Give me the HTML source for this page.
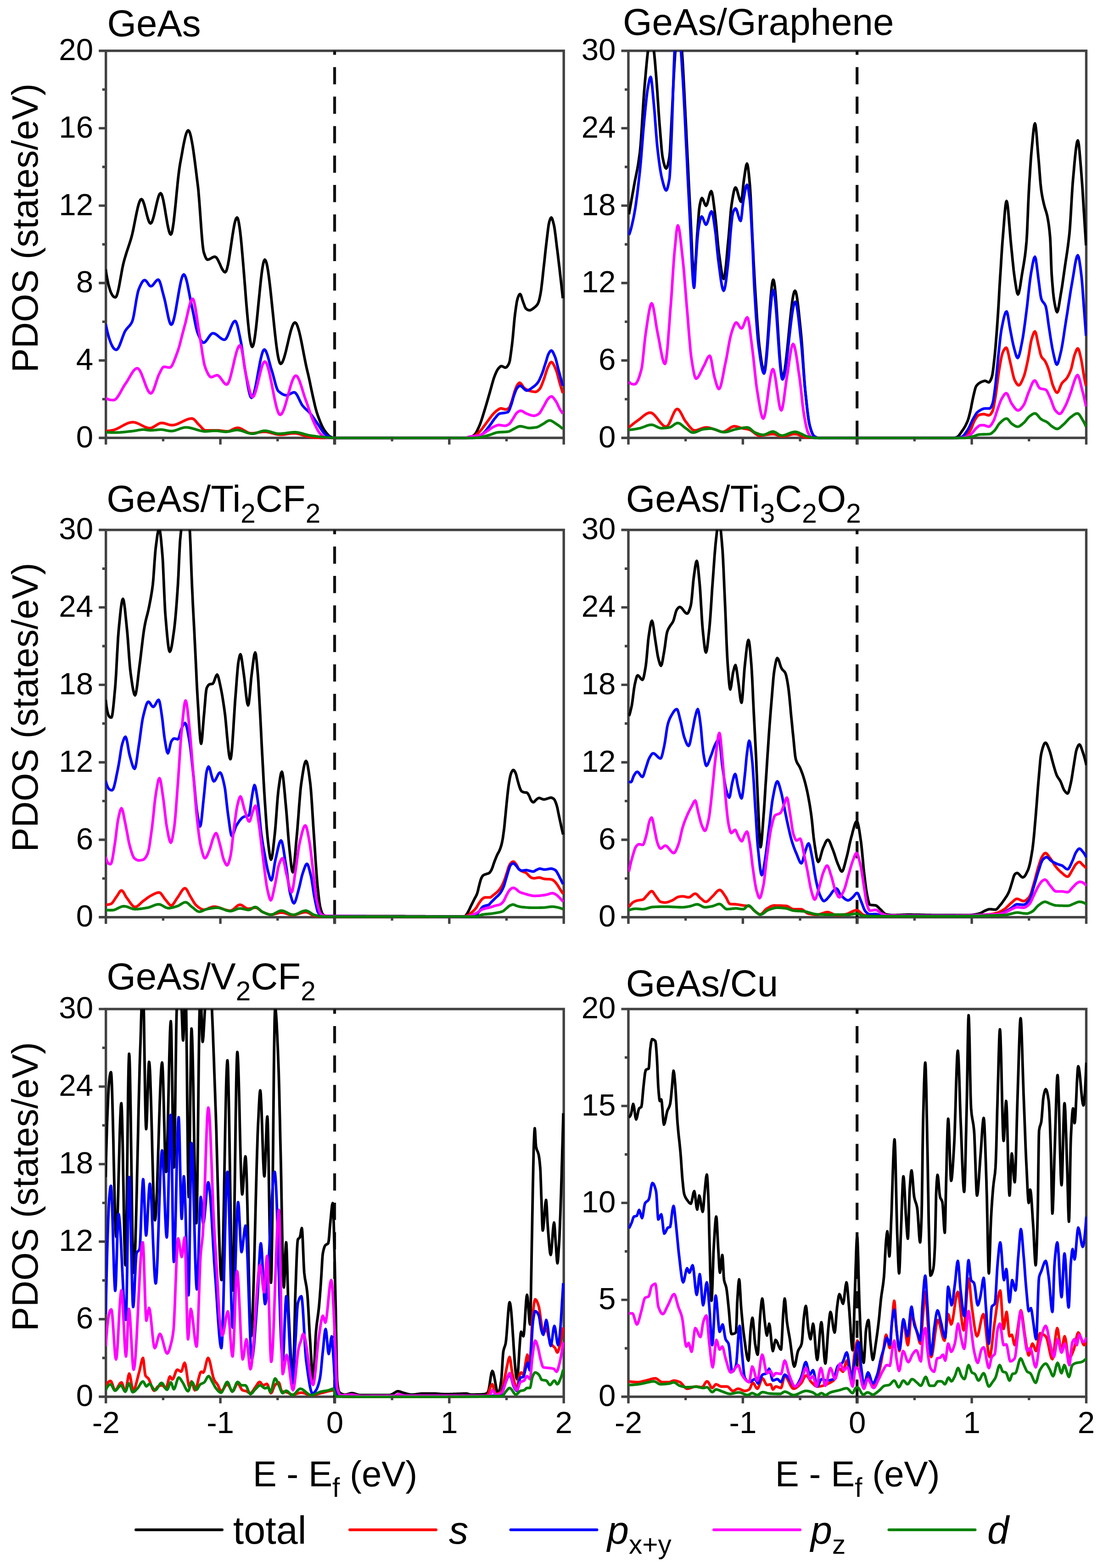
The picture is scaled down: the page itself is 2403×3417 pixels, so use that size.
<!DOCTYPE html>
<html lang="en"><head><meta charset="utf-8"><title>PDOS</title>
<style>
html,body{margin:0;padding:0;background:#fff;}
body{width:2403px;height:3417px;overflow:hidden;}
svg{display:block;}
text{font-family:"Liberation Sans",sans-serif;fill:#000;}
.t{font-size:80px;}
.tt{font-size:81.7px;}
.xl{font-size:78px;}
.yl{font-size:79.3px;}
.lg{font-size:84.5px;}
.tk{font-size:67.3px;}
.sub{font-size:58.5px;}
.it{font-style:italic;}
.c{fill:none;stroke-width:5.8;stroke-linejoin:round;stroke-linecap:butt;}
.f{fill:none;stroke:#424242;stroke-width:5.4;}
</style></head><body>
<svg width="2403" height="3417" viewBox="0 0 2403 3417">
<rect width="2403" height="3417" fill="#fff"/>

<g id="p1">
<clipPath id="clip0"><rect x="230.7" y="110.7" width="998.5" height="847.5"/></clipPath>
<rect class="f" x="230.7" y="110.7" width="997.5" height="843.5"/>
<line x1="729.0" y1="968.7" x2="729.0" y2="110.7" stroke="#111" stroke-width="6.2" stroke-dasharray="52.0 26.7 37.5 26.7 37.5 26.7 37.5 26.7 37.5 26.7 37.5 26.7 37.5 26.7 37.5 26.7 37.5 26.7 37.5 26.7 37.5 26.7 37.5 26.7 37.5 26.7 37.5 26.7"/>
<g clip-path="url(#clip0)">
<polyline class="c" stroke="#000000" stroke-width="6.0" points="230.2,586.8 232.1,598.9 234.0,609.4 235.9,618.4 237.9,626.0 239.8,632.4 241.7,637.5 243.7,641.5 245.6,644.5 247.5,646.5 249.5,647.6 251.4,648.0 253.3,646.4 255.1,642.0 257.0,635.2 258.9,626.7 260.7,617.0 262.6,606.6 264.5,596.1 266.3,586.0 268.2,576.8 270.1,569.1 271.9,562.8 273.7,556.9 275.4,551.2 277.2,545.7 279.0,540.3 280.8,534.9 282.6,529.3 284.4,523.6 286.2,517.6 288.2,509.9 290.2,501.0 292.1,491.3 294.1,481.2 296.1,471.1 298.1,461.5 300.1,452.6 302.1,445.0 304.1,439.1 306.1,435.2 308.1,433.9 310.1,435.4 312.1,439.4 314.1,445.3 316.1,452.6 318.1,460.4 320.0,468.3 322.0,475.5 324.0,481.5 326.0,485.5 328.0,487.0 330.0,485.5 332.0,481.2 334.0,474.9 336.0,467.2 338.0,458.5 340.0,449.5 342.0,440.8 344.0,433.0 345.9,426.7 347.9,422.5 349.9,421.0 351.8,422.8 353.6,427.7 355.5,435.1 357.3,444.4 359.2,454.9 361.0,466.1 362.9,477.2 364.7,487.8 366.6,497.1 368.4,504.5 370.3,509.4 372.1,511.1 373.7,509.1 375.3,503.4 376.8,494.6 378.4,483.3 379.9,469.9 381.5,455.1 383.1,439.3 384.6,423.2 386.2,407.3 387.7,392.1 389.3,378.3 390.9,366.2 392.4,356.6 394.4,345.9 396.4,334.9 398.3,323.9 400.3,313.5 402.3,304.1 404.2,296.0 406.2,289.7 408.2,285.6 410.1,284.1 412.0,285.7 413.9,290.2 415.8,297.3 417.7,306.7 419.7,317.8 421.6,330.6 423.5,344.5 425.4,359.2 427.3,374.4 429.2,389.8 431.1,404.9 432.1,413.7 433.0,424.4 434.0,436.5 435.0,449.7 436.0,463.6 437.0,477.7 438.0,491.7 439.0,505.1 440.0,517.6 441.0,528.7 442.0,538.0 443.0,545.2 443.9,549.8 445.6,554.8 447.2,559.2 448.8,562.7 450.4,565.0 452.0,565.9 453.8,565.7 455.6,565.1 457.4,564.2 459.2,563.2 460.9,562.1 462.7,561.1 464.5,560.3 466.3,559.7 468.1,559.4 470.0,560.1 471.9,561.9 473.7,564.7 475.6,568.2 477.5,572.2 479.4,576.3 481.2,580.5 483.1,584.5 485.0,588.0 486.9,590.7 488.8,592.6 490.6,593.3 492.6,591.2 494.6,585.7 496.6,577.1 498.6,566.4 500.5,553.9 502.5,540.5 504.5,526.8 506.5,513.4 508.5,501.0 510.4,490.2 512.4,481.7 514.4,476.1 516.4,474.1 517.8,475.5 519.2,479.7 520.5,486.2 521.9,495.0 523.3,505.7 524.7,518.1 526.1,532.0 527.4,547.2 528.8,563.3 530.2,580.1 531.6,597.4 533.0,615.0 534.4,632.6 535.7,649.9 537.1,666.7 538.5,682.8 539.9,697.9 541.3,711.8 542.6,724.3 544.0,735.0 545.4,743.7 546.8,750.3 548.2,754.4 549.6,755.9 551.3,753.7 553.0,747.7 554.7,738.3 556.4,726.2 558.1,711.8 559.8,695.7 561.5,678.6 563.2,660.9 565.0,643.2 566.7,626.0 568.4,609.9 570.1,595.6 571.8,583.4 573.5,574.0 575.2,568.0 576.9,565.9 578.7,567.7 580.6,572.9 582.4,581.1 584.2,591.8 586.0,604.8 587.8,619.5 589.6,635.6 591.4,652.7 593.2,670.4 595.1,688.3 596.9,706.0 598.7,723.1 600.5,739.3 602.3,754.0 604.1,766.9 605.9,777.7 607.8,785.9 609.6,791.1 611.4,792.9 613.3,791.9 615.3,789.0 617.2,784.6 619.2,778.8 621.1,772.0 623.1,764.4 625.0,756.2 627.0,747.8 628.9,739.4 630.9,731.2 632.8,723.6 634.8,716.8 636.8,711.0 638.7,706.6 640.7,703.7 642.6,702.7 644.5,703.7 646.4,706.6 648.3,711.1 650.2,717.1 652.2,724.3 654.1,732.4 656.0,741.4 657.9,750.9 659.8,760.7 661.7,770.7 663.6,780.5 665.5,790.1 667.4,799.1 669.3,807.4 671.2,815.3 673.1,823.7 675.0,832.4 676.8,841.3 678.7,850.3 680.6,859.2 682.5,867.9 684.4,876.2 686.2,884.1 688.1,891.5 690.0,898.1 691.9,904.0 693.7,909.0 695.5,913.8 697.2,918.3 699.0,922.6 700.8,926.7 702.6,930.4 704.4,933.7 706.2,936.8 708.0,939.4 709.8,941.8 711.7,944.2 713.5,946.3 715.3,948.3 717.2,950.0 719.0,951.3 720.9,952.3 722.7,953.0 724.6,953.7 726.4,954.1 728.3,954.3 1015.0,954.3 1016.8,954.2 1018.6,954.0 1020.4,953.7 1022.2,953.3 1024.1,952.9 1025.9,952.2 1027.8,951.4 1029.6,950.3 1031.5,949.1 1033.3,947.8 1035.2,945.9 1037.0,943.2 1038.9,939.8 1040.7,936.0 1042.6,932.0 1044.4,927.8 1046.3,923.2 1048.1,918.1 1050.0,912.4 1051.9,906.5 1053.7,900.4 1055.6,894.4 1057.4,888.4 1059.3,882.2 1061.1,875.9 1063.0,869.4 1064.8,863.0 1066.7,856.7 1068.5,850.1 1070.4,843.3 1072.2,836.5 1074.1,830.0 1075.9,824.0 1077.8,818.9 1079.7,814.2 1081.7,809.8 1083.6,806.1 1085.6,803.3 1087.2,801.4 1088.9,799.6 1090.6,798.3 1092.2,797.8 1094.0,798.1 1095.8,799.0 1097.6,799.9 1099.3,800.8 1101.1,801.1 1103.1,800.4 1105.0,798.6 1106.9,795.8 1108.9,792.2 1110.6,786.2 1112.2,775.9 1113.9,763.3 1115.6,750.0 1116.7,740.2 1117.8,728.7 1118.9,716.4 1120.0,704.1 1121.1,692.8 1122.2,683.3 1124.1,669.7 1125.9,657.9 1127.8,650.0 1129.5,645.5 1131.2,642.0 1132.9,640.7 1134.7,642.7 1136.4,647.6 1138.2,653.6 1140.0,658.9 1141.9,664.0 1143.7,669.1 1145.6,672.2 1147.5,673.8 1149.4,675.1 1151.4,675.9 1153.3,676.2 1155.2,676.0 1157.0,675.2 1158.9,674.2 1160.7,672.9 1162.6,671.4 1164.4,670.0 1166.4,668.4 1168.3,666.6 1170.3,664.2 1172.2,661.1 1174.1,656.0 1175.9,648.3 1177.8,638.9 1179.1,630.4 1180.4,619.7 1181.8,607.8 1183.1,595.4 1184.4,583.3 1185.8,571.4 1187.1,559.0 1188.4,546.6 1189.8,534.5 1191.1,523.3 1192.5,511.7 1193.9,500.0 1195.3,490.0 1196.7,483.3 1198.1,478.8 1199.6,475.4 1201.1,474.0 1203.0,476.5 1204.8,482.5 1206.7,490.0 1208.0,496.9 1209.3,506.1 1210.7,516.8 1212.0,528.0 1213.3,538.9 1214.7,549.5 1216.0,560.4 1217.3,571.6 1218.7,583.0 1220.0,594.4 1221.2,605.3 1222.5,616.2 1223.7,627.3 1225.0,638.6 1226.2,650.0"/>
<polyline class="c" stroke="#ff0000" stroke-width="6.0" points="230.2,939.4 231.9,939.3 233.7,939.1 235.5,939.0 237.2,938.8 239.0,938.6 240.8,938.3 242.5,938.0 244.3,937.8 246.3,937.4 248.2,936.9 250.2,936.2 252.2,935.5 254.1,934.7 256.1,933.8 258.0,932.8 260.0,931.8 262.0,930.7 263.9,929.6 265.9,928.5 267.8,927.5 269.8,926.4 271.8,925.4 273.7,924.4 275.7,923.5 277.6,922.7 279.6,921.9 281.6,921.3 283.5,920.8 285.5,920.4 287.4,920.1 289.4,920.1 291.3,920.2 293.3,920.5 295.2,920.9 297.2,921.5 299.1,922.3 301.1,923.1 303.0,924.0 305.0,925.0 306.9,926.0 308.9,927.0 310.8,928.0 312.8,929.0 314.7,929.9 316.7,930.7 318.6,931.5 320.6,932.1 322.5,932.5 324.5,932.8 326.4,932.9 328.4,932.8 330.4,932.2 332.4,931.4 334.3,930.4 336.3,929.2 338.3,928.0 340.3,926.7 342.3,925.4 344.3,924.2 346.2,923.2 348.2,922.4 350.2,921.9 352.2,921.7 354.1,921.8 355.9,922.0 357.8,922.4 359.7,922.9 361.6,923.5 363.5,924.1 365.3,924.7 367.2,925.2 369.1,925.7 371.0,926.1 372.8,926.4 374.7,926.5 376.7,926.4 378.7,926.2 380.6,925.8 382.6,925.2 384.6,924.6 386.6,923.9 388.6,923.0 390.5,922.1 392.5,921.2 394.5,920.2 396.5,919.3 398.4,918.3 400.4,917.3 402.4,916.4 404.4,915.5 406.3,914.7 408.3,913.9 410.3,913.3 412.3,912.7 414.2,912.3 416.2,912.1 418.2,912.0 420.0,912.4 421.8,913.3 423.6,914.7 425.3,916.5 427.1,918.5 428.9,920.6 430.7,922.8 432.5,924.8 434.3,926.5 436.1,928.3 438.0,930.4 439.8,932.5 441.6,934.5 443.5,936.2 445.3,937.3 447.2,937.8 472.9,937.8 474.8,937.8 476.7,937.9 478.6,938.1 480.4,938.4 482.3,938.6 484.2,938.9 486.1,939.2 488.0,939.4 489.8,939.7 491.7,939.9 493.6,940.0 495.5,940.0 497.5,939.8 499.4,939.4 501.4,938.6 503.4,937.7 505.4,936.7 507.4,935.6 509.4,934.6 511.4,933.7 513.4,933.0 515.4,932.5 517.4,932.3 519.3,932.4 521.3,932.9 523.3,933.5 525.3,934.4 527.2,935.4 529.2,936.5 531.2,937.7 533.2,938.8 535.1,940.0 537.1,941.1 539.1,942.1 541.1,943.0 543.0,943.6 545.0,944.1 547.0,944.2 548.9,944.2 550.8,944.1 552.8,943.9 554.7,943.6 556.6,943.4 558.6,943.1 560.5,942.8 562.4,942.4 564.4,942.1 566.3,941.8 568.2,941.6 570.2,941.3 572.1,941.1 574.0,941.0 576.0,941.0 577.9,941.0 579.9,941.2 581.9,941.5 583.8,941.8 585.8,942.2 587.8,942.7 589.7,943.2 591.7,943.7 593.7,944.2 595.6,944.7 597.6,945.3 599.6,945.8 601.5,946.2 603.5,946.6 605.5,947.0 607.4,947.2 609.4,947.4 611.4,947.4 613.3,947.4 615.2,947.3 617.2,947.1 619.1,946.9 621.0,946.6 623.0,946.3 624.9,946.0 626.8,945.7 628.8,945.3 630.7,945.0 632.6,944.8 634.6,944.5 636.5,944.4 638.4,944.3 640.4,944.2 642.3,944.3 644.3,944.4 646.3,944.7 648.2,945.1 650.2,945.5 652.2,946.0 654.1,946.5 656.1,947.1 658.1,947.7 660.0,948.3 662.0,948.9 664.0,949.5 665.9,950.1 667.9,950.7 669.9,951.2 671.8,951.6 673.8,952.0 675.8,952.3 677.6,952.5 679.5,952.7 681.4,952.9 683.2,953.1 685.1,953.4 687.0,953.5 688.8,953.7 690.7,953.9 692.5,954.0 694.4,954.1 696.3,954.2 698.1,954.3 700.0,954.3 1020.0,954.3 1021.8,954.2 1023.6,954.0 1025.3,953.6 1027.1,953.2 1028.9,952.7 1030.8,952.0 1032.8,950.9 1034.7,949.7 1036.7,948.2 1038.6,946.5 1040.6,944.8 1042.5,943.0 1044.4,941.1 1046.4,939.1 1048.3,936.9 1050.3,934.4 1052.2,931.8 1054.2,929.1 1056.1,926.4 1058.1,923.7 1060.0,921.1 1061.9,918.6 1063.9,915.9 1065.8,913.3 1067.8,910.6 1069.7,908.0 1071.7,905.5 1073.6,903.2 1075.6,901.1 1077.3,899.3 1079.1,897.6 1080.9,896.0 1082.7,894.6 1084.4,893.3 1086.1,892.2 1087.8,891.1 1089.4,890.3 1091.1,890.0 1093.0,890.2 1094.8,890.6 1096.7,891.1 1098.5,891.6 1100.4,892.1 1102.2,892.2 1103.9,892.0 1105.6,891.2 1107.2,890.2 1108.9,888.9 1110.6,886.4 1112.2,882.2 1113.9,877.2 1115.6,872.2 1117.2,866.9 1118.9,860.9 1120.6,855.0 1122.2,850.0 1124.1,845.2 1125.9,840.9 1127.8,837.8 1129.3,836.0 1130.7,834.6 1132.2,834.0 1134.2,835.0 1136.2,837.4 1138.2,840.5 1140.2,843.4 1142.2,845.6 1144.1,846.9 1146.0,848.1 1147.9,849.2 1149.8,850.1 1151.7,851.0 1153.7,851.7 1155.6,852.2 1157.4,852.7 1159.3,853.1 1161.1,853.4 1163.0,853.7 1164.8,853.9 1166.7,854.0 1168.4,853.7 1170.2,852.7 1172.0,851.3 1173.8,849.6 1175.6,847.8 1177.3,845.2 1179.1,841.6 1180.9,837.2 1182.7,832.5 1184.4,827.8 1186.2,822.7 1188.0,816.8 1189.8,810.9 1191.6,805.5 1193.3,801.1 1195.3,797.0 1197.2,793.0 1199.2,790.1 1201.1,788.9 1203.1,789.9 1205.1,792.6 1207.1,796.4 1209.1,800.9 1211.1,805.6 1212.9,810.4 1214.7,816.6 1216.4,823.4 1218.2,830.3 1220.0,836.7 1221.6,841.8 1223.1,846.9 1224.7,851.8 1226.2,856.7"/>
<polyline class="c" stroke="#0000ff" stroke-width="6.0" points="230.2,705.9 232.1,714.9 234.0,723.2 235.9,730.6 237.9,737.3 239.8,743.1 241.7,748.2 243.7,752.5 245.6,756.0 247.5,758.8 249.5,760.7 251.4,761.9 253.3,762.3 255.3,761.4 257.3,759.0 259.3,755.3 261.3,750.6 263.3,745.4 265.3,739.8 267.3,734.2 269.3,728.9 271.3,724.2 273.3,720.4 275.1,717.8 276.9,715.6 278.7,713.6 280.5,711.7 282.4,709.6 284.2,707.3 286.0,704.5 287.8,701.1 289.6,695.6 291.4,687.4 293.2,677.2 295.0,666.1 296.8,655.0 298.7,644.7 300.5,636.1 302.3,630.3 304.1,626.0 306.0,621.9 307.8,618.2 309.6,615.0 311.5,612.5 313.3,610.9 315.2,610.3 317.1,611.1 319.0,613.0 321.0,615.6 322.9,618.5 324.8,621.2 326.7,623.1 328.7,623.8 330.5,623.3 332.3,622.0 334.0,620.1 335.8,617.8 337.6,615.4 339.4,613.1 341.2,611.2 343.0,609.8 344.8,609.3 346.5,610.7 348.3,614.3 350.0,619.6 351.8,626.1 353.5,633.1 355.3,640.0 357.0,646.4 358.8,653.2 360.6,661.4 362.4,670.2 364.2,679.3 366.0,688.0 367.7,695.7 369.5,701.9 371.3,706.0 373.1,707.6 375.1,706.0 377.0,701.5 379.0,694.6 380.9,685.9 382.9,675.6 384.8,664.5 386.8,652.8 388.8,641.2 390.7,630.0 392.7,619.8 394.6,611.0 396.6,604.1 398.5,599.7 400.5,598.1 402.4,599.7 404.4,604.1 406.4,610.9 408.4,619.4 410.3,629.1 412.3,639.4 414.3,649.9 416.2,659.9 418.2,668.9 420.0,677.3 421.9,686.6 423.7,696.2 425.5,705.5 427.4,714.1 429.2,721.4 431.1,726.9 432.8,731.0 434.6,735.1 436.3,738.8 438.1,742.0 439.8,744.6 441.6,746.2 443.3,746.8 445.2,746.4 447.1,745.0 448.9,743.1 450.8,740.6 452.7,737.9 454.5,735.1 456.4,732.4 458.3,730.0 460.2,728.0 462.0,726.7 463.9,726.2 465.8,726.5 467.8,727.1 469.7,728.1 471.6,729.4 473.6,730.9 475.5,732.5 477.4,734.1 479.4,735.7 481.3,737.2 483.2,738.5 485.2,739.5 487.1,740.2 489.0,740.4 491.0,739.6 492.9,737.4 494.8,734.0 496.8,729.8 498.7,725.0 500.6,720.0 502.5,714.9 504.5,710.1 506.4,705.9 508.3,702.5 510.3,700.3 512.2,699.5 514.0,700.9 515.7,704.8 517.5,710.6 519.2,717.8 520.9,726.0 522.7,734.5 524.4,743.0 526.1,751.8 527.7,762.6 529.3,774.4 530.9,786.4 532.5,797.7 534.1,807.4 536.1,818.4 538.1,829.9 540.0,841.1 542.0,851.2 544.0,859.4 546.0,864.9 547.9,866.9 549.8,865.6 551.7,861.8 553.5,856.0 555.4,848.5 557.3,839.6 559.2,829.9 561.0,819.5 562.9,809.0 564.8,798.7 566.6,788.9 568.5,780.1 570.4,772.6 572.2,766.8 574.1,763.0 576.0,761.6 577.7,762.7 579.5,765.6 581.3,770.0 583.1,775.5 584.9,781.7 586.7,788.4 588.5,795.2 590.3,801.6 592.1,807.4 593.9,813.2 595.7,819.9 597.5,826.8 599.3,833.7 601.1,840.1 602.9,845.6 604.7,849.9 606.5,852.4 608.5,854.1 610.5,855.7 612.5,857.1 614.4,858.4 616.4,859.4 618.4,860.3 620.3,860.9 622.3,861.3 624.3,861.5 626.1,861.2 628.0,860.6 629.8,859.8 631.7,858.8 633.6,857.7 635.4,856.7 637.3,855.8 639.1,855.2 641.0,855.0 642.9,855.6 644.7,857.4 646.6,860.0 648.5,863.3 650.3,867.0 652.2,870.9 654.1,874.9 655.9,878.6 657.8,882.0 659.7,884.6 661.5,886.7 663.3,888.6 665.0,890.3 666.8,892.0 668.6,893.6 670.4,895.2 672.2,896.9 674.0,898.8 675.8,900.7 677.6,902.9 679.4,905.2 681.1,907.7 682.9,910.2 684.7,912.9 686.5,915.5 688.3,918.1 690.1,920.7 691.9,923.3 693.7,925.9 695.5,928.7 697.2,931.5 699.0,934.4 700.8,937.2 702.6,939.8 704.4,942.1 706.2,944.2 708.0,945.8 709.8,947.2 711.6,948.6 713.4,949.9 715.2,951.1 717.0,952.1 718.8,952.9 720.7,953.5 722.5,953.9 724.4,954.1 726.4,954.2 728.3,954.3 1030.0,954.3 1031.9,954.0 1033.7,953.4 1035.6,952.7 1037.5,952.0 1039.4,951.3 1041.4,950.5 1043.3,949.7 1045.3,948.8 1047.2,947.8 1049.2,946.8 1051.1,945.6 1053.1,944.1 1055.0,942.3 1056.9,940.2 1058.9,937.9 1060.8,935.4 1062.8,932.8 1064.7,930.3 1066.7,927.8 1068.5,925.3 1070.4,922.6 1072.2,919.9 1074.1,917.1 1075.9,914.5 1077.8,912.2 1079.6,910.0 1081.5,907.6 1083.3,905.3 1085.2,903.4 1087.0,901.9 1088.9,901.1 1090.7,900.8 1092.4,900.6 1094.2,900.4 1096.0,900.2 1097.8,900.0 1099.6,899.7 1101.3,899.4 1103.1,899.0 1104.9,898.5 1106.7,897.8 1108.3,895.9 1110.0,892.4 1111.7,887.9 1113.3,883.3 1115.0,878.3 1116.7,872.3 1118.3,866.3 1120.0,861.1 1121.7,856.5 1123.3,852.0 1125.0,848.2 1126.7,845.6 1128.2,843.8 1129.8,842.2 1131.3,841.1 1132.9,840.7 1134.8,841.1 1136.6,842.3 1138.5,844.0 1140.3,845.9 1142.2,847.8 1144.1,849.5 1145.9,850.7 1147.8,851.1 1149.5,850.9 1151.3,850.3 1153.0,849.4 1154.8,848.2 1156.5,847.0 1158.3,845.7 1160.0,844.4 1161.9,843.2 1163.7,841.8 1165.6,840.2 1167.4,838.5 1169.3,836.6 1171.1,834.4 1172.9,831.8 1174.7,828.6 1176.4,824.9 1178.2,820.9 1180.0,816.7 1181.8,812.0 1183.6,806.8 1185.3,801.2 1187.1,795.5 1188.9,790.0 1190.6,784.6 1192.2,778.8 1193.9,773.7 1195.6,770.0 1197.4,767.1 1199.3,764.7 1201.1,763.8 1203.1,765.0 1205.0,768.0 1206.9,772.2 1208.9,776.7 1210.7,781.7 1212.4,788.1 1214.2,795.5 1216.0,803.0 1217.8,810.0 1219.5,816.3 1221.2,822.5 1222.8,828.7 1224.5,834.9 1226.2,841.1"/>
<polyline class="c" stroke="#ff00ff" stroke-width="6.0" points="230.2,866.9 232.1,868.4 234.0,869.5 235.9,870.3 237.9,870.9 239.8,871.3 241.7,871.6 243.7,871.7 245.6,871.8 247.5,871.8 249.5,871.4 251.5,870.2 253.5,868.4 255.5,866.0 257.4,863.2 259.4,860.1 261.4,856.6 263.4,853.1 265.4,849.4 267.4,845.9 269.3,842.4 271.3,839.2 273.3,836.3 275.3,833.5 277.3,830.4 279.2,827.1 281.2,823.6 283.2,820.2 285.2,816.8 287.2,813.5 289.1,810.5 291.1,807.9 293.1,805.7 295.1,804.0 297.1,802.9 299.1,802.5 301.0,803.2 303.0,805.2 305.0,808.2 307.0,812.1 308.9,816.7 310.9,821.8 312.9,827.2 314.9,832.6 316.8,838.0 318.8,843.1 320.8,847.7 322.8,851.6 324.7,854.6 326.7,856.6 328.7,857.3 330.5,856.4 332.4,853.8 334.3,850.0 336.1,845.2 338.0,839.7 339.9,833.9 341.8,828.1 343.6,822.6 345.5,817.7 347.4,813.8 349.3,810.1 351.2,806.2 353.1,802.8 355.1,800.3 357.0,799.3 358.9,799.4 360.7,799.6 362.5,800.0 364.4,800.3 366.2,800.6 368.1,800.8 369.9,800.9 371.7,800.3 373.5,798.5 375.3,795.6 377.0,792.0 378.8,787.8 380.6,783.2 382.4,778.4 384.2,773.5 386.0,768.7 387.8,763.7 389.6,758.0 391.4,751.7 393.1,745.0 394.9,738.1 396.7,731.0 398.5,724.0 400.3,717.2 402.1,710.8 404.1,703.3 406.0,695.0 408.0,686.2 410.0,677.5 411.9,669.3 413.9,662.1 415.9,656.4 417.8,652.6 419.8,651.2 421.6,653.4 423.4,659.3 425.2,668.2 427.0,679.1 428.9,691.3 430.7,703.9 432.5,716.0 434.3,726.9 436.1,737.8 438.0,749.9 439.8,762.5 441.6,774.6 443.5,785.6 445.3,794.6 447.2,800.9 449.0,805.5 450.8,809.8 452.7,813.7 454.5,817.0 456.4,819.6 458.2,821.3 460.0,821.9 461.9,821.6 463.7,821.0 465.6,820.2 467.4,819.3 469.2,818.5 471.1,817.9 472.9,817.7 474.8,818.1 476.7,819.4 478.6,821.4 480.5,823.8 482.4,826.4 484.3,829.2 486.2,831.9 488.1,834.3 490.0,836.2 492.0,837.5 493.9,838.0 495.8,836.9 497.7,833.8 499.7,829.1 501.6,823.0 503.5,815.8 505.4,807.9 507.4,799.6 509.3,791.0 511.2,782.7 513.2,774.8 515.1,767.6 517.0,761.5 519.0,756.8 520.9,753.7 522.8,752.6 524.6,754.9 526.5,761.1 528.3,770.1 530.1,781.0 531.9,792.8 533.7,804.5 535.5,815.0 537.3,823.5 539.2,831.0 541.0,839.1 542.8,847.0 544.7,854.1 546.5,859.9 548.4,863.9 550.2,865.3 552.1,864.2 554.0,861.0 555.9,856.2 557.8,850.0 559.7,842.8 561.7,834.9 563.6,826.7 565.5,818.5 567.4,810.6 569.3,803.4 571.2,797.2 573.1,792.3 575.0,789.2 576.9,788.0 578.9,789.2 580.9,792.5 582.8,797.6 584.8,804.3 586.8,812.2 588.7,821.2 590.7,830.8 592.7,840.9 594.7,851.1 596.6,861.2 598.6,870.8 600.6,879.8 602.5,887.7 604.5,894.4 606.5,899.5 608.4,902.8 610.4,904.0 612.3,903.2 614.2,901.0 616.1,897.6 618.0,893.2 619.9,887.9 621.8,881.8 623.7,875.3 625.6,868.4 627.5,861.3 629.4,854.2 631.3,847.3 633.2,840.8 635.1,834.7 637.0,829.4 638.9,825.0 640.7,821.6 642.6,819.4 644.5,818.6 646.5,819.4 648.5,821.7 650.4,825.3 652.4,829.8 654.3,835.2 656.3,841.1 658.3,847.4 660.2,853.9 662.2,860.2 664.2,866.3 666.1,871.8 667.9,876.6 669.7,881.8 671.5,887.1 673.3,892.5 675.1,897.8 676.8,903.1 678.6,908.0 680.4,912.7 682.2,916.8 684.0,920.8 685.8,924.7 687.6,928.5 689.4,932.2 691.2,935.6 692.9,938.7 694.7,941.5 696.5,943.9 698.3,945.8 700.2,947.5 702.0,949.1 703.8,950.6 705.7,951.8 707.5,952.9 709.4,953.6 711.2,953.9 713.1,954.0 715.0,954.0 716.9,954.1 718.8,954.2 720.7,954.2 722.6,954.3 724.5,954.3 726.4,954.3 728.3,954.3 1015.0,954.3 1016.8,954.0 1018.6,953.2 1020.4,952.4 1022.2,951.8 1024.1,951.4 1025.9,951.1 1027.8,950.9 1029.6,950.7 1031.5,950.5 1033.3,950.4 1035.2,950.2 1037.0,950.0 1038.9,949.8 1040.7,949.6 1042.6,949.3 1044.4,948.9 1046.4,948.3 1048.4,947.5 1050.4,946.5 1052.3,945.4 1054.3,944.1 1056.3,942.8 1058.3,941.5 1060.2,940.1 1062.2,938.9 1064.1,937.6 1066.0,936.3 1067.9,934.9 1069.8,933.5 1071.7,932.2 1073.7,931.0 1075.6,930.0 1077.4,929.1 1079.3,928.3 1081.1,927.5 1083.0,926.8 1084.8,926.4 1086.7,926.2 1088.6,926.3 1090.5,926.5 1092.4,926.8 1094.3,927.2 1096.2,927.5 1098.1,927.7 1100.0,927.8 1101.8,927.6 1103.6,927.1 1105.3,926.4 1107.1,925.5 1108.9,924.4 1110.7,922.9 1112.4,920.6 1114.2,917.9 1116.0,915.0 1117.8,912.2 1119.6,909.4 1121.3,906.3 1123.1,903.3 1124.9,900.7 1126.7,898.9 1128.6,897.5 1130.6,896.3 1132.5,895.4 1134.4,895.1 1136.2,895.4 1137.9,896.0 1139.7,897.0 1141.4,898.1 1143.2,899.3 1144.9,900.3 1146.7,901.1 1148.5,901.8 1150.4,902.6 1152.2,903.3 1154.1,904.0 1155.9,904.6 1157.8,905.2 1159.6,905.6 1161.5,905.9 1163.3,906.0 1165.3,905.8 1167.3,905.2 1169.3,904.4 1171.3,903.4 1173.3,902.2 1175.2,900.6 1177.0,898.3 1178.9,895.3 1180.7,892.1 1182.6,888.7 1184.4,885.6 1186.2,882.4 1188.0,878.9 1189.8,875.5 1191.6,872.4 1193.3,870.0 1195.3,867.8 1197.2,865.8 1199.2,864.4 1201.1,863.8 1203.1,864.4 1205.1,866.2 1207.1,868.7 1209.1,871.5 1211.1,874.4 1212.9,877.4 1214.7,881.1 1216.4,885.0 1218.2,888.9 1220.0,892.2 1221.6,894.7 1223.1,897.0 1224.7,899.2 1226.2,901.1"/>
<polyline class="c" stroke="#008000" stroke-width="6.0" points="230.2,942.0 232.0,942.1 233.9,942.2 235.8,942.3 237.6,942.4 239.5,942.4 241.4,942.5 243.3,942.5 245.1,942.6 247.0,942.6 248.9,942.6 250.8,942.6 252.7,942.6 254.6,942.5 256.6,942.5 258.5,942.4 260.4,942.3 262.3,942.2 264.3,942.0 266.2,941.9 268.1,941.7 270.1,941.5 272.0,941.3 273.9,941.1 275.9,940.9 277.8,940.7 279.7,940.5 281.7,940.2 283.6,940.0 285.5,939.8 287.5,939.6 289.4,939.4 291.3,939.1 293.2,938.9 295.0,938.5 296.9,938.2 298.8,937.8 300.7,937.5 302.5,937.1 304.4,936.8 306.3,936.6 308.2,936.3 310.1,936.2 311.9,936.2 313.7,936.2 315.5,936.4 317.3,936.6 319.1,936.8 320.9,937.1 322.7,937.4 324.5,937.6 326.2,937.7 328.0,937.8 329.9,937.7 331.8,937.7 333.7,937.5 335.5,937.4 337.4,937.2 339.3,937.0 341.2,936.8 343.1,936.6 344.9,936.4 346.8,936.3 348.7,936.2 350.6,936.2 352.5,936.2 354.3,936.4 356.2,936.7 358.1,937.0 360.0,937.4 361.8,937.8 363.7,938.2 365.6,938.5 367.5,938.9 369.4,939.1 371.2,939.3 373.1,939.4 375.0,939.3 376.9,939.1 378.8,938.7 380.7,938.3 382.6,937.7 384.5,937.1 386.4,936.4 388.3,935.7 390.2,935.0 392.1,934.3 393.9,933.6 395.8,933.0 397.7,932.5 399.6,932.0 401.5,931.6 403.4,931.4 405.3,931.3 407.3,931.4 409.3,931.6 411.3,931.8 413.3,932.2 415.3,932.6 417.3,933.1 419.3,933.6 421.3,934.2 423.2,934.8 425.2,935.4 427.2,936.0 429.2,936.6 431.2,937.2 433.2,937.8 435.2,938.3 437.2,938.8 439.2,939.2 441.2,939.5 443.2,939.8 445.2,940.0 447.2,940.0 449.0,940.0 450.9,939.9 452.8,939.8 454.7,939.7 456.6,939.5 458.4,939.4 460.3,939.2 462.2,939.1 464.1,938.9 465.9,938.8 467.8,938.8 469.7,938.7 471.6,938.8 473.5,938.9 475.3,939.1 477.2,939.3 479.1,939.6 481.0,939.9 482.9,940.1 484.7,940.4 486.6,940.6 488.5,940.8 490.4,940.9 492.2,941.0 494.1,940.9 496.0,940.7 497.8,940.5 499.7,940.1 501.5,939.7 503.4,939.3 505.2,938.8 507.1,938.4 509.0,938.0 510.8,937.6 512.7,937.4 514.5,937.2 516.4,937.1 518.4,937.2 520.4,937.4 522.4,937.8 524.3,938.3 526.3,938.8 528.3,939.4 530.3,940.1 532.3,940.8 534.3,941.5 536.3,942.2 538.3,942.9 540.3,943.5 542.2,944.0 544.2,944.5 546.2,944.9 548.2,945.1 550.2,945.2 552.1,945.1 554.0,944.8 555.9,944.4 557.7,943.9 559.6,943.3 561.5,942.6 563.4,942.0 565.3,941.3 567.2,940.6 569.1,940.0 570.9,939.5 572.8,939.1 574.7,938.8 576.6,938.7 578.6,938.8 580.5,939.0 582.5,939.3 584.5,939.7 586.5,940.2 588.4,940.8 590.4,941.4 592.4,942.0 594.4,942.6 596.3,943.1 598.3,943.7 600.3,944.2 602.2,944.6 604.2,944.9 606.2,945.1 608.2,945.2 610.1,945.1 612.1,945.1 614.1,944.9 616.1,944.7 618.1,944.5 620.1,944.3 622.1,944.0 624.1,943.7 626.1,943.4 628.0,943.1 630.0,942.9 632.0,942.6 634.0,942.4 636.0,942.2 638.0,942.1 640.0,942.0 642.0,942.0 644.0,942.0 645.9,942.2 647.9,942.4 649.9,942.7 651.9,943.1 653.9,943.6 655.9,944.1 657.9,944.6 659.9,945.1 661.9,945.7 663.8,946.3 665.8,946.8 667.8,947.3 669.8,947.8 671.8,948.3 673.8,948.7 675.8,949.0 677.7,949.3 679.6,949.6 681.5,949.9 683.4,950.1 685.2,950.4 687.1,950.6 689.0,950.9 690.9,951.1 692.8,951.4 694.7,951.6 696.6,951.8 698.5,952.0 700.4,952.2 702.3,952.4 704.2,952.6 706.1,952.7 708.0,952.9 709.8,953.1 711.7,953.2 713.5,953.4 715.4,953.6 717.2,953.7 719.1,953.9 720.9,954.0 722.8,954.1 724.6,954.2 726.5,954.3 728.3,954.3 1035.0,954.3 1036.9,954.2 1038.8,954.1 1040.7,953.9 1042.6,953.6 1044.4,953.3 1046.3,953.0 1048.1,952.7 1050.0,952.3 1051.9,951.9 1053.7,951.4 1055.6,950.9 1057.4,950.4 1059.3,949.9 1061.1,949.4 1063.0,948.8 1064.8,948.3 1066.7,947.8 1068.6,947.2 1070.6,946.5 1072.6,945.8 1074.6,945.0 1076.5,944.3 1078.5,943.6 1080.5,943.0 1082.5,942.5 1084.4,942.2 1086.3,942.0 1088.1,941.9 1090.0,941.7 1091.9,941.6 1093.7,941.6 1095.6,941.5 1097.4,941.4 1099.3,941.3 1101.1,941.2 1103.0,941.1 1104.8,940.9 1106.7,940.7 1108.6,940.2 1110.5,939.5 1112.4,938.6 1114.3,937.5 1116.2,936.4 1118.1,935.4 1120.0,934.4 1121.8,933.5 1123.7,932.5 1125.5,931.4 1127.4,930.5 1129.2,929.7 1131.0,929.1 1132.9,928.9 1134.7,929.0 1136.6,929.2 1138.5,929.6 1140.3,930.0 1142.2,930.5 1144.0,931.0 1145.9,931.5 1147.8,932.0 1149.6,932.3 1151.5,932.6 1153.3,932.7 1155.3,932.6 1157.2,932.5 1159.2,932.4 1161.1,932.2 1163.1,932.0 1165.0,931.7 1166.9,931.4 1168.9,931.1 1170.8,930.6 1172.7,929.9 1174.6,928.9 1176.5,927.8 1178.4,926.6 1180.3,925.5 1182.2,924.4 1184.2,923.3 1186.1,922.0 1188.1,920.7 1190.0,919.3 1191.9,918.1 1193.9,917.1 1195.8,916.5 1197.8,916.2 1199.7,916.5 1201.6,917.2 1203.5,918.2 1205.4,919.4 1207.3,920.7 1209.2,922.1 1211.1,923.3 1213.0,924.5 1214.9,925.8 1216.8,927.1 1218.7,928.5 1220.6,929.9 1222.4,931.4 1224.3,932.9 1226.2,934.4"/>
</g>
<path class="f" d="M215.2,954.2H230.7M222.7,869.9H230.7M215.2,785.5H230.7M222.7,701.1H230.7M215.2,616.8H230.7M222.7,532.5H230.7M215.2,448.1H230.7M222.7,363.8H230.7M215.2,279.4H230.7M222.7,195.1H230.7M215.2,110.7H230.7M230.7,954.2V968.7M355.4,954.2V961.7M480.1,954.2V968.7M604.8,954.2V961.7M729.5,954.2V968.7M854.1,954.2V961.7M978.8,954.2V968.7M1103.5,954.2V961.7M1228.2,954.2V968.7"/>
<text class="tk" x="203.2" y="974.7" text-anchor="end">0</text>
<text class="tk" x="203.2" y="806.0" text-anchor="end">4</text>
<text class="tk" x="203.2" y="637.3" text-anchor="end">8</text>
<text class="tk" x="203.2" y="468.6" text-anchor="end">12</text>
<text class="tk" x="203.2" y="299.9" text-anchor="end">16</text>
<text class="tk" x="203.2" y="131.2" text-anchor="end">20</text>
<text class="yl" transform="translate(82,497.0) rotate(-90)" text-anchor="middle">PDOS (states/eV)</text>
<text class="tt" x="233.4" y="79.4">GeAs</text>
</g>
<g id="p2">
<clipPath id="clip1"><rect x="1369.0" y="110.7" width="998.5" height="847.5"/></clipPath>
<rect class="f" x="1369.0" y="110.7" width="997.5" height="843.5"/>
<line x1="1867.2" y1="968.7" x2="1867.2" y2="110.7" stroke="#111" stroke-width="6.2" stroke-dasharray="52.0 26.7 37.5 26.7 37.5 26.7 37.5 26.7 37.5 26.7 37.5 26.7 37.5 26.7 37.5 26.7 37.5 26.7 37.5 26.7 37.5 26.7 37.5 26.7 37.5 26.7 37.5 26.7"/>
<g clip-path="url(#clip1)">
<polyline class="c" stroke="#000000" stroke-width="5.4" points="1370.2,467.1 1372.0,457.0 1373.8,446.9 1375.6,436.7 1377.4,426.5 1379.3,416.2 1381.1,405.9 1382.9,396.0 1384.8,386.8 1386.6,377.8 1388.5,368.3 1390.3,357.9 1392.1,345.9 1394.0,331.8 1394.8,324.3 1395.6,315.2 1396.4,304.9 1397.2,293.5 1398.0,281.4 1398.8,268.7 1399.6,255.9 1400.4,243.0 1401.2,230.4 1402.0,218.2 1402.8,206.9 1403.6,196.6 1404.6,184.5 1405.7,172.4 1406.7,160.6 1407.7,149.2 1408.7,138.4 1409.7,128.3 1410.7,118.9 1411.7,110.6 1413.3,97.4 1414.9,84.6 1416.5,74.9 1418.1,71.0 1419.7,74.8 1421.3,84.4 1423.0,97.2 1424.6,110.6 1425.5,119.3 1426.5,129.4 1427.5,140.6 1428.4,152.5 1429.4,164.4 1430.2,174.7 1431.0,185.7 1431.8,197.2 1432.6,209.1 1433.4,221.1 1434.2,233.1 1435.0,244.9 1435.8,256.2 1436.6,267.0 1437.4,277.1 1438.5,290.3 1439.6,303.7 1440.7,316.7 1441.7,328.3 1442.8,337.9 1443.9,344.7 1445.7,353.2 1447.6,360.4 1449.4,365.4 1451.3,367.2 1453.1,365.3 1454.8,359.9 1456.6,351.7 1458.4,341.5 1459.1,335.4 1459.8,326.3 1460.4,314.8 1461.1,301.8 1461.8,288.0 1462.5,274.1 1463.2,261.0 1463.7,250.9 1464.3,240.4 1464.8,229.4 1465.4,218.3 1465.9,207.0 1466.4,195.9 1467.0,185.0 1467.5,174.4 1468.0,164.4 1468.7,152.9 1469.3,141.9 1470.0,131.1 1470.6,120.7 1471.3,110.6 1472.1,97.2 1472.9,82.4 1473.7,67.2 1474.5,52.6 1475.3,39.6 1476.1,29.1 1476.9,22.1 1477.7,19.5 1478.7,21.9 1479.7,28.4 1480.7,38.4 1481.7,50.9 1482.7,65.2 1483.7,80.4 1484.7,95.8 1485.7,110.6 1486.3,119.6 1487.0,129.4 1487.6,139.8 1488.2,150.8 1488.8,162.1 1489.4,173.6 1490.0,185.1 1490.6,196.6 1491.2,207.7 1491.7,219.1 1492.3,230.6 1492.9,242.3 1493.5,254.1 1494.1,266.0 1494.7,277.9 1495.3,289.8 1495.8,301.8 1496.4,313.6 1497.0,325.4 1497.6,337.2 1498.2,349.1 1498.8,361.0 1499.4,373.0 1499.9,385.0 1500.5,396.9 1501.1,408.7 1501.7,420.4 1502.3,431.9 1502.9,443.2 1503.5,454.2 1504.1,467.2 1504.8,481.4 1505.5,496.3 1506.1,511.5 1506.8,526.8 1507.5,541.6 1508.1,555.6 1508.8,568.6 1509.5,580.0 1510.1,589.5 1510.8,596.8 1511.5,601.4 1512.1,603.0 1513.0,600.6 1513.8,593.8 1514.6,583.7 1515.4,571.1 1516.3,556.9 1517.1,542.0 1517.9,527.4 1518.7,513.9 1519.6,502.5 1520.5,490.0 1521.5,477.1 1522.4,464.9 1523.4,454.7 1524.4,447.7 1526.0,439.9 1527.6,434.0 1529.2,431.6 1531.0,433.4 1532.8,437.5 1534.6,442.5 1536.4,446.6 1538.2,448.4 1540.1,446.0 1542.0,440.1 1543.9,432.4 1545.7,424.8 1547.6,418.9 1549.5,416.5 1551.2,420.0 1553.0,429.0 1554.7,441.8 1556.5,456.2 1558.2,470.3 1559.3,480.2 1560.5,491.8 1561.6,504.5 1562.8,517.4 1563.9,529.9 1565.1,541.3 1566.2,550.8 1568.0,563.6 1569.7,576.6 1571.4,588.6 1573.1,598.6 1574.8,605.4 1576.5,607.9 1577.9,605.4 1579.2,598.7 1580.5,588.6 1581.9,576.0 1583.2,561.8 1584.5,546.9 1585.8,532.2 1587.2,518.6 1588.2,507.1 1589.3,494.1 1590.4,480.7 1591.5,467.8 1592.5,456.4 1593.6,447.7 1595.3,436.4 1597.1,425.7 1598.8,416.8 1600.6,410.7 1602.3,408.5 1604.0,410.2 1605.8,414.7 1607.5,420.8 1609.3,427.4 1611.0,433.5 1612.8,438.0 1614.5,439.7 1615.8,435.8 1617.1,425.9 1618.4,413.1 1619.7,400.1 1621.0,389.8 1622.6,379.0 1624.2,368.2 1625.8,359.9 1627.4,356.6 1628.7,359.4 1630.0,367.0 1631.3,378.1 1632.6,391.4 1633.9,405.9 1634.4,413.1 1634.9,422.1 1635.5,432.5 1636.0,444.1 1636.6,456.4 1637.1,469.3 1637.7,482.2 1638.2,495.0 1638.8,507.2 1639.3,518.6 1639.9,530.1 1640.5,541.8 1641.1,553.4 1641.6,565.0 1642.2,576.5 1642.8,587.7 1643.4,598.7 1644.0,609.2 1644.5,619.3 1645.1,628.8 1646.0,642.8 1646.9,656.7 1647.8,670.5 1648.6,683.9 1649.5,696.9 1650.4,709.3 1651.3,721.0 1652.1,731.8 1653.0,741.6 1653.9,750.2 1654.8,757.6 1656.7,772.4 1658.6,786.3 1660.6,798.0 1662.5,806.1 1664.4,809.1 1665.6,807.1 1666.8,801.5 1668.0,792.6 1669.2,781.1 1670.4,767.5 1671.6,752.1 1672.8,735.4 1674.0,718.1 1675.2,700.5 1676.4,683.1 1677.6,666.5 1678.8,651.1 1680.0,637.4 1681.1,625.9 1682.3,617.1 1683.5,611.5 1684.7,609.5 1685.8,611.4 1686.9,616.8 1688.1,625.2 1689.2,636.3 1690.3,649.6 1691.4,664.6 1692.5,680.9 1693.6,698.1 1694.7,715.7 1695.8,733.4 1696.9,750.6 1698.0,766.9 1699.1,781.9 1700.3,795.2 1701.4,806.2 1702.5,814.7 1703.6,820.1 1704.7,822.0 1706.4,819.9 1708.1,813.9 1709.8,804.6 1711.5,792.6 1713.2,778.3 1715.0,762.4 1716.7,745.4 1718.4,727.8 1720.1,710.2 1721.8,693.2 1723.5,677.3 1725.2,663.1 1726.9,651.0 1728.6,641.7 1730.3,635.7 1732.1,633.6 1733.7,635.9 1735.3,642.3 1736.9,652.0 1738.5,664.3 1740.1,678.6 1741.7,694.0 1743.3,709.8 1744.9,725.4 1745.8,734.5 1746.7,745.1 1747.6,756.9 1748.5,769.6 1749.3,782.7 1750.2,796.1 1751.1,809.3 1752.0,822.0 1752.8,834.0 1753.7,844.8 1754.6,854.2 1756.0,867.5 1757.4,880.6 1758.7,892.9 1760.1,904.1 1761.5,914.0 1762.9,922.2 1764.3,928.2 1766.2,934.8 1768.1,940.6 1770.1,945.3 1772.0,948.8 1773.9,950.8 1775.8,951.9 1777.8,952.9 1779.7,953.7 1781.6,954.1 1783.6,954.3 1868.0,954.3 2075.4,954.3 2077.3,954.2 2079.3,954.0 2081.2,953.5 2083.1,953.0 2085.0,952.4 2087.0,951.2 2088.9,949.2 2090.8,946.7 2092.8,943.9 2094.7,941.1 2096.5,938.5 2098.4,935.9 2100.2,933.0 2102.1,929.9 2103.9,926.6 2105.7,922.8 2107.6,918.6 2109.2,914.1 2110.8,908.7 2112.4,902.6 2114.0,896.0 2115.6,888.5 2117.2,879.9 2118.9,871.4 2120.5,863.8 2122.1,857.0 2123.7,850.3 2125.3,844.8 2126.9,841.3 2128.7,839.0 2130.6,837.2 2132.4,835.6 2134.3,834.3 2136.1,833.2 2137.9,832.4 2139.8,831.6 2141.4,831.1 2143.0,830.5 2144.6,830.2 2146.2,830.0 2147.8,830.4 2149.4,831.2 2151.1,832.1 2152.7,832.9 2154.3,833.3 2155.9,832.3 2157.5,829.9 2159.1,826.3 2160.7,822.0 2162.0,816.6 2163.3,808.1 2164.6,797.6 2165.9,785.8 2167.2,773.7 2168.1,764.5 2169.0,754.3 2169.9,743.3 2170.8,731.5 2171.8,719.1 2172.7,706.3 2173.6,693.2 2174.3,682.8 2175.0,671.6 2175.7,659.8 2176.4,647.8 2177.0,635.7 2177.7,624.0 2178.4,612.7 2179.1,601.3 2179.9,589.7 2180.6,578.2 2181.3,566.8 2182.0,555.7 2182.7,544.9 2183.4,534.7 2184.1,525.0 2184.9,516.1 2186.0,501.7 2187.2,486.7 2188.3,472.0 2189.5,458.8 2190.6,448.0 2191.8,440.7 2192.9,438.1 2194.1,440.9 2195.3,448.5 2196.5,459.8 2197.7,473.7 2198.9,489.0 2200.2,504.6 2201.4,519.4 2202.6,532.2 2203.7,543.4 2204.9,555.0 2206.0,566.6 2207.2,577.8 2208.3,588.5 2209.5,598.0 2210.6,606.3 2212.4,618.2 2214.2,629.7 2215.9,638.3 2217.7,641.7 2219.5,638.7 2221.3,630.9 2223.1,620.2 2224.9,608.1 2226.7,596.6 2228.3,587.3 2229.9,578.0 2231.5,568.0 2233.2,556.4 2234.8,542.6 2236.4,525.8 2236.9,518.2 2237.5,508.5 2238.0,497.0 2238.5,484.3 2239.1,470.9 2239.6,457.5 2240.1,444.5 2240.7,432.5 2241.2,422.0 2241.9,409.3 2242.6,397.0 2243.4,384.9 2244.1,373.3 2244.8,362.3 2245.5,351.9 2246.2,342.2 2246.9,333.3 2247.6,325.4 2249.1,310.1 2250.5,294.9 2251.9,281.8 2253.3,272.5 2254.7,269.0 2255.8,271.7 2256.8,278.8 2257.9,289.3 2259.0,302.0 2260.0,315.7 2261.1,329.2 2262.1,341.5 2263.1,352.0 2264.0,363.5 2264.9,375.5 2265.8,387.3 2266.7,398.3 2267.7,407.9 2268.6,415.5 2270.2,425.6 2271.8,433.9 2273.4,441.1 2275.0,447.7 2276.6,453.5 2278.2,458.5 2279.8,463.7 2281.5,470.3 2282.7,476.7 2284.0,484.2 2285.3,493.2 2286.6,504.5 2287.9,518.6 2288.4,527.8 2289.0,541.1 2289.5,556.5 2290.0,572.2 2290.6,586.2 2291.1,596.6 2292.2,611.7 2293.3,625.0 2294.3,636.6 2295.4,646.5 2296.5,654.6 2297.6,661.0 2299.4,670.2 2301.2,677.4 2303.0,680.3 2304.9,676.7 2306.7,667.7 2308.6,656.2 2310.4,644.9 2312.0,635.5 2313.7,625.3 2315.3,614.4 2316.9,603.2 2318.5,591.8 2320.1,580.5 2321.7,569.7 2323.3,559.2 2324.9,548.6 2326.5,537.2 2328.1,524.4 2329.8,509.7 2330.6,500.6 2331.4,489.7 2332.2,477.4 2333.0,464.2 2333.8,450.4 2334.6,436.6 2335.4,423.2 2336.2,410.7 2337.0,399.4 2337.8,389.8 2339.3,373.6 2340.7,357.2 2342.2,341.5 2343.7,327.5 2345.2,316.3 2346.6,308.8 2348.1,306.1 2349.3,309.1 2350.6,317.3 2351.8,329.3 2353.0,343.6 2354.3,358.9 2355.5,373.7 2356.2,382.4 2356.9,392.0 2357.7,402.4 2358.4,413.3 2359.1,424.6 2359.8,436.2 2360.5,447.8 2361.2,459.2 2362.0,470.3 2362.6,480.9 2363.3,491.6 2364.0,502.3 2364.7,513.1 2365.4,523.9 2366.1,534.7"/>
<polyline class="c" stroke="#ff0000" stroke-width="5.4" points="1370.2,931.5 1372.0,929.9 1373.9,928.3 1375.8,926.8 1377.6,925.2 1379.5,923.7 1381.4,922.3 1383.3,920.8 1385.1,919.4 1387.0,918.0 1388.9,916.7 1390.8,915.4 1392.7,913.9 1394.7,912.4 1396.7,910.7 1398.7,909.1 1400.7,907.4 1402.6,905.8 1404.6,904.3 1406.6,902.9 1408.6,901.7 1410.6,900.7 1412.6,899.9 1414.5,899.4 1416.5,899.3 1418.4,899.5 1420.4,900.3 1422.3,901.5 1424.2,903.1 1426.2,905.0 1428.1,907.2 1430.0,909.5 1432.0,912.0 1433.9,914.6 1435.8,917.1 1437.8,919.6 1439.7,921.9 1441.6,924.1 1443.6,926.0 1445.5,927.6 1447.4,928.8 1449.4,929.6 1451.3,929.8 1453.1,929.2 1455.0,927.4 1456.9,924.6 1458.7,921.1 1460.6,917.1 1462.4,912.8 1464.3,908.3 1466.2,904.0 1468.0,899.9 1469.9,896.4 1471.7,893.7 1473.6,891.9 1475.4,891.2 1477.3,891.8 1479.1,893.3 1480.9,895.7 1482.8,898.7 1484.6,902.1 1486.5,905.8 1488.3,909.4 1490.1,912.9 1492.0,916.0 1493.8,918.6 1495.7,921.0 1497.7,923.6 1499.6,926.2 1501.5,928.7 1503.5,931.1 1505.4,933.3 1507.3,935.2 1509.2,936.6 1511.2,937.6 1513.1,937.9 1515.1,937.8 1517.1,937.5 1519.1,937.0 1521.0,936.4 1523.0,935.8 1525.0,935.0 1527.0,934.3 1529.0,933.6 1530.9,932.9 1532.9,932.3 1534.9,931.9 1536.9,931.6 1538.9,931.5 1540.8,931.5 1542.7,931.8 1544.7,932.2 1546.6,932.6 1548.5,933.2 1550.5,933.8 1552.4,934.5 1554.3,935.1 1556.3,935.7 1558.2,936.3 1560.0,936.8 1561.8,937.5 1563.6,938.2 1565.3,938.9 1567.1,939.6 1568.9,940.2 1570.7,940.7 1572.5,941.0 1574.3,941.1 1576.3,940.9 1578.3,940.3 1580.2,939.5 1582.2,938.4 1584.2,937.1 1586.2,935.7 1588.2,934.3 1590.1,932.9 1592.1,931.6 1594.1,930.5 1596.1,929.7 1598.1,929.1 1600.0,928.9 1601.8,929.0 1603.6,929.3 1605.4,929.7 1607.2,930.2 1609.0,930.8 1610.8,931.4 1612.6,932.0 1614.4,932.6 1616.1,933.1 1617.9,933.4 1619.7,933.8 1621.5,934.1 1623.3,934.4 1625.1,934.7 1626.9,935.0 1628.7,935.4 1630.5,935.8 1632.2,936.3 1634.1,937.0 1636.0,938.0 1637.9,939.2 1639.8,940.6 1641.6,942.1 1643.5,943.5 1645.4,945.0 1647.3,946.3 1649.1,947.5 1651.0,948.4 1652.9,949.0 1654.8,949.2 1656.7,949.1 1658.6,949.0 1660.6,948.8 1662.5,948.6 1664.4,948.3 1666.4,948.0 1668.3,947.7 1670.2,947.4 1672.2,947.1 1674.1,946.8 1676.0,946.5 1678.0,946.3 1679.9,946.1 1681.8,946.0 1683.8,945.9 1685.7,946.1 1687.6,946.4 1689.6,947.0 1691.5,947.6 1693.4,948.4 1695.4,949.1 1697.3,949.7 1699.2,950.3 1701.1,950.6 1703.1,950.8 1705.0,950.7 1706.9,950.5 1708.9,950.3 1710.8,949.9 1712.7,949.5 1714.7,949.1 1716.6,948.6 1718.5,948.1 1720.5,947.6 1722.4,947.2 1724.3,946.8 1726.3,946.4 1728.2,946.2 1730.1,946.0 1732.1,945.9 1734.0,946.1 1736.0,946.4 1738.0,946.9 1740.0,947.6 1742.0,948.3 1743.9,949.2 1745.9,950.0 1747.9,950.8 1749.9,951.6 1751.9,952.3 1753.9,952.8 1755.8,953.2 1757.8,953.3 1759.8,953.4 1761.8,953.4 1763.7,953.5 1765.7,953.5 1767.7,953.5 1769.6,953.6 1771.6,953.6 1773.6,953.6 1775.5,953.7 1777.5,953.7 1779.5,953.7 1781.4,953.8 1783.4,953.8 1785.4,953.8 1787.3,953.8 1789.3,953.9 1791.3,953.9 1793.2,953.9 1795.2,953.9 1797.2,954.0 1799.1,954.0 1801.1,954.0 1803.1,954.0 1805.0,954.0 1807.0,954.1 1809.0,954.1 1810.9,954.1 1812.9,954.1 1814.9,954.1 1816.8,954.1 1818.8,954.2 1820.8,954.2 1822.7,954.2 1824.7,954.2 1826.7,954.2 1828.6,954.2 1830.6,954.2 1832.6,954.2 1834.6,954.2 1836.5,954.2 1838.5,954.2 1840.5,954.3 1842.4,954.3 1844.4,954.3 1846.4,954.3 1848.3,954.3 1850.3,954.3 1852.3,954.3 1854.2,954.3 1856.2,954.3 1858.2,954.3 1860.1,954.3 1862.1,954.3 1864.1,954.3 1866.0,954.3 1868.0,954.3 2085.0,954.3 2086.8,954.3 2088.6,954.2 2090.4,954.1 2092.2,953.9 2094.0,953.7 2095.8,953.4 2097.6,953.1 2099.4,952.8 2101.1,952.4 2103.0,951.6 2104.8,950.3 2106.7,948.4 2108.5,946.1 2110.3,943.5 2112.2,940.7 2114.0,937.9 2116.0,934.1 2117.9,929.3 2119.8,924.0 2121.8,919.1 2123.7,915.4 2125.6,912.4 2127.5,909.5 2129.5,907.0 2131.4,905.1 2133.3,904.1 2135.3,903.6 2137.2,903.1 2139.1,902.8 2141.1,902.6 2143.0,902.5 2144.9,902.7 2146.8,903.1 2148.6,903.8 2150.5,904.4 2152.4,904.9 2154.3,905.1 2155.9,904.6 2157.5,903.3 2159.1,901.4 2160.7,898.9 2162.3,896.0 2163.9,891.1 2165.5,883.1 2167.2,873.6 2168.8,863.8 2170.4,853.3 2172.0,841.1 2173.6,828.4 2175.2,816.3 2176.8,805.9 2178.4,796.5 2180.0,787.2 2181.6,778.8 2183.3,771.9 2184.9,767.2 2186.7,763.6 2188.6,760.5 2190.4,758.4 2192.3,757.6 2194.0,759.9 2195.7,765.7 2197.5,773.6 2199.2,782.2 2201.0,789.8 2202.9,798.0 2204.8,806.9 2206.8,815.7 2208.7,823.2 2210.6,828.4 2212.4,831.8 2214.1,834.8 2215.8,837.3 2217.6,839.1 2219.3,839.7 2221.1,839.0 2222.9,837.0 2224.6,834.0 2226.4,830.3 2228.2,826.2 2229.9,822.0 2231.9,816.5 2233.8,809.4 2235.7,801.3 2237.7,792.4 2239.6,783.3 2241.2,774.6 2242.8,764.5 2244.4,754.2 2246.0,745.0 2247.6,738.3 2249.4,732.6 2251.2,727.4 2253.0,723.6 2254.7,722.2 2256.6,725.3 2258.4,733.0 2260.3,742.5 2262.1,751.1 2263.7,758.2 2265.4,765.7 2267.0,772.4 2268.6,776.9 2270.2,779.4 2271.8,781.3 2273.4,782.8 2275.0,784.4 2276.6,786.6 2278.2,789.5 2279.8,793.0 2281.5,797.0 2283.1,801.3 2284.7,805.9 2286.6,812.4 2288.5,820.2 2290.5,828.3 2292.4,835.7 2294.3,841.3 2296.1,845.3 2297.8,849.3 2299.6,852.6 2301.3,854.9 2303.0,855.8 2304.8,854.6 2306.6,851.4 2308.3,847.1 2310.1,842.4 2311.9,838.0 2313.7,834.9 2315.6,832.6 2317.5,830.9 2319.4,829.2 2321.4,827.4 2323.3,825.2 2325.2,822.4 2327.2,819.0 2329.1,815.2 2331.0,810.8 2333.0,805.9 2334.6,800.5 2336.2,793.5 2337.8,786.1 2339.4,779.1 2341.0,773.7 2342.8,768.7 2344.6,764.1 2346.3,760.6 2348.1,759.2 2350.0,761.5 2351.8,767.3 2353.7,775.1 2355.5,783.3 2357.1,791.7 2358.7,801.9 2360.3,812.5 2362.0,822.0 2363.3,828.9 2364.7,835.4 2366.1,841.3"/>
<polyline class="c" stroke="#0000ff" stroke-width="5.4" points="1370.2,512.1 1372.0,507.6 1373.8,501.9 1375.6,495.2 1377.4,487.5 1379.3,479.2 1381.1,470.3 1382.5,462.6 1384.0,454.0 1385.4,444.5 1386.8,434.2 1388.3,423.2 1389.7,411.5 1391.1,399.4 1392.5,386.7 1394.0,373.7 1394.9,364.2 1395.9,353.6 1396.9,342.3 1397.8,330.4 1398.8,318.3 1399.8,306.0 1400.7,293.9 1401.7,282.2 1402.7,271.2 1403.6,261.0 1405.0,247.4 1406.3,233.9 1407.7,220.8 1409.0,208.9 1410.3,198.5 1411.7,190.2 1413.6,179.8 1415.6,171.2 1417.5,167.6 1418.7,170.5 1419.8,178.2 1421.0,189.3 1422.2,202.4 1423.4,216.1 1424.6,228.8 1425.5,238.4 1426.4,249.1 1427.2,260.6 1428.1,272.5 1429.0,284.4 1429.9,296.0 1430.8,306.9 1431.7,316.8 1432.6,325.4 1434.2,338.9 1435.8,351.7 1437.4,363.3 1439.1,373.7 1440.7,382.6 1442.3,389.8 1444.1,396.9 1445.9,403.7 1447.7,409.4 1449.5,413.4 1451.3,414.9 1453.1,413.1 1454.8,407.9 1456.6,400.0 1458.4,389.8 1458.9,385.1 1459.4,378.0 1460.0,368.9 1460.5,358.2 1461.1,346.2 1461.6,333.4 1462.1,320.0 1462.7,306.5 1463.2,293.2 1463.7,279.1 1464.3,263.3 1464.8,246.5 1465.4,229.3 1465.9,212.5 1466.4,196.6 1467.0,180.9 1467.5,164.7 1468.0,148.7 1468.6,133.8 1469.1,120.9 1469.6,110.6 1470.7,94.6 1471.7,79.2 1472.7,65.2 1473.7,53.2 1474.7,43.9 1475.7,37.8 1476.7,35.6 1477.7,38.2 1478.7,45.3 1479.6,55.8 1480.6,68.7 1481.6,82.9 1482.5,97.2 1483.5,110.6 1484.2,119.9 1484.9,129.6 1485.5,139.9 1486.2,150.6 1486.9,161.6 1487.6,173.0 1488.3,184.7 1489.0,196.6 1489.5,207.1 1490.1,218.1 1490.7,229.4 1491.3,241.1 1491.9,253.0 1492.5,265.1 1493.1,277.2 1493.6,289.4 1494.2,301.5 1494.8,313.6 1495.4,325.4 1496.0,337.2 1496.6,349.1 1497.2,361.1 1497.7,373.1 1498.3,385.1 1498.9,397.0 1499.5,408.9 1500.1,420.6 1500.7,432.0 1501.3,443.3 1501.8,454.2 1502.5,467.4 1503.2,481.6 1503.9,496.4 1504.6,511.7 1505.3,527.1 1506.0,542.3 1506.7,557.2 1507.3,571.3 1508.0,584.5 1508.7,596.4 1509.4,606.7 1510.1,615.2 1510.8,621.7 1511.5,625.8 1512.1,627.2 1512.8,623.9 1513.5,615.2 1514.2,603.0 1514.9,589.3 1515.6,575.8 1516.3,564.4 1517.1,552.8 1517.9,540.8 1518.7,529.0 1519.6,518.2 1520.4,509.1 1521.2,502.5 1523.0,490.9 1524.9,481.2 1526.7,474.4 1528.6,471.9 1530.5,473.7 1532.4,478.1 1534.4,483.4 1536.3,487.8 1538.2,489.6 1540.2,487.5 1542.2,482.1 1544.2,475.1 1546.2,468.1 1548.2,462.8 1550.1,460.6 1551.7,463.2 1553.4,470.1 1555.0,479.8 1556.6,491.1 1558.2,502.5 1559.3,511.0 1560.3,521.5 1561.4,533.0 1562.5,544.5 1563.6,555.3 1564.6,564.4 1566.6,579.8 1568.6,595.5 1570.6,610.1 1572.6,622.2 1574.6,630.5 1576.5,633.6 1578.3,630.7 1580.1,622.8 1581.9,611.0 1583.6,596.5 1585.4,580.6 1587.2,564.4 1588.0,555.9 1588.8,545.4 1589.6,533.9 1590.4,522.4 1591.2,511.6 1592.0,502.5 1593.2,490.4 1594.4,479.0 1595.6,469.6 1596.8,463.8 1598.7,459.0 1600.5,455.5 1602.3,454.2 1604.2,456.2 1606.1,461.3 1607.9,467.9 1609.8,474.5 1611.7,479.5 1613.6,481.5 1615.0,476.3 1616.5,463.9 1617.9,449.5 1619.4,438.1 1621.0,428.6 1622.6,419.1 1624.2,410.8 1625.8,404.9 1627.4,402.7 1629.0,405.6 1630.6,413.6 1632.2,424.9 1633.9,438.1 1634.5,445.2 1635.2,454.6 1635.9,465.7 1636.6,478.2 1637.3,491.4 1638.0,505.1 1638.7,518.6 1639.2,529.6 1639.8,541.8 1640.3,554.7 1640.8,568.1 1641.4,581.6 1641.9,594.7 1642.4,607.2 1643.0,618.7 1643.5,628.8 1644.4,643.8 1645.3,658.5 1646.1,672.6 1647.0,686.2 1647.9,699.1 1648.8,711.2 1649.7,722.5 1650.5,732.9 1651.4,742.2 1652.3,750.5 1653.2,757.6 1655.1,771.4 1656.9,784.5 1658.8,796.1 1660.7,805.5 1662.6,811.7 1664.4,813.9 1665.7,811.9 1667.0,806.1 1668.2,797.1 1669.5,785.5 1670.8,771.7 1672.0,756.4 1673.3,739.9 1674.6,723.0 1675.9,706.0 1677.1,689.6 1678.4,674.2 1679.7,660.4 1680.9,648.8 1682.2,639.8 1683.5,634.1 1684.7,632.0 1685.9,634.0 1687.1,639.5 1688.3,648.1 1689.4,659.3 1690.6,672.7 1691.8,687.7 1692.9,703.9 1694.1,720.8 1695.3,738.0 1696.5,754.9 1697.6,771.1 1698.8,786.2 1700.0,799.5 1701.2,810.8 1702.3,819.4 1703.5,824.9 1704.7,826.8 1706.6,824.7 1708.4,818.6 1710.3,809.2 1712.2,797.2 1714.0,783.0 1715.9,767.3 1717.8,750.7 1719.6,733.9 1721.5,717.3 1723.4,701.6 1725.2,687.4 1727.1,675.4 1729.0,666.0 1730.8,659.9 1732.7,657.8 1734.5,660.5 1736.2,668.2 1737.9,679.5 1739.7,693.6 1741.4,709.3 1743.2,725.7 1744.9,741.5 1745.9,750.7 1746.9,761.1 1747.8,772.6 1748.8,784.7 1749.8,797.2 1750.7,809.7 1751.7,822.0 1752.7,833.7 1753.6,844.5 1754.6,854.2 1756.0,867.1 1757.4,879.9 1758.7,892.2 1760.1,903.6 1761.5,913.7 1762.9,922.1 1764.3,928.2 1766.2,934.8 1768.1,940.6 1770.1,945.3 1772.0,948.8 1773.9,950.8 1775.8,951.9 1777.8,952.9 1779.7,953.7 1781.6,954.1 1783.6,954.3 1868.0,954.3 2081.8,954.3 2083.7,954.3 2085.5,954.1 2087.3,953.9 2089.2,953.6 2091.0,953.3 2092.9,952.8 2094.7,952.4 2096.5,951.5 2098.4,950.1 2100.2,948.2 2102.1,945.8 2103.9,943.3 2105.7,940.6 2107.6,937.9 2109.4,934.9 2111.3,931.4 2113.1,927.5 2114.9,923.4 2116.8,919.4 2118.6,915.5 2120.5,912.1 2122.4,908.8 2124.3,905.4 2126.3,902.2 2128.2,899.5 2130.1,897.6 2131.9,896.4 2133.7,895.1 2135.5,894.0 2137.3,892.9 2139.1,892.0 2140.9,891.3 2142.6,890.7 2144.4,890.4 2146.2,890.2 2155.9,890.2 2157.5,889.4 2159.1,887.2 2160.7,883.9 2162.3,879.9 2163.9,873.5 2165.5,863.3 2167.2,851.0 2168.8,838.1 2169.8,828.8 2170.9,818.3 2172.0,806.9 2173.1,795.4 2174.1,784.1 2175.2,773.7 2176.5,761.5 2177.8,749.1 2179.1,737.4 2180.4,727.1 2181.6,718.9 2183.5,709.2 2185.4,699.8 2187.3,691.5 2189.2,684.8 2191.0,680.3 2192.9,678.7 2194.5,681.6 2196.1,689.1 2197.7,699.1 2199.3,709.7 2201.0,718.9 2202.6,727.1 2204.2,735.5 2205.8,743.7 2207.4,751.2 2209.0,757.6 2210.6,763.6 2212.2,769.6 2213.8,774.9 2215.4,778.7 2217.1,780.1 2219.0,777.9 2220.9,772.1 2222.9,763.9 2224.8,754.3 2226.7,744.7 2228.3,736.0 2229.9,725.7 2231.5,714.3 2233.2,702.1 2234.8,689.5 2236.4,677.1 2237.8,665.9 2239.1,653.6 2240.5,640.8 2241.9,628.1 2243.3,616.2 2244.7,605.5 2246.0,596.6 2247.8,586.5 2249.5,576.5 2251.3,567.9 2253.0,561.9 2254.7,559.6 2256.6,564.6 2258.4,576.8 2260.3,592.0 2262.1,606.3 2263.7,618.5 2265.4,631.9 2267.0,643.8 2268.6,651.3 2270.5,655.6 2272.4,658.3 2274.4,660.5 2276.3,663.2 2278.2,667.4 2279.8,674.6 2281.5,685.5 2283.1,697.9 2284.7,709.3 2286.6,721.7 2288.5,734.4 2290.5,746.7 2292.4,757.8 2294.3,767.2 2295.9,774.5 2297.6,781.9 2299.2,788.3 2300.8,792.9 2302.4,794.6 2304.0,793.1 2305.6,789.1 2307.2,783.5 2308.8,777.0 2310.4,770.5 2312.3,762.3 2314.1,752.4 2316.0,741.3 2317.8,729.4 2319.6,717.1 2321.5,704.9 2323.3,693.2 2325.2,681.7 2327.0,669.8 2328.8,657.7 2330.7,645.8 2332.5,634.1 2334.4,623.0 2336.2,612.7 2338.2,601.1 2340.2,588.6 2342.1,576.5 2344.1,566.2 2346.1,559.0 2348.1,556.3 2350.0,560.0 2351.8,569.4 2353.7,582.3 2355.5,596.6 2356.4,604.8 2357.4,614.9 2358.3,626.5 2359.2,639.0 2360.1,652.0 2361.0,664.8 2362.0,677.1 2362.8,687.9 2363.6,698.7 2364.5,709.7 2365.3,720.7 2366.1,731.8"/>
<polyline class="c" stroke="#ff00ff" stroke-width="5.4" points="1370.2,831.6 1371.9,833.8 1373.7,835.3 1375.5,836.4 1377.3,837.0 1379.1,837.3 1380.9,837.4 1382.7,837.4 1384.5,836.8 1386.3,834.9 1388.1,832.0 1390.0,828.2 1391.8,823.5 1393.6,818.1 1395.4,812.2 1397.2,805.9 1398.6,798.8 1400.0,788.4 1401.3,775.8 1402.7,762.0 1404.1,748.2 1405.5,735.7 1406.9,725.4 1408.7,713.3 1410.5,700.7 1412.4,688.6 1414.2,677.8 1416.1,669.0 1417.9,663.1 1419.7,661.0 1421.6,663.5 1423.4,670.3 1425.3,680.1 1427.1,691.8 1428.9,704.0 1430.8,715.6 1432.6,725.4 1434.4,734.2 1436.2,743.8 1438.0,753.8 1439.8,763.7 1441.6,772.9 1443.3,780.9 1445.1,787.3 1446.9,791.5 1448.7,793.0 1449.8,791.4 1450.9,786.8 1451.9,779.6 1453.0,770.2 1454.1,759.0 1455.2,746.3 1456.2,732.5 1457.3,718.1 1458.4,703.3 1459.4,688.6 1460.5,674.4 1461.6,661.0 1462.4,650.8 1463.2,639.5 1464.0,627.6 1464.8,615.3 1465.6,602.8 1466.4,590.5 1467.2,578.6 1468.0,567.4 1468.8,557.2 1469.6,548.3 1471.1,533.2 1472.5,517.9 1473.9,504.5 1475.3,494.9 1476.7,491.3 1478.2,493.7 1479.8,500.4 1481.3,510.4 1482.8,522.7 1484.3,536.4 1485.8,550.7 1487.4,564.4 1488.3,573.4 1489.3,583.4 1490.3,594.2 1491.2,605.7 1492.2,617.6 1493.1,629.7 1494.1,642.0 1495.1,654.1 1496.0,665.8 1497.0,677.1 1498.1,689.7 1499.2,702.9 1500.2,716.4 1501.3,729.8 1502.4,742.8 1503.5,755.0 1504.5,766.1 1505.6,775.6 1506.7,783.3 1508.6,795.4 1510.5,806.7 1512.5,816.2 1514.4,822.8 1516.3,825.2 1518.1,824.6 1519.9,823.0 1521.7,820.5 1523.5,817.4 1525.3,813.9 1527.1,810.1 1528.9,806.3 1530.6,802.7 1532.4,799.4 1534.4,795.7 1536.4,791.3 1538.4,786.7 1540.3,782.4 1542.3,778.7 1544.3,776.2 1546.3,775.3 1548.0,778.0 1549.7,784.8 1551.4,794.3 1553.1,804.8 1554.9,814.5 1556.6,822.0 1558.5,828.8 1560.4,835.7 1562.4,841.8 1564.3,846.1 1566.2,847.7 1568.0,846.1 1569.9,841.7 1571.7,835.1 1573.5,826.8 1575.3,817.6 1577.1,807.9 1578.9,798.4 1580.7,789.8 1582.6,780.9 1584.4,770.9 1586.2,760.5 1588.1,750.1 1589.9,740.4 1591.8,732.0 1593.6,725.4 1595.3,720.1 1597.0,715.0 1598.8,710.3 1600.5,706.4 1602.2,703.8 1603.9,702.8 1605.8,703.8 1607.8,706.2 1609.7,709.3 1611.6,712.4 1613.6,714.8 1615.5,715.7 1617.3,714.4 1619.1,710.9 1620.9,706.2 1622.7,701.1 1624.5,696.4 1626.3,692.9 1628.1,691.6 1629.8,694.7 1631.6,703.0 1633.4,715.0 1635.1,729.2 1636.9,743.9 1638.7,757.6 1639.9,767.3 1641.2,778.1 1642.4,789.7 1643.7,801.6 1644.9,813.6 1646.2,825.2 1647.4,836.1 1648.7,845.9 1650.0,854.2 1651.8,865.4 1653.6,876.8 1655.5,887.7 1657.3,897.4 1659.2,905.1 1661.0,910.3 1662.8,912.1 1664.7,909.6 1666.6,902.7 1668.5,892.4 1670.4,879.7 1672.3,865.5 1674.2,850.9 1676.2,836.7 1678.1,824.0 1680.0,813.7 1681.9,806.8 1683.8,804.3 1685.6,806.8 1687.4,813.6 1689.3,823.7 1691.1,836.0 1692.9,849.3 1694.8,862.7 1696.6,875.0 1698.4,885.1 1700.3,891.9 1702.1,894.4 1703.9,891.6 1705.6,884.1 1707.4,873.1 1709.1,860.1 1710.9,846.4 1712.6,833.2 1714.3,822.0 1716.3,810.0 1718.2,796.5 1720.1,782.8 1722.1,770.1 1724.0,759.5 1725.9,752.2 1727.9,749.5 1729.9,752.0 1731.8,758.6 1733.8,768.6 1735.8,780.8 1737.8,794.5 1739.7,808.5 1741.7,822.0 1743.1,832.1 1744.5,843.9 1745.9,856.7 1747.2,869.7 1748.6,882.2 1750.0,893.3 1751.4,902.5 1753.3,913.4 1755.2,923.6 1757.2,932.6 1759.1,939.7 1761.0,944.3 1763.0,947.4 1764.9,950.2 1766.8,952.3 1768.8,953.8 1770.7,954.3 1868.0,954.3 2088.3,954.3 2090.1,954.3 2091.8,954.2 2093.6,954.1 2095.4,953.9 2097.2,953.6 2099.0,953.4 2100.8,953.1 2102.6,952.7 2104.4,952.4 2106.2,951.8 2108.0,951.0 2109.9,950.0 2111.7,948.7 2113.6,947.3 2115.4,945.9 2117.2,944.3 2119.2,942.4 2121.1,940.0 2123.0,937.4 2125.0,935.0 2126.9,933.1 2128.8,931.3 2130.8,929.6 2132.7,928.1 2134.6,927.0 2136.6,926.6 2143.0,926.6 2144.9,926.9 2146.8,927.5 2148.6,928.2 2150.5,929.0 2152.4,929.6 2154.3,929.8 2156.2,929.2 2158.1,927.4 2160.1,924.9 2162.0,921.8 2163.9,918.6 2165.5,915.2 2167.2,910.8 2168.8,905.9 2170.4,900.8 2172.0,896.0 2173.9,890.5 2175.8,884.8 2177.8,879.2 2179.7,874.3 2181.6,870.3 2183.4,867.1 2185.2,864.0 2187.0,861.2 2188.7,858.9 2190.5,857.3 2192.3,856.8 2194.3,858.1 2196.2,861.6 2198.2,866.3 2200.2,871.5 2202.2,876.3 2204.2,879.9 2206.2,882.7 2208.1,885.6 2210.1,888.3 2212.1,890.7 2214.1,892.7 2216.0,894.0 2218.0,894.4 2220.0,894.0 2222.0,892.7 2224.0,890.9 2226.0,888.5 2228.0,885.9 2229.9,883.2 2231.8,879.8 2233.7,875.2 2235.6,869.8 2237.5,864.2 2239.3,858.9 2241.2,854.2 2243.0,849.8 2244.9,845.0 2246.7,840.3 2248.6,835.9 2250.4,832.4 2252.2,830.0 2254.1,829.1 2256.0,830.2 2257.8,833.1 2259.7,837.0 2261.6,841.0 2263.5,844.3 2265.4,846.1 2267.2,846.8 2269.0,847.2 2270.9,847.6 2272.7,847.8 2274.6,848.2 2276.4,848.7 2278.2,849.3 2280.2,851.1 2282.1,854.3 2284.0,858.4 2286.0,862.8 2287.9,867.1 2289.8,871.5 2291.7,876.7 2293.5,882.1 2295.4,887.1 2297.3,891.4 2299.2,894.4 2301.1,896.6 2303.0,898.6 2305.0,900.3 2306.9,901.4 2308.8,901.8 2310.7,901.1 2312.6,899.3 2314.5,896.6 2316.3,893.3 2318.2,889.8 2320.1,886.4 2321.9,882.8 2323.8,878.7 2325.6,874.2 2327.5,869.4 2329.3,864.4 2331.1,859.3 2333.0,854.2 2334.9,848.4 2336.8,842.1 2338.8,835.8 2340.7,829.9 2342.6,825.2 2344.2,821.6 2345.9,818.5 2347.5,817.2 2349.4,819.2 2351.3,824.5 2353.3,831.9 2355.2,840.0 2357.1,847.7 2358.9,854.6 2360.7,861.9 2362.5,869.7 2364.3,877.8 2366.1,886.4"/>
<polyline class="c" stroke="#008000" stroke-width="5.4" points="1370.2,936.9 1372.1,936.7 1374.1,936.5 1376.1,936.2 1378.1,936.0 1380.1,935.6 1382.1,935.3 1384.1,935.0 1386.0,934.6 1388.0,934.3 1390.0,933.9 1392.0,933.5 1394.0,933.1 1395.9,932.6 1397.8,932.0 1399.8,931.3 1401.7,930.6 1403.6,929.9 1405.6,929.1 1407.5,928.3 1409.4,927.6 1411.4,927.0 1413.3,926.4 1415.2,926.0 1417.2,925.8 1419.1,925.7 1421.1,925.8 1423.0,926.3 1425.0,927.0 1426.9,927.9 1428.9,928.9 1430.9,929.9 1432.8,930.8 1434.8,931.7 1436.7,932.4 1438.7,932.9 1440.7,933.1 1442.6,933.0 1444.6,933.0 1446.6,932.9 1448.5,932.7 1450.5,932.5 1452.5,932.3 1454.4,932.0 1456.4,931.8 1458.4,931.5 1460.2,931.0 1462.0,930.1 1463.9,929.0 1465.7,927.6 1467.6,926.3 1469.4,924.9 1471.2,923.7 1473.1,922.7 1474.9,922.0 1476.7,921.8 1478.6,922.1 1480.5,922.8 1482.4,923.9 1484.3,925.3 1486.2,926.9 1488.1,928.6 1490.0,930.2 1491.9,931.7 1493.8,933.1 1495.6,934.3 1497.4,935.6 1499.2,937.1 1500.9,938.5 1502.7,939.8 1504.5,941.0 1506.3,941.9 1508.1,942.5 1509.9,942.7 1511.8,942.6 1513.6,942.2 1515.5,941.7 1517.4,941.0 1519.3,940.2 1521.2,939.4 1523.0,938.5 1524.9,937.7 1526.8,936.9 1528.7,936.2 1530.6,935.7 1532.4,935.3 1534.2,935.1 1536.0,934.9 1537.8,934.7 1539.6,934.5 1541.4,934.3 1543.2,934.2 1545.0,934.1 1546.7,934.1 1548.5,934.0 1550.5,934.1 1552.4,934.4 1554.3,934.8 1556.3,935.4 1558.2,936.0 1560.1,936.8 1562.1,937.5 1564.0,938.3 1565.9,939.0 1567.8,939.8 1569.8,940.4 1571.7,941.0 1573.6,941.4 1575.6,941.7 1577.5,941.8 1579.5,941.7 1581.5,941.4 1583.5,941.1 1585.4,940.6 1587.4,940.1 1589.4,939.5 1591.4,938.8 1593.4,938.2 1595.3,937.5 1597.3,936.9 1599.3,936.3 1601.3,935.7 1603.3,935.3 1605.2,934.9 1607.1,934.5 1609.1,934.1 1611.0,933.7 1612.9,933.3 1614.9,933.0 1616.8,932.6 1618.7,932.3 1620.7,932.0 1622.6,931.8 1624.5,931.6 1626.4,931.5 1628.4,931.5 1630.2,931.8 1632.1,932.6 1634.0,933.9 1635.8,935.4 1637.7,937.1 1639.5,938.8 1641.4,940.4 1643.3,941.8 1645.1,942.7 1647.1,943.5 1649.1,944.3 1651.0,945.0 1653.0,945.7 1655.0,946.3 1656.9,946.8 1658.9,947.2 1660.9,947.5 1662.8,947.6 1664.7,947.4 1666.6,946.9 1668.5,946.3 1670.4,945.4 1672.3,944.5 1674.2,943.5 1676.2,942.6 1678.1,941.8 1680.0,941.1 1681.9,940.6 1683.8,940.5 1685.7,940.7 1687.6,941.4 1689.6,942.3 1691.5,943.5 1693.4,944.8 1695.4,946.1 1697.3,947.3 1699.2,948.3 1701.1,948.9 1703.1,949.2 1705.0,949.1 1706.9,948.8 1708.9,948.3 1710.8,947.8 1712.7,947.1 1714.7,946.3 1716.6,945.5 1718.5,944.7 1720.5,943.9 1722.4,943.2 1724.3,942.5 1726.3,942.0 1728.2,941.5 1730.1,941.2 1732.1,941.1 1734.0,941.2 1736.0,941.6 1738.0,942.2 1740.0,942.9 1742.0,943.7 1743.9,944.7 1745.9,945.7 1747.9,946.7 1749.9,947.7 1751.9,948.6 1753.9,949.5 1755.8,950.2 1757.8,950.8 1759.7,951.3 1761.7,951.7 1763.6,952.2 1765.5,952.7 1767.5,953.1 1769.4,953.5 1771.3,953.8 1773.3,954.1 1775.2,954.3 1777.1,954.3 1868.0,954.3 2101.1,954.3 2103.1,954.3 2105.0,954.1 2106.9,953.8 2108.9,953.5 2110.8,953.1 2112.7,952.7 2114.7,952.2 2116.6,951.7 2118.5,951.2 2120.5,950.8 2122.3,950.3 2124.1,949.6 2126.0,948.9 2127.8,948.3 2129.7,947.7 2131.5,947.2 2133.3,946.9 2135.2,946.8 2137.1,946.7 2139.0,946.6 2140.9,946.5 2142.7,946.5 2144.6,946.5 2146.5,946.4 2148.4,946.4 2150.2,946.3 2152.1,946.2 2154.0,946.1 2155.9,945.9 2157.8,945.4 2159.7,944.4 2161.7,942.9 2163.6,941.2 2165.5,939.5 2167.4,937.5 2169.2,935.0 2171.1,932.2 2172.9,929.2 2174.7,926.3 2176.6,923.8 2178.4,921.8 2180.2,920.1 2182.0,918.4 2183.9,916.8 2185.7,915.3 2187.5,914.0 2189.3,913.0 2191.1,912.4 2192.9,912.1 2194.8,912.8 2196.7,914.5 2198.5,916.8 2200.4,919.4 2202.3,921.7 2204.2,923.4 2206.0,924.7 2207.9,925.9 2209.7,927.2 2211.5,928.2 2213.4,929.1 2215.2,929.6 2217.1,929.8 2218.9,929.6 2220.7,928.9 2222.6,927.8 2224.4,926.4 2226.3,924.9 2228.1,923.3 2229.9,921.8 2231.8,920.1 2233.6,918.0 2235.5,915.6 2237.3,913.2 2239.1,910.9 2241.0,908.9 2242.8,907.3 2244.8,905.8 2246.8,904.4 2248.8,903.0 2250.8,901.9 2252.7,901.1 2254.7,900.9 2256.7,901.4 2258.7,902.9 2260.7,905.0 2262.6,907.4 2264.6,909.9 2266.6,912.1 2268.6,913.7 2270.4,914.8 2272.3,915.8 2274.1,916.6 2275.9,917.4 2277.8,918.2 2279.6,919.1 2281.5,920.2 2283.3,921.6 2285.2,923.2 2287.1,925.1 2289.0,926.9 2290.8,928.5 2292.7,929.8 2294.4,930.9 2296.2,932.0 2297.9,933.0 2299.6,933.9 2301.3,934.5 2303.0,934.7 2305.0,934.3 2307.0,933.4 2309.0,932.1 2310.9,930.4 2312.9,928.6 2314.9,926.7 2316.9,925.0 2318.7,923.4 2320.5,921.7 2322.2,919.7 2324.0,917.8 2325.8,915.8 2327.6,913.8 2329.4,912.0 2331.2,910.3 2333.0,908.9 2334.8,907.6 2336.6,906.2 2338.4,904.9 2340.2,903.6 2342.0,902.5 2343.8,901.6 2345.7,901.1 2347.5,900.9 2349.3,901.5 2351.2,903.3 2353.1,905.9 2355.0,909.0 2356.9,912.2 2358.7,915.4 2360.6,918.5 2362.4,922.0 2364.3,925.8 2366.1,929.8"/>
</g>
<path class="f" d="M1353.5,954.2H1369.0M1361.0,869.9H1369.0M1353.5,785.5H1369.0M1361.0,701.1H1369.0M1353.5,616.8H1369.0M1361.0,532.5H1369.0M1353.5,448.1H1369.0M1361.0,363.8H1369.0M1353.5,279.4H1369.0M1361.0,195.1H1369.0M1353.5,110.7H1369.0M1369.0,954.2V968.7M1493.7,954.2V961.7M1618.4,954.2V968.7M1743.1,954.2V961.7M1867.8,954.2V968.7M1992.4,954.2V961.7M2117.1,954.2V968.7M2241.8,954.2V961.7M2366.5,954.2V968.7"/>
<text class="tk" x="1341.5" y="974.7" text-anchor="end">0</text>
<text class="tk" x="1341.5" y="806.0" text-anchor="end">6</text>
<text class="tk" x="1341.5" y="637.3" text-anchor="end">12</text>
<text class="tk" x="1341.5" y="468.6" text-anchor="end">18</text>
<text class="tk" x="1341.5" y="299.9" text-anchor="end">24</text>
<text class="tk" x="1341.5" y="131.2" text-anchor="end">30</text>
<text class="tt" x="1357" y="76.3">GeAs/Graphene</text>
</g>
<g id="p3">
<clipPath id="clip2"><rect x="230.7" y="1154.8" width="998.5" height="848.0"/></clipPath>
<rect class="f" x="230.7" y="1154.8" width="997.5" height="844.0"/>
<line x1="729.0" y1="2013.3" x2="729.0" y2="1154.8" stroke="#111" stroke-width="6.2" stroke-dasharray="52.0 26.7 37.5 26.7 37.5 26.7 37.5 26.7 37.5 26.7 37.5 26.7 37.5 26.7 37.5 26.7 37.5 26.7 37.5 26.7 37.5 26.7 37.5 26.7 37.5 26.7 37.5 26.7"/>
<g clip-path="url(#clip2)">
<polyline class="c" stroke="#000000" stroke-width="5.5" points="230.2,1524.9 231.9,1539.2 233.7,1549.5 235.5,1556.4 237.3,1560.5 239.1,1562.7 240.9,1563.5 242.7,1563.6 244.1,1560.8 245.4,1553.2 246.7,1542.1 248.1,1528.6 249.4,1513.9 250.8,1499.2 251.5,1490.3 252.2,1479.7 253.0,1467.7 253.7,1454.6 254.4,1441.0 255.1,1427.3 255.9,1413.8 256.6,1400.9 257.3,1389.1 258.1,1378.8 258.8,1370.4 260.3,1355.1 261.8,1340.0 263.3,1326.4 264.8,1315.3 266.3,1307.8 267.8,1305.0 269.3,1308.0 270.7,1316.0 272.2,1327.6 273.6,1341.5 275.1,1356.2 276.5,1370.4 277.4,1379.6 278.3,1390.4 279.2,1402.2 280.1,1414.6 281.0,1427.0 281.9,1438.9 282.8,1449.9 283.7,1459.4 284.6,1467.0 286.5,1480.8 288.4,1493.9 290.4,1504.9 292.3,1512.5 294.2,1515.3 295.8,1512.1 297.4,1503.7 299.1,1491.7 300.7,1477.8 302.3,1463.6 303.9,1450.9 305.3,1440.3 306.7,1428.9 308.1,1417.0 309.5,1405.1 310.9,1393.5 312.3,1382.5 313.7,1372.5 315.2,1363.9 317.1,1354.3 319.0,1346.2 321.0,1338.7 322.9,1331.0 324.8,1322.1 326.4,1314.0 328.0,1305.6 329.6,1296.4 331.3,1286.0 332.9,1273.8 333.8,1264.7 334.7,1253.1 335.6,1240.0 336.5,1226.5 337.5,1213.5 338.4,1202.1 339.3,1193.3 341.2,1178.6 343.0,1165.1 344.9,1155.3 346.7,1151.4 348.1,1154.8 349.5,1163.9 351.0,1177.1 352.4,1192.8 353.8,1209.4 354.4,1217.5 355.0,1227.6 355.5,1239.5 356.1,1252.5 356.7,1266.3 357.3,1280.4 357.9,1294.2 358.5,1307.4 359.1,1319.4 359.6,1329.8 360.2,1338.2 361.6,1355.2 363.0,1371.7 364.4,1387.1 365.8,1400.4 367.1,1410.9 368.5,1417.8 369.9,1420.3 371.8,1417.4 373.8,1409.5 375.7,1398.1 377.6,1384.6 379.6,1370.4 380.4,1363.3 381.3,1355.0 382.2,1345.8 383.1,1335.6 384.0,1324.5 384.9,1312.7 385.8,1300.3 386.7,1287.3 387.6,1273.8 388.1,1264.7 388.7,1254.0 389.2,1242.4 389.7,1230.2 390.3,1217.9 390.8,1205.9 391.4,1194.9 391.9,1185.1 392.4,1177.2 393.6,1165.1 394.7,1154.7 395.8,1142.2 396.9,1127.9 398.1,1112.9 399.2,1098.3 400.3,1085.1 401.4,1074.4 402.6,1067.1 403.7,1064.5 404.9,1066.5 406.1,1072.1 407.3,1080.9 408.5,1092.4 409.7,1106.0 410.9,1121.2 412.2,1137.6 413.4,1154.7 413.9,1163.6 414.4,1174.8 415.0,1187.8 415.5,1202.0 416.0,1217.0 416.6,1232.1 417.1,1247.0 417.7,1261.0 418.2,1273.8 418.8,1286.6 419.4,1298.9 419.9,1311.0 420.5,1322.7 421.1,1334.3 421.7,1345.6 422.3,1356.9 422.9,1368.2 423.5,1379.6 424.0,1391.0 424.6,1402.6 425.2,1414.5 425.8,1426.8 426.4,1439.3 427.0,1451.8 427.6,1464.4 428.1,1476.7 428.7,1488.8 429.3,1500.4 429.9,1511.5 430.5,1521.8 431.1,1531.4 432.0,1545.7 432.8,1560.8 433.7,1575.7 434.6,1589.8 435.5,1602.1 436.4,1611.9 437.3,1618.3 438.2,1620.7 439.3,1616.6 440.5,1606.1 441.6,1592.0 442.8,1576.9 443.9,1563.6 445.0,1551.7 446.1,1538.5 447.2,1525.2 448.2,1513.3 449.3,1504.1 450.4,1499.2 452.0,1496.0 453.6,1493.6 455.2,1492.0 456.8,1491.1 458.4,1490.8 460.0,1490.6 461.7,1490.5 463.3,1490.2 465.2,1487.8 467.1,1482.8 469.1,1477.0 471.0,1472.2 472.9,1470.2 474.5,1472.1 476.1,1476.9 477.8,1483.8 479.4,1491.5 481.0,1499.2 482.6,1507.1 484.2,1516.1 485.8,1526.0 487.4,1536.5 489.0,1547.5 490.5,1558.9 491.9,1572.9 493.3,1588.3 494.7,1604.3 496.2,1619.6 497.6,1633.3 499.0,1644.4 500.5,1651.8 501.9,1654.5 502.8,1652.6 503.8,1647.3 504.7,1639.0 505.7,1628.3 506.6,1615.7 507.5,1601.6 508.5,1586.6 509.4,1571.2 510.4,1555.8 511.3,1541.1 512.2,1527.4 513.2,1515.3 514.1,1503.8 515.0,1491.5 515.9,1479.1 516.9,1467.2 517.8,1456.5 518.7,1447.6 519.6,1441.2 521.0,1433.9 522.4,1428.1 523.8,1425.8 525.6,1430.1 527.3,1440.7 529.1,1454.1 530.9,1467.0 532.5,1479.4 534.1,1494.4 535.7,1509.8 537.3,1523.6 538.9,1533.4 540.5,1537.2 541.9,1533.3 543.2,1523.2 544.6,1509.3 545.9,1493.7 547.2,1478.8 548.6,1467.0 550.4,1452.5 552.3,1437.8 554.1,1426.5 556.0,1421.9 557.4,1426.1 558.7,1436.8 560.1,1451.4 561.5,1467.0 562.2,1475.6 562.9,1485.7 563.5,1497.1 564.2,1509.3 564.9,1522.0 565.6,1534.8 566.3,1547.5 566.9,1558.6 567.5,1570.2 568.1,1582.1 568.7,1594.2 569.3,1606.4 569.9,1618.4 570.5,1630.2 571.1,1641.6 571.8,1653.5 572.4,1665.5 573.1,1677.5 573.7,1689.4 574.3,1701.1 575.0,1712.5 575.6,1723.6 576.3,1734.4 576.9,1744.6 577.6,1754.3 578.5,1767.7 579.4,1780.9 580.3,1793.6 581.2,1805.7 582.2,1816.7 583.1,1826.5 584.0,1834.8 585.6,1848.2 587.2,1860.6 588.8,1869.8 590.4,1873.4 592.1,1870.0 593.7,1860.9 595.3,1848.0 596.9,1833.3 598.5,1818.7 599.4,1809.9 600.3,1799.4 601.2,1787.7 602.1,1775.4 603.0,1762.9 603.9,1750.8 604.8,1739.6 605.7,1729.9 606.5,1722.1 608.4,1708.1 610.3,1695.1 612.1,1685.5 614.0,1681.8 615.2,1684.4 616.4,1691.2 617.7,1701.4 618.9,1713.8 620.2,1727.4 621.4,1741.3 622.6,1754.3 623.5,1763.8 624.4,1774.4 625.3,1785.8 626.2,1797.7 627.1,1809.6 628.0,1821.2 628.9,1832.2 629.8,1842.2 630.7,1850.9 632.1,1864.1 633.5,1877.5 634.9,1889.2 636.4,1897.6 637.8,1900.8 639.1,1897.9 640.4,1889.9 641.6,1878.1 642.9,1863.9 644.2,1848.4 645.5,1832.9 646.8,1818.7 647.8,1808.1 648.7,1796.4 649.7,1783.9 650.7,1771.0 651.6,1758.0 652.6,1745.4 653.6,1733.6 654.5,1722.8 655.5,1713.5 656.5,1706.0 658.2,1694.5 659.9,1683.5 661.6,1673.6 663.3,1665.6 665.0,1660.3 666.8,1658.3 668.6,1661.1 670.4,1668.4 672.2,1679.2 674.0,1692.1 675.8,1706.0 676.6,1713.2 677.4,1722.1 678.2,1732.4 679.0,1743.8 679.8,1756.0 680.6,1768.8 681.4,1781.7 682.2,1794.5 683.0,1807.0 683.8,1818.7 684.6,1830.3 685.4,1842.3 686.2,1854.7 687.0,1867.1 687.8,1879.4 688.7,1891.3 689.5,1902.7 690.3,1913.3 691.1,1922.9 691.9,1931.4 693.2,1943.6 694.4,1955.2 695.7,1965.4 697.0,1973.8 698.3,1979.7 699.9,1984.9 701.5,1989.3 703.1,1992.5 704.8,1994.2 706.7,1995.0 708.6,1995.6 710.5,1996.0 712.5,1996.3 714.4,1996.4 728.3,1996.3 730.3,1996.3 732.3,1996.3 734.3,1996.3 736.3,1996.3 738.3,1996.3 740.2,1996.3 742.2,1996.3 744.2,1996.3 746.2,1996.3 748.2,1996.3 750.2,1996.3 752.2,1996.3 754.2,1996.3 756.2,1996.3 758.2,1996.3 760.2,1996.3 762.1,1996.3 764.1,1996.3 766.1,1996.3 768.1,1996.3 770.1,1996.3 772.1,1996.3 774.1,1996.3 776.1,1996.3 778.1,1996.3 780.1,1996.3 782.0,1996.3 784.0,1996.3 786.0,1996.3 788.0,1996.3 790.0,1996.3 792.0,1996.3 794.0,1996.3 796.0,1996.3 798.0,1996.3 800.0,1996.3 802.0,1996.3 803.9,1996.4 805.9,1996.4 807.9,1996.4 809.9,1996.4 811.9,1996.4 813.9,1996.4 815.9,1996.4 817.9,1996.4 819.9,1996.4 821.9,1996.4 823.9,1996.4 825.8,1996.4 827.8,1996.4 829.8,1996.4 831.8,1996.4 833.8,1996.4 835.8,1996.4 837.8,1996.4 839.8,1996.4 841.8,1996.4 843.8,1996.4 845.7,1996.4 847.7,1996.4 849.7,1996.4 851.7,1996.5 853.7,1996.5 855.7,1996.5 857.7,1996.5 859.7,1996.5 861.7,1996.5 863.7,1996.5 865.7,1996.5 867.6,1996.5 869.6,1996.5 871.6,1996.5 873.6,1996.5 875.6,1996.5 877.6,1996.5 879.6,1996.5 881.6,1996.5 883.6,1996.6 885.6,1996.6 887.6,1996.6 889.5,1996.6 891.5,1996.6 893.5,1996.6 895.5,1996.6 897.5,1996.6 899.5,1996.6 901.5,1996.6 903.5,1996.6 905.5,1996.6 907.5,1996.7 909.4,1996.7 911.4,1996.7 913.4,1996.7 915.4,1996.7 917.4,1996.7 919.4,1996.7 921.4,1996.7 923.4,1996.7 925.4,1996.7 927.4,1996.8 929.4,1996.8 931.3,1996.8 933.3,1996.8 935.3,1996.8 937.3,1996.8 939.3,1996.8 941.3,1996.8 943.3,1996.8 945.3,1996.9 947.3,1996.9 949.3,1996.9 951.3,1996.9 953.2,1996.9 955.2,1996.9 957.2,1996.9 959.2,1996.9 961.2,1997.0 963.2,1997.0 965.2,1997.0 967.2,1997.0 969.2,1997.0 971.2,1997.0 973.1,1997.0 975.1,1997.1 977.1,1997.1 979.1,1997.1 981.1,1997.1 983.1,1997.1 985.1,1997.1 987.1,1997.2 989.1,1997.2 991.1,1997.2 993.1,1997.2 995.0,1997.2 997.0,1997.2 999.0,1997.2 1001.0,1997.3 1003.0,1997.3 1005.0,1997.3 1011.7,1997.5 1013.2,1996.8 1014.8,1995.1 1016.3,1992.9 1017.9,1990.6 1019.8,1987.3 1021.7,1983.4 1023.7,1979.2 1025.6,1975.1 1027.5,1971.2 1029.5,1967.3 1031.4,1963.5 1033.3,1959.6 1034.9,1956.7 1036.4,1954.0 1038.0,1950.9 1039.5,1947.2 1041.1,1941.8 1042.6,1935.0 1044.2,1928.6 1045.7,1922.8 1047.3,1917.2 1048.8,1913.2 1050.4,1910.4 1051.9,1908.3 1053.5,1907.0 1055.0,1906.2 1056.6,1905.6 1058.1,1905.2 1059.7,1904.6 1061.2,1904.1 1062.8,1903.7 1064.3,1903.1 1065.9,1902.3 1067.4,1900.9 1068.9,1898.7 1070.5,1896.1 1072.0,1892.7 1073.6,1888.3 1075.1,1883.5 1076.7,1879.1 1078.2,1875.0 1079.8,1871.1 1081.3,1867.2 1082.9,1863.6 1084.4,1860.5 1086.0,1857.7 1087.5,1854.7 1089.1,1851.2 1090.6,1847.0 1092.2,1842.0 1093.7,1835.8 1095.3,1827.5 1096.8,1816.9 1098.4,1804.8 1099.4,1795.3 1100.4,1784.6 1101.5,1773.8 1102.4,1764.0 1103.4,1754.0 1104.4,1744.2 1105.3,1735.1 1106.6,1723.6 1107.9,1712.9 1109.2,1704.2 1110.7,1695.8 1112.3,1688.7 1113.8,1684.1 1115.4,1681.0 1116.9,1678.8 1118.5,1677.9 1120.0,1678.8 1121.6,1681.1 1123.1,1684.1 1124.7,1688.6 1126.2,1694.9 1127.8,1701.1 1129.3,1706.6 1130.9,1712.0 1132.4,1716.6 1134.3,1721.3 1136.3,1724.3 1138.1,1725.4 1139.9,1726.2 1141.7,1726.6 1143.3,1726.8 1144.8,1727.0 1146.3,1727.1 1147.9,1727.4 1149.4,1728.6 1151.0,1730.9 1152.5,1733.6 1154.1,1737.1 1155.6,1741.4 1157.2,1744.4 1158.7,1746.3 1160.3,1747.7 1161.8,1748.3 1163.4,1747.7 1164.9,1746.2 1166.5,1744.4 1168.0,1742.9 1169.6,1741.6 1171.1,1740.4 1172.7,1739.4 1174.2,1739.0 1176.0,1739.2 1177.8,1739.8 1179.6,1740.6 1181.4,1741.3 1183.2,1741.9 1185.0,1742.1 1186.9,1741.9 1188.8,1741.5 1190.6,1740.9 1192.5,1740.3 1194.3,1739.8 1195.9,1739.3 1197.4,1738.8 1199.0,1738.4 1200.5,1738.2 1202.1,1738.5 1203.6,1739.2 1205.2,1740.1 1206.7,1741.3 1208.3,1743.3 1209.8,1746.5 1211.4,1750.6 1212.9,1755.3 1214.5,1761.4 1216.0,1769.2 1217.6,1776.9 1219.1,1784.2 1220.7,1791.5 1222.2,1798.6 1223.7,1805.5 1225.3,1812.2 1226.8,1818.7"/>
<polyline class="c" stroke="#ff0000" stroke-width="5.5" points="230.2,1971.6 232.0,1971.6 233.8,1971.4 235.6,1971.2 237.4,1970.9 239.3,1970.5 241.1,1970.0 242.9,1969.1 244.8,1967.3 246.6,1964.9 248.5,1962.2 250.3,1959.3 252.1,1956.5 254.0,1953.9 255.7,1951.4 257.5,1948.4 259.3,1945.5 261.1,1942.9 262.8,1941.1 264.6,1940.4 266.6,1941.3 268.6,1943.6 270.6,1946.9 272.5,1950.6 274.5,1954.2 276.5,1957.1 278.5,1959.7 280.5,1962.5 282.4,1965.4 284.4,1968.2 286.4,1970.8 288.3,1973.1 290.3,1974.9 292.3,1976.0 294.2,1976.5 296.2,1976.2 298.2,1975.3 300.1,1974.1 302.1,1972.5 304.1,1970.7 306.0,1968.8 308.0,1966.9 310.0,1965.1 311.9,1963.6 313.7,1962.3 315.5,1960.9 317.3,1959.6 319.1,1958.2 320.9,1956.9 322.7,1955.6 324.5,1954.4 326.2,1953.3 328.0,1952.3 329.9,1951.3 331.8,1950.3 333.6,1949.3 335.5,1948.3 337.4,1947.4 339.2,1946.6 341.1,1945.9 343.0,1945.4 344.8,1945.0 346.7,1944.9 348.6,1945.5 350.6,1947.1 352.5,1949.5 354.4,1952.3 356.4,1955.2 358.3,1958.0 360.2,1960.4 362.1,1962.5 363.9,1964.9 365.8,1967.3 367.6,1969.6 369.4,1971.5 371.3,1972.8 373.1,1973.2 375.0,1972.6 376.8,1971.0 378.6,1968.6 380.5,1965.7 382.3,1962.7 384.2,1959.7 386.0,1957.1 387.9,1954.5 389.8,1951.5 391.7,1948.4 393.6,1945.2 395.5,1942.2 397.4,1939.6 399.3,1937.5 401.2,1936.1 403.1,1935.6 405.0,1936.5 407.0,1939.0 409.0,1942.5 411.0,1946.5 413.0,1950.5 415.0,1953.9 416.8,1956.9 418.6,1960.0 420.5,1963.1 422.3,1966.2 424.2,1969.0 426.0,1971.4 427.8,1973.2 429.6,1974.7 431.4,1976.2 433.2,1977.6 435.0,1978.8 436.8,1980.0 438.6,1980.9 440.4,1981.6 442.2,1982.1 443.9,1982.3 445.8,1982.1 447.7,1981.8 449.6,1981.2 451.5,1980.6 453.3,1979.8 455.2,1979.0 457.1,1978.2 459.0,1977.5 460.9,1976.8 462.7,1976.3 464.6,1975.9 466.5,1975.8 468.5,1975.9 470.4,1976.1 472.4,1976.5 474.4,1976.9 476.3,1977.5 478.3,1978.1 480.3,1978.7 482.2,1979.4 484.2,1980.2 486.2,1980.9 488.1,1981.6 490.1,1982.3 492.1,1982.9 494.0,1983.4 496.0,1983.9 498.0,1984.2 499.9,1984.4 501.9,1984.5 503.8,1984.2 505.7,1983.4 507.6,1982.2 509.5,1980.6 511.4,1978.9 513.3,1977.2 515.2,1975.5 517.1,1974.0 519.0,1972.7 520.9,1971.9 522.8,1971.6 524.8,1971.9 526.8,1972.7 528.7,1973.9 530.7,1975.3 532.7,1976.7 534.6,1978.1 536.6,1979.2 538.6,1980.0 540.5,1980.3 542.3,1980.2 544.1,1980.0 545.9,1979.7 547.7,1979.4 549.5,1979.0 551.3,1978.6 553.1,1978.3 554.9,1978.1 556.6,1978.1 558.4,1978.3 560.2,1979.0 562.0,1980.1 563.8,1981.4 565.6,1982.8 567.4,1984.2 569.2,1985.6 571.0,1986.8 572.7,1987.7 574.7,1988.5 576.7,1989.4 578.6,1990.2 580.6,1991.0 582.6,1991.7 584.5,1992.3 586.5,1992.8 588.5,1993.1 590.4,1993.2 592.3,1993.1 594.2,1992.9 596.1,1992.5 598.0,1992.0 599.8,1991.5 601.7,1990.9 603.6,1990.4 605.5,1989.9 607.4,1989.4 609.2,1989.0 611.1,1988.8 613.0,1988.7 614.8,1988.8 616.7,1989.0 618.6,1989.4 620.4,1989.9 622.3,1990.5 624.1,1991.1 626.0,1991.7 627.8,1992.4 629.7,1992.9 631.6,1993.4 633.4,1993.8 635.3,1994.1 637.1,1994.2 639.1,1994.1 641.0,1993.9 642.9,1993.5 644.9,1993.0 646.8,1992.5 648.7,1991.9 650.7,1991.3 652.6,1990.6 654.5,1990.0 656.5,1989.4 658.4,1988.9 660.3,1988.4 662.3,1988.0 664.2,1987.8 666.1,1987.7 668.0,1987.9 670.0,1988.5 671.9,1989.3 673.8,1990.3 675.8,1991.4 677.7,1992.5 679.6,1993.6 681.6,1994.5 683.5,1995.3 685.4,1995.8 687.2,1996.1 689.0,1996.3 690.8,1996.6 692.6,1996.8 694.4,1997.0 696.2,1997.2 698.0,1997.3 699.7,1997.4 701.5,1997.4 728.3,1997.3 1010.0,1997.3 1012.0,1997.1 1013.9,1996.6 1015.9,1995.9 1017.9,1995.2 1019.7,1994.4 1021.5,1993.3 1023.3,1992.0 1025.1,1990.5 1026.9,1989.0 1028.7,1987.5 1030.6,1985.8 1032.6,1984.0 1034.5,1982.0 1036.4,1979.7 1038.4,1976.9 1040.3,1973.7 1042.2,1970.3 1044.2,1967.3 1046.1,1964.6 1048.0,1962.0 1050.0,1959.7 1051.9,1958.0 1053.5,1957.0 1055.0,1956.1 1056.6,1955.7 1067.4,1955.7 1069.3,1955.2 1071.3,1953.7 1073.2,1952.0 1075.1,1950.3 1077.1,1948.9 1079.0,1947.4 1080.9,1945.9 1082.9,1944.1 1084.8,1942.2 1086.7,1940.0 1088.7,1937.6 1090.6,1934.8 1092.6,1931.7 1094.5,1928.0 1096.4,1923.9 1098.4,1919.3 1099.9,1915.2 1101.5,1910.5 1103.0,1905.6 1104.6,1900.8 1106.1,1895.8 1107.6,1890.8 1109.2,1886.8 1110.7,1883.9 1112.3,1881.5 1113.8,1879.9 1115.3,1878.8 1116.7,1877.9 1118.2,1877.6 1119.8,1878.1 1121.4,1879.6 1123.0,1881.6 1124.7,1883.7 1126.2,1886.3 1127.8,1889.4 1129.3,1892.5 1130.9,1894.6 1132.8,1896.1 1134.7,1897.3 1136.7,1898.3 1138.6,1899.2 1140.5,1900.0 1142.5,1900.7 1144.4,1901.4 1146.3,1902.3 1147.9,1903.5 1149.4,1905.2 1151.0,1907.0 1152.5,1908.5 1154.1,1909.9 1155.6,1911.3 1157.2,1912.5 1158.7,1913.2 1160.3,1913.5 1161.8,1913.8 1163.4,1913.9 1165.2,1913.8 1167.0,1913.5 1168.8,1913.2 1170.6,1912.8 1172.4,1912.5 1174.2,1912.4 1176.0,1912.5 1177.7,1912.9 1179.5,1913.5 1181.3,1914.1 1183.1,1914.7 1184.8,1915.2 1186.6,1915.5 1188.6,1915.6 1190.6,1915.7 1192.6,1915.8 1194.6,1915.9 1196.5,1915.9 1198.5,1916.1 1200.5,1916.3 1202.1,1916.6 1203.6,1917.3 1205.2,1918.3 1206.7,1919.3 1208.7,1921.1 1210.6,1923.3 1212.5,1925.9 1214.5,1928.6 1216.4,1931.5 1218.3,1934.7 1220.3,1937.9 1222.2,1941.0 1223.7,1943.4 1225.3,1945.7 1226.8,1948.0"/>
<polyline class="c" stroke="#0000ff" stroke-width="5.5" points="230.2,1701.2 231.9,1707.8 233.7,1712.8 235.5,1716.5 237.2,1719.1 239.0,1720.7 240.8,1721.6 242.5,1722.0 244.3,1722.1 246.2,1720.4 248.0,1715.9 249.8,1709.2 251.7,1701.0 253.5,1691.9 255.4,1682.6 257.2,1673.8 259.1,1663.4 261.1,1650.9 263.0,1638.2 264.9,1627.0 266.9,1619.1 268.5,1614.3 270.1,1609.9 271.7,1606.7 273.3,1605.5 275.2,1608.9 277.2,1617.4 279.1,1628.5 281.0,1639.5 283.0,1648.0 284.7,1654.0 286.4,1660.2 288.1,1666.0 289.8,1670.8 291.5,1674.2 293.3,1675.4 295.1,1672.0 296.9,1663.1 298.7,1650.9 300.5,1637.7 302.3,1625.5 303.9,1614.9 305.5,1603.0 307.1,1590.8 308.7,1579.2 310.3,1569.0 311.9,1561.1 313.8,1553.5 315.7,1546.1 317.6,1539.5 319.4,1534.1 321.3,1530.5 323.2,1529.2 325.0,1530.1 326.7,1532.1 328.5,1534.9 330.3,1537.6 332.1,1539.7 333.8,1540.5 335.8,1539.3 337.8,1536.5 339.8,1532.8 341.8,1529.0 343.8,1526.2 345.7,1525.0 347.5,1528.6 349.3,1537.4 351.1,1549.1 352.8,1561.1 354.0,1569.7 355.1,1580.1 356.3,1591.0 357.5,1601.1 358.6,1609.4 360.4,1620.3 362.2,1630.8 363.9,1638.5 365.7,1641.6 367.6,1638.1 369.4,1630.1 371.3,1621.5 373.1,1615.8 374.7,1613.4 376.3,1611.4 377.9,1609.9 379.6,1609.4 381.2,1609.6 382.8,1610.0 384.4,1610.4 386.0,1610.8 387.6,1611.0 389.2,1609.0 390.8,1604.1 392.4,1597.7 394.0,1591.4 395.7,1586.9 397.5,1583.0 399.4,1579.4 401.2,1576.7 403.1,1575.6 404.8,1577.6 406.5,1583.1 408.3,1590.9 410.0,1600.0 411.7,1609.4 413.1,1617.7 414.5,1627.6 415.9,1639.0 417.3,1651.2 418.6,1664.1 420.0,1677.1 421.4,1689.9 422.6,1701.2 423.7,1713.6 424.9,1726.5 426.0,1739.2 427.2,1751.2 428.3,1761.8 429.5,1770.4 431.1,1780.9 432.7,1790.8 434.3,1798.1 435.9,1801.0 437.2,1797.9 438.6,1789.7 439.9,1778.0 441.3,1764.5 442.6,1750.6 443.9,1738.2 445.2,1726.0 446.5,1712.3 447.8,1698.9 449.1,1687.6 450.4,1680.2 452.3,1673.6 454.3,1670.6 456.2,1673.0 458.1,1678.9 460.0,1686.7 462.0,1694.4 463.9,1700.4 465.8,1702.8 467.8,1701.7 469.7,1698.9 471.6,1695.2 473.6,1691.1 475.5,1687.3 477.4,1684.5 479.4,1683.5 481.3,1685.1 483.2,1689.5 485.2,1696.1 487.1,1703.9 489.0,1712.4 490.4,1720.1 491.7,1730.5 493.0,1742.5 494.4,1754.9 495.7,1766.7 497.1,1776.8 498.7,1788.3 500.3,1800.3 501.9,1811.1 503.5,1818.9 505.1,1821.9 507.1,1820.1 509.0,1815.5 510.9,1809.6 512.9,1803.7 514.8,1799.4 516.6,1796.5 518.4,1793.7 520.1,1791.0 521.9,1788.5 523.7,1786.2 525.5,1784.2 527.3,1782.4 529.1,1781.1 530.9,1780.0 532.8,1779.4 534.6,1779.0 536.5,1778.6 538.4,1778.3 540.3,1777.7 542.2,1776.8 543.8,1771.8 545.4,1761.3 547.0,1748.8 548.6,1738.2 550.5,1726.6 552.5,1715.7 554.4,1710.8 556.2,1714.0 557.9,1722.2 559.7,1733.1 561.5,1744.6 562.6,1753.0 563.8,1763.2 564.9,1774.7 566.1,1786.6 567.2,1798.4 568.4,1809.3 569.5,1818.7 571.1,1829.8 572.7,1839.9 574.3,1849.3 576.0,1858.2 577.6,1867.0 579.2,1875.9 580.8,1884.6 582.4,1892.6 584.0,1899.2 585.8,1905.7 587.6,1912.0 589.3,1916.7 591.1,1918.5 592.9,1915.0 594.7,1906.2 596.5,1894.6 598.3,1882.8 600.1,1873.4 601.9,1865.8 603.6,1857.8 605.4,1849.9 607.1,1842.8 608.8,1836.9 610.6,1833.0 612.3,1831.6 614.1,1834.0 615.8,1840.6 617.5,1850.0 619.2,1861.0 620.9,1872.4 622.6,1883.1 624.3,1893.4 625.9,1905.3 627.5,1917.7 629.1,1929.6 630.7,1939.9 632.3,1947.5 633.9,1953.5 635.5,1959.1 637.1,1963.9 638.7,1967.2 640.4,1968.4 642.3,1966.6 644.2,1961.8 646.2,1955.3 648.1,1948.0 650.0,1941.0 651.9,1933.8 653.9,1925.5 655.8,1916.9 657.7,1908.9 659.7,1902.4 661.5,1897.0 663.3,1891.7 665.1,1887.0 666.9,1883.7 668.7,1882.4 670.4,1884.1 672.2,1888.4 673.9,1894.5 675.6,1901.6 677.4,1908.8 679.0,1916.8 680.6,1926.8 682.2,1937.7 683.8,1948.2 685.4,1957.1 687.0,1965.1 688.7,1973.0 690.3,1980.2 691.9,1985.9 693.5,1989.3 695.1,1991.3 696.7,1992.9 698.3,1994.2 699.9,1995.1 701.5,1995.5 703.4,1995.6 705.4,1995.7 707.3,1995.8 709.2,1995.9 711.1,1996.0 713.0,1996.0 714.9,1996.1 716.8,1996.1 718.7,1996.2 720.7,1996.2 722.6,1996.2 724.5,1996.3 726.4,1996.3 728.3,1996.3 730.3,1996.3 732.3,1996.3 734.3,1996.3 736.3,1996.4 738.3,1996.4 740.3,1996.4 742.3,1996.4 744.3,1996.4 746.3,1996.4 748.3,1996.4 750.3,1996.5 752.3,1996.5 754.3,1996.5 756.3,1996.5 758.3,1996.5 760.3,1996.5 762.3,1996.5 764.3,1996.6 766.3,1996.6 768.3,1996.6 770.3,1996.6 772.3,1996.6 774.3,1996.6 776.3,1996.6 778.3,1996.6 780.2,1996.7 782.2,1996.7 784.2,1996.7 786.2,1996.7 788.2,1996.7 790.2,1996.7 792.2,1996.7 794.2,1996.7 796.2,1996.7 798.2,1996.8 800.2,1996.8 802.2,1996.8 804.2,1996.8 806.2,1996.8 808.2,1996.8 810.2,1996.8 812.2,1996.8 814.2,1996.8 816.2,1996.8 818.2,1996.9 820.2,1996.9 822.2,1996.9 824.2,1996.9 826.2,1996.9 828.2,1996.9 830.2,1996.9 832.2,1996.9 834.2,1996.9 836.2,1996.9 838.2,1996.9 840.2,1997.0 842.2,1997.0 844.2,1997.0 846.2,1997.0 848.2,1997.0 850.2,1997.0 852.2,1997.0 854.2,1997.0 856.2,1997.0 858.2,1997.0 860.2,1997.0 862.2,1997.0 864.2,1997.0 866.2,1997.1 868.2,1997.1 870.2,1997.1 872.2,1997.1 874.2,1997.1 876.2,1997.1 878.2,1997.1 880.1,1997.1 882.1,1997.1 884.1,1997.1 886.1,1997.1 888.1,1997.1 890.1,1997.1 892.1,1997.1 894.1,1997.1 896.1,1997.1 898.1,1997.1 900.1,1997.2 902.1,1997.2 904.1,1997.2 906.1,1997.2 908.1,1997.2 910.1,1997.2 912.1,1997.2 914.1,1997.2 916.1,1997.2 918.1,1997.2 920.1,1997.2 922.1,1997.2 924.1,1997.2 926.1,1997.2 928.1,1997.2 930.1,1997.2 932.1,1997.2 934.1,1997.2 936.1,1997.2 938.1,1997.2 940.1,1997.2 942.1,1997.2 944.1,1997.2 946.1,1997.2 948.1,1997.2 950.1,1997.2 952.1,1997.3 954.1,1997.3 956.1,1997.3 958.1,1997.3 960.1,1997.3 962.1,1997.3 964.1,1997.3 966.1,1997.3 968.1,1997.3 970.1,1997.3 972.1,1997.3 974.1,1997.3 976.1,1997.3 978.1,1997.3 980.0,1997.3 982.0,1997.3 984.0,1997.3 986.0,1997.3 988.0,1997.3 990.0,1997.3 992.0,1997.3 994.0,1997.3 996.0,1997.3 998.0,1997.3 1000.0,1997.3 1002.0,1997.3 1004.0,1997.3 1006.0,1997.3 1008.0,1997.3 1010.0,1997.3 1012.0,1997.3 1014.0,1997.3 1016.0,1997.3 1018.0,1997.3 1020.0,1997.3 1022.0,1997.3 1024.0,1997.3 1026.0,1997.3 1028.0,1997.3 1030.0,1997.3 1031.6,1997.1 1033.2,1996.7 1034.8,1996.0 1036.4,1995.2 1038.4,1993.7 1040.3,1991.3 1042.2,1988.5 1044.2,1985.9 1046.1,1983.2 1048.0,1980.2 1050.0,1977.6 1051.9,1975.9 1053.5,1975.1 1055.0,1974.5 1056.6,1974.0 1058.1,1973.5 1059.7,1973.1 1061.2,1972.8 1062.8,1972.5 1064.3,1972.0 1065.9,1971.0 1067.4,1969.3 1068.9,1967.5 1070.5,1965.8 1072.4,1963.9 1074.2,1962.1 1076.1,1960.2 1077.9,1958.4 1079.8,1956.5 1081.6,1954.7 1083.5,1953.1 1085.4,1951.3 1087.2,1949.4 1089.1,1947.2 1091.0,1944.5 1092.9,1941.3 1094.9,1937.5 1096.8,1933.3 1098.4,1929.1 1099.9,1924.0 1101.5,1918.5 1103.0,1913.2 1104.6,1907.9 1106.1,1902.6 1107.6,1897.7 1109.2,1892.8 1110.7,1888.2 1112.3,1885.3 1114.3,1883.3 1116.2,1882.0 1118.2,1881.4 1119.8,1882.0 1121.4,1883.3 1123.0,1885.1 1124.7,1886.8 1126.2,1888.7 1127.8,1891.0 1129.3,1893.1 1130.9,1894.6 1132.4,1895.6 1134.0,1896.5 1135.5,1897.1 1137.1,1897.4 1138.9,1897.2 1140.8,1896.9 1142.6,1896.6 1144.5,1896.3 1146.3,1896.1 1147.9,1896.3 1149.4,1896.6 1151.0,1897.0 1152.5,1897.4 1154.4,1897.8 1156.3,1898.3 1158.1,1898.8 1160.0,1899.1 1161.8,1899.2 1163.4,1898.9 1164.9,1898.0 1166.5,1897.0 1168.0,1896.1 1170.0,1895.2 1171.9,1894.2 1173.8,1893.4 1175.8,1893.0 1177.6,1893.2 1179.4,1893.5 1181.2,1894.0 1183.0,1894.4 1184.8,1894.8 1186.6,1894.9 1188.6,1894.8 1190.6,1894.5 1192.6,1894.2 1194.6,1893.8 1196.5,1893.4 1198.5,1893.1 1200.5,1893.0 1202.4,1893.2 1204.2,1893.6 1206.1,1894.3 1208.0,1895.1 1209.8,1896.1 1211.4,1897.6 1212.9,1899.9 1214.5,1902.6 1216.0,1905.4 1217.6,1908.3 1219.1,1911.4 1220.7,1914.6 1222.2,1917.8 1223.7,1920.9 1225.3,1924.0 1226.8,1927.1"/>
<polyline class="c" stroke="#ff00ff" stroke-width="5.5" points="230.2,1867.0 232.0,1873.8 233.8,1878.3 235.6,1881.1 237.4,1882.5 239.3,1883.0 241.1,1883.1 243.0,1879.9 245.0,1871.7 246.9,1860.2 248.8,1847.3 250.8,1834.8 252.0,1825.7 253.3,1815.1 254.6,1804.1 255.9,1794.1 257.2,1786.5 259.0,1777.7 260.9,1769.6 262.8,1763.7 264.6,1761.4 266.3,1763.8 268.1,1769.9 269.8,1778.4 271.6,1787.6 273.3,1796.1 275.2,1805.6 277.2,1816.1 279.1,1826.7 281.0,1836.5 283.0,1844.4 284.9,1851.2 286.8,1857.6 288.8,1863.2 290.7,1867.6 292.6,1870.2 294.5,1871.7 296.5,1873.1 298.4,1874.1 300.3,1874.8 302.3,1875.0 304.2,1875.0 306.1,1874.7 308.1,1874.4 310.0,1874.0 311.9,1873.4 313.9,1872.4 315.8,1870.5 317.7,1867.8 319.7,1864.5 321.6,1860.5 323.5,1854.0 325.5,1843.8 327.4,1830.9 329.3,1816.8 331.3,1802.6 332.6,1791.8 333.9,1779.2 335.3,1765.9 336.6,1752.9 338.0,1741.2 339.3,1731.7 340.9,1721.9 342.5,1712.2 344.1,1703.8 345.7,1697.9 347.4,1695.7 349.0,1698.5 350.6,1705.7 352.2,1715.9 353.8,1727.2 355.4,1738.2 356.7,1747.9 358.1,1759.3 359.4,1771.5 360.8,1783.4 362.1,1794.1 363.5,1802.6 365.2,1812.0 366.9,1821.1 368.7,1828.9 370.4,1834.3 372.1,1836.4 374.0,1833.4 375.8,1825.6 377.7,1814.7 379.6,1802.6 380.4,1795.8 381.3,1787.3 382.2,1777.4 383.1,1766.5 384.0,1754.7 384.9,1742.5 385.8,1730.1 386.7,1717.9 387.6,1706.0 388.4,1695.1 389.2,1683.5 390.0,1671.4 390.8,1659.0 391.6,1646.6 392.4,1634.5 393.2,1622.9 394.0,1611.9 394.8,1602.0 395.7,1593.3 397.1,1578.4 398.5,1563.2 400.0,1549.2 401.4,1537.5 402.9,1529.6 404.3,1526.6 405.8,1529.7 407.3,1537.8 408.9,1549.6 410.4,1563.7 411.9,1578.8 413.4,1593.3 414.3,1602.0 415.1,1611.7 416.0,1622.1 416.9,1633.1 417.8,1644.5 418.7,1656.0 419.6,1667.6 420.5,1678.9 421.4,1689.9 422.3,1700.9 423.2,1712.3 424.1,1723.9 425.0,1735.5 425.9,1746.9 426.8,1757.9 427.7,1768.3 428.6,1777.9 429.5,1786.5 431.1,1800.7 432.7,1814.1 434.3,1826.2 435.9,1836.5 437.5,1844.4 439.3,1851.9 441.1,1858.9 442.9,1864.7 444.7,1868.7 446.5,1870.2 448.2,1869.3 450.0,1867.0 451.7,1863.6 453.4,1859.5 455.1,1855.2 456.8,1850.9 458.4,1846.3 460.0,1840.7 461.7,1834.8 463.3,1829.4 464.9,1825.1 466.8,1820.8 468.7,1817.0 470.7,1815.5 472.4,1817.2 474.1,1821.7 475.9,1827.9 477.6,1834.7 479.4,1841.2 481.0,1847.5 482.6,1854.7 484.2,1862.0 485.8,1868.6 487.4,1873.4 489.3,1877.8 491.1,1881.7 493.0,1884.6 494.8,1885.7 496.6,1884.0 498.4,1879.8 500.1,1873.8 501.9,1867.0 503.2,1859.9 504.6,1849.8 505.9,1838.0 507.3,1825.4 508.6,1813.2 510.0,1802.6 511.6,1790.8 513.2,1779.1 514.8,1768.0 516.4,1758.4 518.0,1751.1 519.9,1743.9 521.9,1738.0 523.8,1735.6 525.5,1737.8 527.3,1743.2 529.0,1750.4 530.8,1757.8 532.5,1763.9 534.3,1769.4 536.0,1775.3 537.8,1780.9 539.6,1785.7 541.3,1789.1 543.1,1790.3 544.9,1788.1 546.7,1782.6 548.4,1776.0 550.2,1770.4 551.8,1765.9 553.4,1761.1 555.0,1757.4 556.6,1755.9 558.3,1759.3 559.9,1767.8 561.5,1778.8 563.1,1789.7 564.5,1799.0 565.8,1809.5 567.2,1820.8 568.6,1832.6 570.0,1844.4 571.4,1856.0 572.7,1867.0 574.3,1879.8 576.0,1893.1 577.6,1906.3 579.2,1918.6 580.8,1929.3 582.4,1937.8 584.3,1946.2 586.1,1954.0 588.0,1959.7 589.8,1962.0 591.5,1959.9 593.3,1954.6 595.0,1947.3 596.8,1939.1 598.5,1931.4 600.4,1922.0 602.4,1911.0 604.3,1899.8 606.2,1890.0 608.2,1883.1 610.0,1878.4 611.9,1874.3 613.7,1871.3 615.6,1870.2 617.3,1872.8 619.0,1879.5 620.8,1888.5 622.5,1897.8 624.3,1905.6 626.1,1913.4 628.0,1921.9 629.9,1930.2 631.8,1937.4 633.6,1942.4 635.5,1944.3 637.1,1941.1 638.7,1933.1 640.4,1922.1 642.0,1910.1 643.6,1899.2 645.2,1888.6 646.8,1876.8 648.4,1864.7 650.0,1853.2 651.6,1842.9 653.2,1834.8 655.2,1826.3 657.2,1818.0 659.2,1810.5 661.2,1804.3 663.2,1800.2 665.1,1798.7 667.0,1800.9 668.8,1806.8 670.6,1815.1 672.4,1824.8 674.2,1834.8 675.5,1843.1 676.8,1853.1 678.2,1864.3 679.5,1876.1 680.9,1888.0 682.2,1899.2 683.6,1910.5 684.9,1922.6 686.2,1934.6 687.6,1946.0 688.9,1955.9 690.3,1963.6 691.9,1971.0 693.5,1977.9 695.1,1983.7 696.7,1988.2 698.3,1990.9 699.9,1992.6 701.5,1994.0 703.1,1995.0 704.8,1995.5 706.7,1995.6 708.7,1995.7 710.6,1995.8 712.6,1995.9 714.6,1996.0 716.5,1996.1 718.5,1996.2 720.5,1996.2 722.4,1996.2 724.4,1996.3 726.3,1996.3 728.3,1996.3 730.3,1996.3 732.3,1996.3 734.3,1996.3 736.3,1996.4 738.3,1996.4 740.3,1996.4 742.3,1996.4 744.3,1996.4 746.3,1996.4 748.3,1996.5 750.3,1996.5 752.3,1996.5 754.3,1996.5 756.3,1996.5 758.3,1996.5 760.3,1996.5 762.3,1996.6 764.3,1996.6 766.3,1996.6 768.3,1996.6 770.3,1996.6 772.3,1996.6 774.3,1996.6 776.2,1996.7 778.2,1996.7 780.2,1996.7 782.2,1996.7 784.2,1996.7 786.2,1996.7 788.2,1996.7 790.2,1996.7 792.2,1996.8 794.2,1996.8 796.2,1996.8 798.2,1996.8 800.2,1996.8 802.2,1996.8 804.2,1996.8 806.2,1996.8 808.2,1996.8 810.2,1996.9 812.2,1996.9 814.2,1996.9 816.2,1996.9 818.2,1996.9 820.2,1996.9 822.2,1996.9 824.2,1996.9 826.2,1996.9 828.2,1996.9 830.2,1996.9 832.2,1997.0 834.2,1997.0 836.2,1997.0 838.2,1997.0 840.2,1997.0 842.2,1997.0 844.2,1997.0 846.2,1997.0 848.2,1997.0 850.2,1997.0 852.2,1997.0 854.2,1997.0 856.2,1997.1 858.2,1997.1 860.2,1997.1 862.2,1997.1 864.2,1997.1 866.2,1997.1 868.2,1997.1 870.1,1997.1 872.1,1997.1 874.1,1997.1 876.1,1997.1 878.1,1997.1 880.1,1997.1 882.1,1997.1 884.1,1997.1 886.1,1997.1 888.1,1997.2 890.1,1997.2 892.1,1997.2 894.1,1997.2 896.1,1997.2 898.1,1997.2 900.1,1997.2 902.1,1997.2 904.1,1997.2 906.1,1997.2 908.1,1997.2 910.1,1997.2 912.1,1997.2 914.1,1997.2 916.1,1997.2 918.1,1997.2 920.1,1997.2 922.1,1997.2 924.1,1997.2 926.1,1997.2 928.1,1997.2 930.1,1997.2 932.1,1997.2 934.1,1997.2 936.1,1997.2 938.1,1997.3 940.1,1997.3 942.1,1997.3 944.1,1997.3 946.1,1997.3 948.1,1997.3 950.1,1997.3 952.1,1997.3 954.1,1997.3 956.1,1997.3 958.1,1997.3 960.1,1997.3 962.1,1997.3 964.0,1997.3 966.0,1997.3 968.0,1997.3 970.0,1997.3 972.0,1997.3 974.0,1997.3 976.0,1997.3 978.0,1997.3 980.0,1997.3 982.0,1997.3 984.0,1997.3 986.0,1997.3 988.0,1997.3 990.0,1997.3 992.0,1997.3 994.0,1997.3 996.0,1997.3 998.0,1997.3 1000.0,1997.3 1002.0,1997.3 1004.0,1997.3 1006.0,1997.3 1008.0,1997.3 1010.0,1997.3 1012.0,1997.3 1013.9,1997.1 1015.9,1997.0 1017.9,1996.7 1019.7,1996.5 1021.6,1996.1 1023.4,1995.6 1025.3,1995.1 1027.2,1994.4 1029.0,1993.7 1030.9,1993.0 1032.7,1992.2 1034.6,1991.4 1036.4,1990.6 1038.4,1989.6 1040.3,1988.4 1042.2,1987.1 1044.2,1985.8 1046.1,1984.4 1048.0,1983.2 1050.0,1982.1 1051.9,1981.3 1053.9,1980.6 1055.8,1980.1 1057.7,1979.6 1059.7,1979.2 1061.6,1978.8 1063.5,1978.4 1065.5,1977.9 1067.4,1977.4 1069.2,1976.9 1070.9,1976.3 1072.7,1975.8 1074.5,1975.2 1076.2,1974.6 1078.0,1974.0 1079.8,1973.5 1081.6,1973.1 1083.5,1972.7 1085.4,1972.3 1087.2,1971.8 1089.1,1971.2 1091.0,1970.1 1092.9,1968.6 1094.9,1966.6 1096.8,1964.2 1098.4,1961.8 1099.9,1958.5 1101.5,1955.1 1103.0,1951.9 1104.6,1948.9 1106.1,1946.0 1107.6,1943.3 1109.2,1941.0 1110.7,1939.1 1112.3,1937.5 1113.8,1936.4 1115.4,1935.6 1116.9,1935.1 1118.5,1934.8 1120.0,1935.1 1121.6,1935.9 1123.1,1936.9 1124.7,1937.9 1126.6,1939.4 1128.5,1941.2 1130.5,1942.9 1132.4,1944.1 1134.3,1944.9 1136.1,1945.6 1138.0,1946.1 1139.8,1946.7 1141.7,1947.2 1143.5,1947.8 1145.3,1948.3 1147.1,1948.9 1148.9,1949.4 1150.7,1949.9 1152.5,1950.3 1154.3,1950.7 1156.2,1951.2 1158.0,1951.6 1159.8,1952.0 1161.6,1952.2 1163.4,1952.3 1165.1,1952.3 1166.9,1952.3 1168.7,1952.2 1170.5,1952.1 1172.2,1952.1 1174.0,1952.0 1175.8,1951.9 1177.7,1951.7 1179.6,1951.5 1181.6,1951.2 1183.5,1950.9 1185.4,1950.6 1187.4,1950.3 1189.3,1949.9 1191.2,1949.5 1193.0,1949.1 1194.8,1948.6 1196.5,1948.0 1198.3,1947.4 1200.1,1946.9 1201.9,1946.6 1203.6,1946.4 1205.6,1946.7 1207.5,1947.5 1209.4,1948.4 1211.4,1949.5 1213.3,1950.9 1215.2,1952.6 1217.2,1954.5 1219.1,1956.5 1221.0,1958.5 1223.0,1960.6 1224.9,1962.7 1226.8,1965.0"/>
<polyline class="c" stroke="#008000" stroke-width="5.5" points="230.2,1982.9 231.9,1983.1 233.7,1983.3 235.5,1983.4 237.2,1983.5 239.0,1983.5 240.8,1983.5 242.5,1983.5 244.3,1983.5 246.3,1983.4 248.3,1983.0 250.3,1982.4 252.2,1981.6 254.2,1980.7 256.2,1979.7 258.2,1978.7 260.2,1977.7 262.2,1976.8 264.1,1976.0 266.1,1975.4 268.1,1975.0 270.1,1974.8 271.9,1975.0 273.8,1975.3 275.7,1975.7 277.5,1976.3 279.4,1977.0 281.2,1977.7 283.1,1978.4 284.9,1979.2 286.8,1979.8 288.7,1980.4 290.5,1980.9 292.4,1981.2 294.2,1981.3 296.2,1981.3 298.1,1981.2 300.1,1981.1 302.0,1980.9 304.0,1980.7 306.0,1980.5 307.9,1980.3 309.9,1980.0 311.8,1979.7 313.8,1979.4 315.7,1979.1 317.7,1978.7 319.6,1978.4 321.6,1978.1 323.5,1977.7 325.3,1977.1 327.2,1976.5 329.0,1975.8 330.9,1975.0 332.7,1974.2 334.6,1973.5 336.5,1972.7 338.3,1972.1 340.2,1971.5 342.0,1971.0 343.9,1970.8 345.7,1970.7 347.6,1970.9 349.5,1971.4 351.5,1972.2 353.4,1973.2 355.3,1974.3 357.2,1975.4 359.1,1976.5 361.0,1977.5 362.9,1978.3 364.8,1978.8 366.7,1979.0 368.6,1979.0 370.5,1978.8 372.5,1978.5 374.4,1978.1 376.3,1977.7 378.3,1977.1 380.2,1976.6 382.1,1976.0 384.1,1975.4 386.0,1974.8 387.8,1974.2 389.7,1973.2 391.5,1972.2 393.3,1971.0 395.2,1969.8 397.0,1968.7 398.8,1967.7 400.7,1966.9 402.5,1966.3 404.3,1966.2 406.3,1966.6 408.3,1967.6 410.3,1969.2 412.3,1971.1 414.2,1973.0 416.2,1974.9 418.2,1976.5 420.0,1977.8 421.8,1979.2 423.6,1980.8 425.3,1982.3 427.1,1983.7 428.9,1984.9 430.7,1985.9 432.5,1986.5 434.3,1986.8 436.1,1986.6 437.9,1986.2 439.7,1985.6 441.4,1984.8 443.2,1984.0 445.0,1983.2 446.8,1982.4 448.6,1981.8 450.4,1981.3 452.3,1980.9 454.1,1980.5 456.0,1980.1 457.9,1979.8 459.8,1979.4 461.7,1979.1 463.5,1978.8 465.4,1978.6 467.3,1978.4 469.2,1978.2 471.0,1978.1 472.9,1978.1 474.9,1978.2 476.8,1978.4 478.7,1978.8 480.7,1979.4 482.6,1980.0 484.5,1980.7 486.4,1981.4 488.4,1982.1 490.3,1982.9 492.2,1983.6 494.2,1984.2 496.1,1984.7 498.0,1985.1 500.0,1985.4 501.9,1985.5 503.8,1985.3 505.7,1985.0 507.6,1984.4 509.5,1983.7 511.4,1983.0 513.3,1982.2 515.2,1981.4 517.1,1980.7 519.0,1980.2 520.9,1979.8 522.8,1979.7 524.8,1979.8 526.7,1980.0 528.6,1980.4 530.6,1980.8 532.5,1981.3 534.4,1981.8 536.4,1982.2 538.3,1982.6 540.2,1982.8 542.2,1982.9 544.1,1982.5 546.1,1981.6 548.1,1980.4 550.1,1979.0 552.0,1977.7 554.0,1976.8 556.0,1976.5 557.9,1976.8 559.7,1977.6 561.6,1978.8 563.4,1980.4 565.3,1982.0 567.2,1983.7 569.0,1985.3 570.9,1986.7 572.7,1987.7 574.7,1988.6 576.7,1989.4 578.6,1990.3 580.6,1991.0 582.6,1991.7 584.5,1992.3 586.5,1992.8 588.5,1993.1 590.4,1993.2 592.3,1993.0 594.2,1992.6 596.1,1991.8 598.0,1990.9 599.8,1989.9 601.7,1988.9 603.6,1987.8 605.5,1986.8 607.4,1985.9 609.2,1985.1 611.1,1984.7 613.0,1984.5 615.0,1984.7 617.0,1985.1 618.9,1985.7 620.9,1986.5 622.9,1987.5 624.9,1988.5 626.9,1989.5 628.8,1990.5 630.8,1991.5 632.8,1992.3 634.8,1992.9 636.8,1993.4 638.7,1993.5 640.7,1993.4 642.7,1993.0 644.6,1992.5 646.6,1991.7 648.5,1990.9 650.5,1990.0 652.4,1989.0 654.4,1988.1 656.3,1987.1 658.3,1986.3 660.2,1985.6 662.2,1985.0 664.2,1984.6 666.1,1984.5 668.0,1984.7 670.0,1985.4 671.9,1986.3 673.8,1987.4 675.8,1988.7 677.7,1990.1 679.6,1991.4 681.6,1992.5 683.5,1993.5 685.4,1994.2 687.4,1994.6 689.3,1995.1 691.2,1995.6 693.2,1996.0 695.1,1996.4 697.0,1996.7 699.0,1997.0 700.9,1997.2 702.8,1997.3 704.8,1997.4 728.3,1997.3 1020.0,1997.3 1036.4,1997.5 1038.4,1997.4 1040.3,1996.9 1042.2,1996.3 1044.2,1995.5 1046.1,1994.7 1048.0,1993.9 1050.0,1993.3 1051.9,1992.9 1053.9,1992.6 1055.8,1992.4 1057.7,1992.2 1059.7,1992.0 1061.6,1991.9 1063.5,1991.7 1065.5,1991.5 1067.4,1991.3 1069.3,1991.1 1071.3,1990.8 1073.2,1990.6 1075.1,1990.3 1077.1,1990.0 1079.0,1989.7 1080.9,1989.4 1082.9,1989.0 1084.6,1988.7 1086.4,1988.3 1088.2,1988.0 1090.0,1987.6 1091.7,1987.1 1093.5,1986.6 1095.3,1985.9 1097.2,1984.8 1099.1,1983.2 1101.1,1981.4 1103.0,1979.7 1104.9,1978.1 1106.9,1976.3 1108.8,1974.7 1110.7,1973.5 1112.5,1972.7 1114.2,1972.0 1116.0,1971.4 1117.7,1971.2 1119.4,1971.5 1121.1,1972.1 1122.8,1972.9 1124.5,1973.7 1126.2,1974.3 1128.0,1974.8 1129.8,1975.3 1131.6,1975.7 1133.4,1976.1 1135.3,1976.4 1137.1,1976.6 1139.0,1976.8 1140.9,1977.0 1142.9,1977.2 1144.8,1977.4 1146.7,1977.6 1148.7,1977.7 1150.6,1977.8 1152.5,1978.0 1154.5,1978.0 1156.4,1978.1 1158.3,1978.2 1160.3,1978.2 1162.2,1978.2 1164.1,1978.2 1166.1,1978.2 1168.0,1978.1 1170.0,1978.1 1171.9,1978.1 1173.8,1978.1 1175.8,1978.0 1177.7,1978.0 1179.6,1978.0 1181.6,1977.9 1183.5,1977.9 1185.3,1977.8 1187.2,1977.6 1189.0,1977.4 1190.8,1977.2 1192.6,1976.9 1194.5,1976.7 1196.3,1976.4 1198.1,1976.2 1200.0,1976.0 1201.8,1975.9 1203.6,1975.9 1205.4,1975.9 1207.2,1976.1 1209.0,1976.4 1210.8,1976.7 1212.7,1977.0 1214.5,1977.4 1216.2,1977.8 1218.0,1978.2 1219.8,1978.7 1221.5,1979.3 1223.3,1979.9 1225.1,1980.6 1226.8,1981.3"/>
</g>
<path class="f" d="M215.2,1998.8H230.7M222.7,1914.4H230.7M215.2,1830.0H230.7M222.7,1745.6H230.7M215.2,1661.2H230.7M222.7,1576.8H230.7M215.2,1492.4H230.7M222.7,1408.0H230.7M215.2,1323.6H230.7M222.7,1239.2H230.7M215.2,1154.8H230.7M230.7,1998.8V2013.3M355.4,1998.8V2006.3M480.1,1998.8V2013.3M604.8,1998.8V2006.3M729.5,1998.8V2013.3M854.1,1998.8V2006.3M978.8,1998.8V2013.3M1103.5,1998.8V2006.3M1228.2,1998.8V2013.3"/>
<text class="tk" x="203.2" y="2019.3" text-anchor="end">0</text>
<text class="tk" x="203.2" y="1850.5" text-anchor="end">6</text>
<text class="tk" x="203.2" y="1681.7" text-anchor="end">12</text>
<text class="tk" x="203.2" y="1512.9" text-anchor="end">18</text>
<text class="tk" x="203.2" y="1344.1" text-anchor="end">24</text>
<text class="tk" x="203.2" y="1175.3" text-anchor="end">30</text>
<text class="yl" transform="translate(82,1541.3) rotate(-90)" text-anchor="middle">PDOS (states/eV)</text>
<text class="tt" x="232.3" y="1115.2">GeAs/Ti<tspan class="sub" dy="23.5">2</tspan><tspan dy="-23.5">CF</tspan><tspan class="sub" dy="23.5">2</tspan></text>
</g>
<g id="p4">
<clipPath id="clip3"><rect x="1369.0" y="1154.8" width="998.5" height="848.0"/></clipPath>
<rect class="f" x="1369.0" y="1154.8" width="997.5" height="844.0"/>
<line x1="1867.2" y1="2013.3" x2="1867.2" y2="1154.8" stroke="#111" stroke-width="6.2" stroke-dasharray="52.0 26.7 37.5 26.7 37.5 26.7 37.5 26.7 37.5 26.7 37.5 26.7 37.5 26.7 37.5 26.7 37.5 26.7 37.5 26.7 37.5 26.7 37.5 26.7 37.5 26.7 37.5 26.7"/>
<g clip-path="url(#clip3)">
<polyline class="c" stroke="#000000" stroke-width="5.5" points="1370.2,1560.4 1371.7,1556.4 1373.2,1551.2 1374.7,1544.9 1376.3,1537.8 1377.9,1527.8 1379.5,1515.0 1381.1,1502.3 1382.7,1492.7 1384.3,1485.4 1385.9,1478.7 1387.5,1473.7 1389.1,1471.8 1390.9,1472.5 1392.7,1474.3 1394.5,1476.6 1396.2,1479.0 1398.0,1480.8 1399.8,1481.5 1401.5,1478.7 1403.3,1471.6 1405.1,1461.7 1406.9,1450.9 1407.9,1442.6 1409.0,1431.5 1410.1,1419.0 1411.2,1406.5 1412.2,1395.2 1413.3,1386.5 1415.1,1374.7 1416.8,1363.8 1418.6,1355.8 1420.4,1352.7 1422.2,1357.4 1424.1,1368.9 1425.9,1383.2 1427.8,1396.1 1429.4,1406.4 1431.0,1417.2 1432.6,1427.1 1434.2,1434.8 1436.2,1442.2 1438.1,1448.3 1440.0,1450.9 1441.8,1447.6 1443.6,1439.5 1445.3,1429.1 1447.1,1418.7 1448.7,1408.2 1450.3,1395.9 1451.9,1384.5 1453.5,1376.8 1455.2,1372.6 1456.8,1369.3 1458.4,1366.6 1460.0,1363.9 1461.6,1361.5 1463.2,1359.4 1464.8,1357.1 1466.4,1354.3 1468.0,1349.9 1469.6,1343.9 1471.3,1337.6 1472.9,1332.1 1474.5,1328.5 1476.1,1326.4 1477.7,1324.5 1479.3,1323.2 1480.9,1322.7 1482.7,1323.2 1484.5,1324.6 1486.3,1326.5 1488.1,1328.8 1489.9,1331.2 1491.6,1333.5 1493.4,1335.4 1495.2,1336.7 1497.0,1337.2 1498.6,1336.3 1500.2,1333.7 1501.8,1329.7 1503.5,1324.7 1505.1,1318.9 1506.1,1312.6 1507.2,1302.7 1508.3,1290.9 1509.4,1278.4 1510.4,1266.9 1511.5,1257.7 1513.1,1245.9 1514.7,1234.4 1516.3,1225.7 1517.9,1222.3 1519.2,1225.5 1520.5,1234.0 1521.8,1246.0 1523.1,1259.8 1524.4,1273.8 1525.1,1282.3 1525.8,1292.6 1526.5,1304.1 1527.2,1316.3 1528.0,1328.8 1528.7,1340.9 1529.4,1352.3 1530.1,1362.2 1530.8,1370.4 1532.2,1384.7 1533.7,1398.6 1535.1,1410.5 1536.5,1418.8 1537.9,1421.9 1539.4,1418.7 1540.9,1410.3 1542.3,1398.4 1543.8,1384.5 1545.3,1370.4 1546.1,1362.2 1546.9,1352.5 1547.7,1341.8 1548.5,1330.2 1549.3,1318.0 1550.1,1305.5 1550.9,1292.9 1551.7,1280.6 1552.6,1268.8 1553.4,1257.7 1554.3,1245.3 1555.2,1232.7 1556.1,1220.1 1557.0,1207.9 1558.0,1196.4 1558.9,1186.1 1559.8,1177.2 1561.4,1162.5 1563.0,1148.4 1564.6,1137.9 1566.2,1133.7 1567.7,1137.1 1569.2,1146.3 1570.7,1159.7 1572.2,1175.9 1573.6,1193.3 1574.2,1200.6 1574.7,1209.5 1575.3,1219.7 1575.8,1231.0 1576.4,1243.0 1576.9,1255.6 1577.5,1268.4 1578.0,1281.3 1578.6,1293.9 1579.1,1306.0 1579.7,1319.1 1580.3,1333.2 1580.9,1347.8 1581.5,1362.8 1582.0,1377.8 1582.6,1392.4 1583.2,1406.5 1583.8,1419.7 1584.4,1431.7 1585.0,1442.2 1585.6,1450.9 1586.7,1465.4 1587.7,1479.4 1588.8,1491.2 1589.9,1499.3 1591.0,1502.4 1593.0,1495.0 1594.9,1479.8 1596.8,1467.0 1598.7,1459.0 1600.5,1452.2 1602.3,1449.3 1604.2,1455.4 1606.2,1469.0 1608.1,1483.1 1609.6,1493.9 1611.1,1506.6 1612.5,1518.7 1614.0,1527.8 1615.5,1531.4 1616.5,1528.0 1617.5,1519.0 1618.5,1506.2 1619.5,1491.2 1620.6,1475.8 1621.6,1461.8 1622.6,1450.9 1624.2,1436.1 1625.8,1421.0 1627.4,1407.6 1629.0,1398.2 1630.6,1394.5 1631.9,1397.8 1633.2,1406.7 1634.5,1419.5 1635.8,1434.8 1637.1,1450.9 1637.6,1458.4 1638.1,1467.5 1638.7,1477.7 1639.2,1488.9 1639.8,1500.7 1640.3,1512.7 1640.8,1524.8 1641.4,1536.5 1641.9,1547.5 1642.5,1559.2 1643.1,1570.8 1643.7,1582.2 1644.3,1593.6 1644.9,1605.2 1645.5,1616.9 1646.1,1629.0 1646.7,1641.6 1647.3,1653.4 1647.8,1666.0 1648.3,1679.0 1648.9,1692.3 1649.4,1705.6 1650.0,1718.7 1650.5,1731.3 1651.0,1743.2 1651.6,1754.3 1652.2,1768.5 1652.9,1783.7 1653.6,1799.0 1654.3,1813.6 1655.0,1826.4 1655.7,1836.7 1656.4,1843.6 1657.0,1846.1 1658.2,1842.1 1659.4,1831.8 1660.5,1817.6 1661.7,1801.7 1662.8,1786.5 1663.5,1777.4 1664.3,1767.5 1665.0,1757.0 1665.7,1746.1 1666.4,1734.8 1667.1,1723.4 1667.8,1712.1 1668.6,1700.8 1669.3,1689.9 1670.0,1679.1 1670.7,1668.1 1671.4,1657.1 1672.1,1646.1 1672.9,1635.1 1673.6,1624.3 1674.3,1613.7 1675.0,1603.3 1675.7,1593.3 1676.5,1582.3 1677.3,1571.6 1678.1,1561.2 1678.9,1551.0 1679.7,1541.1 1680.5,1531.4 1681.6,1518.2 1682.7,1504.5 1683.8,1491.2 1684.8,1478.9 1685.9,1468.5 1687.0,1460.5 1688.6,1451.0 1690.2,1442.5 1691.8,1436.5 1693.4,1434.1 1695.4,1436.1 1697.3,1440.8 1699.2,1447.0 1701.1,1453.0 1703.1,1457.3 1704.7,1459.4 1706.3,1461.0 1707.9,1462.5 1709.5,1464.3 1711.1,1467.0 1712.7,1471.8 1714.3,1479.3 1716.0,1488.7 1717.6,1499.2 1718.6,1507.4 1719.7,1517.5 1720.8,1528.7 1721.9,1540.5 1722.9,1552.4 1724.0,1563.6 1725.1,1574.1 1726.1,1584.7 1727.1,1595.1 1728.2,1605.2 1729.3,1616.4 1730.4,1628.2 1731.5,1639.4 1732.6,1648.6 1733.7,1654.5 1735.6,1660.1 1737.5,1663.9 1739.5,1667.0 1741.4,1670.0 1743.3,1673.8 1744.9,1677.7 1746.5,1681.9 1748.2,1686.4 1749.8,1691.2 1751.4,1696.3 1753.0,1701.8 1754.6,1707.8 1756.2,1714.2 1757.8,1721.1 1759.4,1728.5 1761.0,1736.6 1762.6,1745.5 1764.3,1755.1 1765.9,1765.6 1767.5,1776.8 1768.8,1787.5 1770.1,1799.9 1771.3,1812.8 1772.6,1824.9 1773.9,1834.8 1775.7,1846.6 1777.4,1858.2 1779.1,1868.4 1780.9,1875.5 1782.6,1878.3 1784.4,1876.5 1786.2,1872.0 1787.9,1865.8 1789.7,1859.0 1791.5,1852.6 1793.2,1847.7 1795.0,1843.8 1796.7,1839.8 1798.4,1836.0 1800.1,1832.9 1801.8,1830.8 1803.5,1830.0 1805.3,1830.9 1807.1,1833.5 1808.9,1837.3 1810.6,1841.8 1812.4,1846.5 1814.2,1850.9 1816.0,1855.7 1817.9,1861.3 1819.8,1867.1 1821.7,1873.0 1823.6,1878.4 1825.4,1883.1 1827.2,1887.2 1828.9,1891.5 1830.6,1895.4 1832.4,1898.1 1834.1,1899.2 1835.9,1897.7 1837.7,1893.6 1839.4,1887.8 1841.2,1881.0 1843.0,1873.8 1844.8,1867.0 1846.7,1859.3 1848.6,1850.5 1850.5,1841.4 1852.5,1832.7 1854.4,1825.1 1856.2,1818.7 1857.9,1811.8 1859.7,1805.2 1861.5,1799.1 1863.2,1794.2 1865.0,1790.9 1866.7,1789.7 1868.5,1792.4 1870.3,1799.7 1872.2,1810.1 1874.0,1822.3 1875.8,1834.8 1876.8,1843.3 1877.9,1853.9 1879.0,1865.5 1880.1,1877.5 1881.1,1889.0 1882.2,1899.2 1883.5,1910.2 1884.8,1921.0 1886.1,1931.1 1887.3,1940.1 1888.6,1947.5 1890.2,1955.7 1891.9,1963.4 1893.5,1969.1 1895.1,1971.6 1896.9,1972.0 1898.8,1972.3 1900.6,1972.4 1902.4,1972.6 1904.3,1972.7 1906.1,1972.9 1908.0,1973.2 1909.9,1974.1 1911.8,1975.6 1913.8,1977.5 1915.7,1979.5 1917.6,1981.3 1919.5,1983.0 1921.3,1985.0 1923.1,1987.0 1925.0,1988.9 1926.8,1990.6 1928.7,1991.9 1930.5,1992.6 1932.3,1992.9 1934.1,1993.2 1935.9,1993.4 1937.7,1993.6 1939.4,1993.8 1941.2,1994.0 1943.0,1994.1 1944.8,1994.1 1946.6,1994.2 1948.5,1994.2 1950.4,1994.1 1952.3,1994.1 1954.2,1994.0 1956.1,1994.0 1958.0,1993.9 1959.9,1993.8 1961.7,1993.7 1963.6,1993.6 1965.5,1993.6 1967.4,1993.5 1969.3,1993.4 1971.2,1993.3 1973.1,1993.3 1975.0,1993.2 1976.9,1993.2 1978.8,1993.2 1980.7,1993.2 1982.7,1993.2 1984.6,1993.2 1986.6,1993.2 1988.5,1993.3 1990.5,1993.3 1992.5,1993.3 1994.4,1993.3 1996.4,1993.4 1998.3,1993.4 2000.3,1993.4 2002.2,1993.5 2004.2,1993.5 2006.1,1993.6 2008.1,1993.6 2010.0,1993.7 2012.0,1993.7 2013.9,1993.7 2015.9,1993.8 2017.8,1993.8 2019.8,1993.9 2021.7,1993.9 2023.7,1994.0 2025.6,1994.0 2027.6,1994.0 2029.5,1994.1 2031.5,1994.1 2033.4,1994.1 2035.4,1994.1 2037.3,1994.1 2039.3,1994.2 2041.2,1994.2 2043.2,1994.2 2107.6,1994.2 2109.6,1994.1 2111.5,1994.1 2113.5,1994.0 2115.5,1993.8 2117.5,1993.6 2119.5,1993.4 2121.5,1993.1 2123.4,1992.8 2125.4,1992.5 2127.4,1992.1 2129.4,1991.8 2131.4,1991.4 2133.3,1990.9 2135.2,1990.4 2137.0,1989.6 2138.9,1988.6 2140.7,1987.5 2142.5,1986.4 2144.4,1985.3 2146.2,1984.5 2148.2,1983.7 2150.1,1982.8 2152.0,1982.1 2154.0,1981.5 2155.9,1981.3 2157.7,1981.3 2159.6,1981.5 2161.4,1981.7 2163.2,1981.9 2165.1,1982.1 2166.9,1982.2 2168.8,1982.3 2170.7,1981.7 2172.6,1980.1 2174.6,1977.9 2176.5,1975.5 2178.4,1973.2 2180.4,1971.0 2182.3,1968.5 2184.2,1965.9 2186.1,1963.2 2188.1,1960.4 2190.0,1957.5 2191.9,1954.7 2193.9,1951.6 2195.8,1948.2 2197.7,1944.3 2199.3,1940.2 2201.0,1935.3 2202.6,1930.0 2204.2,1924.9 2205.8,1919.5 2207.4,1913.7 2209.0,1908.7 2210.6,1905.6 2212.2,1904.0 2213.8,1902.9 2215.4,1902.4 2217.3,1902.9 2219.1,1904.3 2221.0,1906.2 2222.8,1908.3 2224.6,1910.1 2226.5,1911.5 2228.3,1912.1 2230.2,1911.4 2232.1,1909.7 2234.0,1907.1 2235.8,1903.8 2237.7,1900.0 2239.6,1896.0 2241.5,1890.5 2243.5,1883.1 2245.4,1873.8 2247.3,1862.9 2249.3,1850.9 2250.3,1842.9 2251.4,1833.3 2252.5,1822.4 2253.6,1810.7 2254.6,1798.6 2255.7,1786.5 2256.6,1775.8 2257.5,1764.3 2258.5,1752.3 2259.4,1740.2 2260.3,1728.2 2261.2,1716.7 2262.1,1706.0 2263.2,1693.6 2264.3,1680.7 2265.4,1668.3 2266.4,1657.0 2267.5,1647.9 2268.6,1641.6 2270.4,1634.3 2272.2,1627.9 2274.0,1622.9 2275.8,1619.6 2277.6,1618.4 2279.3,1619.5 2281.1,1622.2 2282.8,1626.1 2284.5,1630.6 2286.3,1635.2 2287.9,1639.9 2289.5,1645.7 2291.1,1652.0 2292.7,1658.3 2294.3,1664.1 2295.9,1669.8 2297.6,1675.5 2299.2,1681.0 2300.8,1685.9 2302.4,1689.9 2304.0,1692.9 2305.6,1695.4 2307.2,1697.7 2308.8,1700.0 2310.4,1702.8 2312.0,1706.4 2313.7,1710.7 2315.3,1715.2 2316.9,1719.2 2318.5,1722.1 2320.3,1724.6 2322.2,1726.9 2324.0,1728.5 2325.9,1729.2 2327.7,1727.0 2329.4,1721.3 2331.2,1713.9 2333.0,1706.0 2334.6,1697.8 2336.2,1687.9 2337.8,1677.3 2339.4,1667.4 2341.0,1657.4 2342.6,1647.1 2344.2,1638.0 2345.9,1631.9 2347.8,1627.3 2349.7,1623.7 2351.6,1622.3 2353.4,1623.9 2355.2,1627.9 2357.0,1633.1 2358.7,1638.4 2360.3,1643.1 2362.0,1648.5 2363.6,1654.3 2365.2,1660.6 2366.8,1667.4"/>
<polyline class="c" stroke="#ff0000" stroke-width="5.5" points="1370.2,1976.5 1372.0,1974.0 1373.8,1971.7 1375.6,1969.6 1377.4,1967.8 1379.3,1966.3 1381.1,1965.2 1383.0,1964.3 1385.0,1963.6 1386.9,1962.9 1388.8,1962.4 1390.8,1962.0 1392.7,1961.6 1394.6,1961.4 1396.6,1961.1 1398.5,1960.8 1400.4,1960.4 1402.3,1959.3 1404.3,1957.4 1406.2,1955.1 1408.1,1952.8 1410.1,1950.7 1412.0,1948.6 1413.9,1946.3 1415.9,1944.2 1417.8,1942.6 1419.7,1942.0 1421.7,1942.9 1423.6,1945.1 1425.5,1948.1 1427.5,1951.2 1429.4,1953.9 1431.3,1956.5 1433.3,1959.3 1435.2,1961.9 1437.1,1964.0 1439.1,1965.2 1441.0,1965.7 1442.9,1966.2 1444.9,1966.5 1446.8,1966.7 1448.7,1966.8 1450.5,1966.7 1452.3,1966.4 1454.1,1966.0 1455.9,1965.5 1457.7,1964.9 1459.4,1964.2 1461.2,1963.4 1463.0,1962.7 1464.8,1962.0 1466.7,1961.1 1468.5,1959.9 1470.3,1958.6 1472.2,1957.3 1474.0,1956.1 1475.9,1955.2 1477.7,1954.6 1479.6,1954.2 1481.6,1953.8 1483.5,1953.5 1485.4,1953.3 1487.4,1953.3 1489.2,1953.4 1491.0,1953.7 1492.9,1954.2 1494.7,1954.6 1496.6,1955.1 1498.4,1955.4 1500.2,1955.5 1502.0,1955.2 1503.9,1954.3 1505.7,1953.0 1507.5,1951.5 1509.3,1950.0 1511.1,1948.7 1512.9,1947.8 1514.7,1947.5 1516.6,1948.0 1518.5,1949.3 1520.4,1951.2 1522.2,1953.4 1524.1,1955.4 1526.0,1957.1 1528.0,1958.8 1530.0,1960.6 1531.9,1962.3 1533.9,1963.8 1535.9,1964.8 1537.9,1965.2 1539.9,1964.8 1541.9,1963.6 1543.8,1962.0 1545.8,1960.0 1547.8,1957.9 1549.8,1955.8 1551.7,1953.9 1553.5,1952.2 1555.3,1950.2 1557.1,1948.1 1558.9,1946.0 1560.7,1944.0 1562.5,1942.2 1564.3,1940.7 1566.1,1939.8 1567.8,1939.4 1569.7,1939.9 1571.5,1941.3 1573.4,1943.3 1575.2,1945.8 1577.0,1948.5 1578.9,1951.3 1580.7,1953.9 1582.7,1957.2 1584.6,1961.4 1586.5,1965.5 1588.5,1968.6 1590.4,1970.0 1592.2,1970.2 1594.1,1970.3 1595.9,1970.4 1597.7,1970.4 1599.6,1970.5 1601.4,1970.5 1603.3,1970.7 1605.1,1970.8 1606.8,1971.1 1608.6,1971.3 1610.4,1971.7 1612.2,1972.0 1614.0,1972.3 1615.8,1972.7 1617.6,1973.0 1619.4,1973.2 1621.2,1973.5 1623.0,1973.7 1624.9,1973.8 1626.7,1974.0 1628.6,1974.2 1630.4,1974.5 1632.2,1974.8 1634.1,1975.6 1635.9,1977.0 1637.8,1978.7 1639.6,1980.7 1641.4,1982.8 1643.3,1984.6 1645.1,1986.1 1647.0,1987.5 1648.9,1988.9 1650.8,1990.3 1652.6,1991.5 1654.5,1992.3 1656.4,1992.6 1658.2,1992.1 1660.0,1990.9 1661.8,1989.2 1663.6,1987.1 1665.4,1984.9 1667.3,1982.8 1669.1,1981.0 1670.9,1979.7 1672.7,1978.7 1674.5,1977.7 1676.2,1976.7 1678.0,1975.8 1679.8,1974.9 1681.6,1974.2 1683.4,1973.7 1685.2,1973.4 1687.0,1973.2 1689.0,1973.2 1690.9,1973.3 1692.9,1973.3 1694.9,1973.3 1696.9,1973.4 1698.9,1973.4 1700.9,1973.5 1702.8,1973.6 1704.8,1973.7 1706.8,1973.8 1708.8,1973.9 1710.8,1974.1 1712.7,1974.2 1714.5,1974.5 1716.3,1975.3 1718.1,1976.2 1719.9,1977.3 1721.7,1978.5 1723.5,1979.5 1725.3,1980.4 1727.1,1981.1 1728.8,1981.3 1744.9,1981.3 1746.7,1981.6 1748.5,1982.4 1750.3,1983.6 1752.1,1985.0 1753.9,1986.5 1755.7,1988.0 1757.5,1989.3 1759.2,1990.3 1761.0,1990.9 1763.0,1991.3 1764.9,1991.7 1766.8,1992.0 1768.8,1992.3 1770.7,1992.6 1772.6,1992.8 1774.6,1993.0 1776.5,1993.1 1778.4,1993.2 1780.4,1993.2 1782.2,1993.1 1784.1,1992.8 1786.0,1992.3 1787.9,1991.8 1789.7,1991.1 1791.6,1990.5 1793.5,1989.8 1795.4,1989.1 1797.3,1988.6 1799.1,1988.1 1801.0,1987.8 1802.9,1987.7 1804.8,1987.9 1806.8,1988.4 1808.7,1989.1 1810.6,1990.0 1812.6,1990.9 1814.5,1991.9 1816.4,1992.8 1818.3,1993.5 1820.3,1994.0 1822.2,1994.2 1824.1,1994.1 1826.1,1994.1 1828.0,1994.0 1829.9,1993.8 1831.9,1993.7 1833.8,1993.5 1835.7,1993.3 1837.7,1993.0 1839.6,1992.8 1841.5,1992.6 1843.5,1992.2 1845.4,1991.6 1847.4,1990.9 1849.3,1990.0 1851.2,1989.1 1853.2,1988.1 1855.1,1987.1 1857.0,1986.2 1859.0,1985.4 1860.9,1984.6 1862.9,1984.0 1864.8,1983.7 1866.7,1983.5 1868.7,1984.0 1870.6,1985.1 1872.5,1986.7 1874.5,1988.6 1876.4,1990.5 1878.3,1992.2 1880.3,1993.5 1882.2,1994.2 1884.1,1994.4 1886.0,1994.7 1887.9,1994.9 1889.8,1995.1 1891.7,1995.3 1893.6,1995.5 1895.5,1995.6 1897.4,1995.8 1899.2,1995.9 1901.1,1996.0 1903.0,1996.1 1904.9,1996.2 1906.8,1996.3 1908.7,1996.3 1910.6,1996.4 1912.5,1996.4 1914.4,1996.4 2043.2,1996.4 2045.2,1996.4 2047.1,1996.4 2049.1,1996.4 2051.1,1996.4 2053.1,1996.4 2055.1,1996.4 2057.0,1996.4 2059.0,1996.3 2061.0,1996.3 2063.0,1996.3 2064.9,1996.3 2066.9,1996.3 2068.9,1996.2 2070.9,1996.2 2072.8,1996.2 2074.8,1996.1 2076.8,1996.1 2078.8,1996.1 2080.8,1996.0 2082.7,1996.0 2084.7,1995.9 2086.7,1995.9 2088.7,1995.8 2090.6,1995.8 2092.6,1995.7 2094.6,1995.6 2096.6,1995.6 2098.5,1995.5 2100.5,1995.5 2102.5,1995.4 2104.5,1995.3 2106.5,1995.2 2108.4,1995.2 2110.4,1995.1 2112.4,1995.0 2114.4,1994.9 2116.3,1994.8 2118.3,1994.7 2120.3,1994.7 2122.3,1994.6 2124.2,1994.5 2126.2,1994.4 2128.2,1994.3 2130.2,1994.2 2132.2,1994.0 2134.1,1993.9 2136.1,1993.8 2138.1,1993.7 2140.1,1993.6 2142.0,1993.5 2144.0,1993.3 2146.0,1993.2 2148.0,1993.1 2150.0,1993.0 2151.9,1992.8 2153.9,1992.7 2155.9,1992.6 2157.7,1992.4 2159.5,1992.2 2161.2,1991.9 2163.0,1991.6 2164.8,1991.2 2166.6,1990.8 2168.4,1990.3 2170.2,1989.8 2172.0,1989.3 2173.8,1988.8 2175.6,1988.1 2177.3,1987.3 2179.1,1986.5 2180.9,1985.6 2182.7,1984.6 2184.5,1983.5 2186.3,1982.4 2188.1,1981.3 2189.9,1980.0 2191.7,1978.6 2193.4,1976.9 2195.2,1975.2 2197.0,1973.4 2198.8,1971.7 2200.6,1969.9 2202.4,1968.3 2204.2,1966.8 2206.1,1965.2 2207.9,1963.4 2209.8,1961.7 2211.7,1960.2 2213.6,1959.1 2215.4,1958.7 2217.3,1959.0 2219.1,1959.5 2220.9,1960.3 2222.7,1961.2 2224.5,1962.0 2226.3,1962.8 2228.1,1963.4 2229.9,1963.6 2231.8,1963.3 2233.6,1962.6 2235.5,1961.4 2237.3,1959.9 2239.1,1958.2 2241.0,1956.1 2242.8,1953.9 2244.7,1950.4 2246.7,1945.1 2248.6,1938.6 2250.5,1931.7 2252.5,1924.9 2254.4,1918.2 2256.3,1910.8 2258.3,1903.3 2260.2,1896.1 2262.1,1889.5 2263.7,1884.3 2265.4,1879.1 2267.0,1874.3 2268.6,1870.1 2270.2,1867.0 2272.0,1864.1 2273.9,1861.5 2275.7,1859.6 2277.6,1858.9 2279.3,1859.5 2281.0,1860.9 2282.7,1862.9 2284.5,1865.4 2286.2,1867.9 2287.9,1870.2 2289.7,1872.7 2291.6,1875.5 2293.4,1878.4 2295.3,1881.5 2297.1,1884.4 2298.9,1887.1 2300.8,1889.5 2302.6,1891.7 2304.5,1893.7 2306.3,1895.7 2308.1,1897.5 2310.0,1899.3 2311.8,1900.9 2313.7,1902.4 2315.4,1903.9 2317.1,1905.4 2318.9,1906.9 2320.6,1908.3 2322.4,1909.4 2324.1,1910.2 2325.9,1910.4 2327.6,1909.7 2329.3,1907.8 2331.0,1905.1 2332.8,1902.0 2334.5,1898.8 2336.2,1896.0 2337.8,1893.3 2339.4,1890.4 2341.0,1887.5 2342.6,1885.0 2344.2,1883.1 2346.1,1881.4 2347.9,1879.8 2349.8,1878.7 2351.6,1878.3 2353.4,1879.0 2355.2,1880.7 2357.0,1882.8 2358.7,1884.7 2360.3,1886.2 2362.0,1887.6 2363.6,1889.1 2365.2,1890.6 2366.8,1892.1"/>
<polyline class="c" stroke="#0000ff" stroke-width="5.5" points="1370.2,1702.8 1371.7,1703.9 1373.2,1704.3 1374.7,1704.4 1376.3,1702.6 1377.9,1698.4 1379.5,1693.5 1381.1,1689.9 1382.9,1687.1 1384.6,1684.5 1386.4,1682.6 1388.2,1681.8 1390.1,1682.7 1392.0,1684.8 1394.0,1687.5 1395.9,1690.2 1397.8,1692.3 1399.8,1693.1 1401.5,1691.0 1403.3,1685.9 1405.1,1679.6 1406.9,1673.8 1408.5,1669.0 1410.1,1664.0 1411.7,1659.0 1413.3,1654.6 1414.9,1651.3 1416.5,1648.5 1418.1,1645.9 1419.7,1643.7 1421.3,1642.2 1423.0,1641.6 1424.7,1642.0 1426.5,1643.0 1428.3,1644.5 1430.1,1646.3 1431.9,1648.2 1433.7,1649.9 1435.5,1651.4 1437.3,1652.5 1439.1,1652.9 1440.7,1651.1 1442.3,1646.6 1443.9,1640.2 1445.5,1632.8 1447.1,1625.5 1448.7,1616.9 1450.3,1606.2 1451.9,1594.9 1453.5,1584.7 1455.2,1577.2 1456.8,1572.1 1458.4,1567.7 1460.0,1564.1 1461.6,1561.1 1463.4,1557.9 1465.3,1554.8 1467.1,1551.8 1469.0,1549.2 1470.8,1547.2 1472.6,1545.8 1474.5,1545.3 1476.1,1547.0 1477.7,1551.4 1479.3,1557.5 1480.9,1564.3 1482.5,1570.8 1484.1,1577.5 1485.7,1585.3 1487.4,1593.3 1489.0,1600.6 1490.6,1606.2 1492.5,1611.6 1494.4,1616.8 1496.4,1621.3 1498.3,1624.3 1500.2,1625.5 1501.8,1623.3 1503.5,1617.6 1505.1,1609.8 1506.7,1601.2 1508.3,1593.3 1509.9,1585.3 1511.5,1576.5 1513.1,1568.1 1514.7,1561.1 1516.5,1554.1 1518.4,1547.9 1520.2,1545.3 1522.1,1550.6 1524.1,1562.9 1526.0,1577.2 1527.1,1586.3 1528.1,1597.8 1529.2,1610.3 1530.3,1622.6 1531.4,1633.4 1532.4,1641.6 1534.0,1651.3 1535.7,1660.1 1537.3,1666.5 1538.9,1669.0 1540.8,1667.5 1542.7,1663.8 1544.7,1658.7 1546.6,1653.2 1548.5,1648.0 1550.5,1643.0 1552.4,1637.3 1554.3,1631.7 1556.3,1626.5 1558.2,1622.3 1559.8,1619.2 1561.4,1616.2 1563.0,1613.6 1564.6,1611.7 1566.2,1611.0 1567.6,1614.4 1568.9,1623.2 1570.3,1635.6 1571.6,1649.4 1572.9,1662.8 1574.3,1673.8 1575.9,1684.9 1577.5,1696.0 1579.1,1706.3 1580.7,1715.2 1582.3,1722.1 1583.9,1727.8 1585.6,1732.9 1587.2,1736.7 1588.8,1738.2 1590.4,1734.3 1592.0,1725.1 1593.6,1714.4 1595.2,1706.0 1596.8,1699.6 1598.4,1693.3 1600.0,1688.6 1601.7,1686.7 1603.3,1690.1 1604.9,1698.1 1606.5,1707.7 1608.1,1715.7 1609.9,1723.4 1611.8,1731.2 1613.7,1737.3 1615.5,1739.8 1616.9,1736.5 1618.3,1727.9 1619.8,1716.0 1621.2,1702.7 1622.6,1689.9 1623.6,1680.8 1624.5,1670.4 1625.5,1659.8 1626.4,1649.8 1627.4,1641.6 1629.0,1629.3 1630.6,1618.7 1632.2,1614.2 1633.9,1618.2 1635.5,1628.5 1637.1,1642.5 1638.7,1657.7 1639.4,1665.2 1640.1,1674.2 1640.8,1684.5 1641.5,1695.6 1642.3,1707.3 1643.0,1719.4 1643.7,1731.4 1644.4,1743.2 1645.1,1754.3 1645.8,1765.4 1646.6,1777.1 1647.3,1789.0 1648.0,1801.0 1648.7,1812.7 1649.4,1823.8 1650.1,1834.0 1650.8,1843.2 1651.6,1850.9 1653.2,1866.7 1654.8,1881.9 1656.4,1894.9 1658.0,1903.9 1659.6,1907.2 1661.2,1904.6 1662.8,1897.8 1664.4,1888.3 1666.1,1877.5 1667.7,1867.0 1669.0,1858.0 1670.3,1847.7 1671.7,1836.6 1673.0,1825.2 1674.4,1813.7 1675.7,1802.6 1677.1,1791.3 1678.4,1779.4 1679.7,1767.5 1681.1,1756.2 1682.4,1746.2 1683.8,1738.2 1685.7,1728.2 1687.6,1718.6 1689.6,1710.5 1691.5,1704.9 1693.4,1702.8 1695.0,1704.2 1696.6,1708.0 1698.3,1713.3 1699.9,1719.3 1701.5,1725.3 1703.1,1731.7 1704.7,1739.3 1706.3,1747.5 1707.9,1755.9 1709.5,1763.9 1711.1,1771.8 1712.7,1779.7 1714.3,1787.6 1716.0,1795.3 1717.6,1802.6 1719.2,1809.6 1720.8,1816.5 1722.4,1823.1 1724.0,1829.2 1725.6,1834.8 1727.6,1840.7 1729.5,1846.2 1731.4,1851.3 1733.3,1856.0 1735.3,1860.5 1737.0,1864.9 1738.8,1869.5 1740.6,1874.0 1742.4,1877.8 1744.1,1880.5 1745.9,1881.5 1747.6,1879.4 1749.4,1874.0 1751.1,1867.0 1752.9,1859.9 1754.6,1854.1 1756.4,1849.0 1758.1,1843.7 1759.9,1839.6 1761.7,1838.0 1763.5,1840.9 1765.4,1848.1 1767.2,1857.5 1769.1,1867.0 1770.7,1875.6 1772.3,1885.7 1773.9,1896.4 1775.5,1906.5 1777.1,1915.3 1778.7,1923.0 1780.4,1930.3 1782.0,1937.1 1783.6,1942.9 1785.2,1947.5 1787.1,1952.1 1789.0,1956.5 1791.0,1960.1 1792.9,1962.6 1794.8,1963.6 1796.7,1963.1 1798.6,1961.9 1800.5,1960.2 1802.4,1958.2 1804.2,1956.0 1806.1,1953.9 1808.0,1951.6 1810.0,1948.8 1811.9,1945.9 1813.8,1943.2 1815.8,1941.0 1817.4,1939.4 1819.0,1937.9 1820.6,1936.7 1822.2,1936.2 1824.1,1937.4 1826.1,1940.4 1828.0,1944.2 1829.9,1948.0 1831.9,1950.7 1833.7,1952.5 1835.5,1954.2 1837.2,1956.0 1839.0,1957.6 1840.8,1959.0 1842.6,1960.2 1844.4,1961.2 1846.2,1961.8 1848.0,1962.0 1849.9,1961.5 1851.8,1960.4 1853.8,1958.9 1855.7,1957.2 1857.6,1955.5 1859.6,1953.5 1861.5,1951.0 1863.5,1948.5 1865.4,1946.6 1867.4,1945.9 1869.1,1947.1 1870.7,1950.3 1872.4,1954.7 1874.1,1959.4 1875.8,1963.6 1877.7,1968.3 1879.6,1973.6 1881.6,1978.8 1883.5,1983.2 1885.4,1986.1 1887.3,1988.1 1889.3,1989.8 1891.2,1991.2 1893.1,1992.2 1895.1,1992.6 1896.9,1992.5 1898.8,1992.4 1900.6,1992.3 1902.4,1992.2 1904.3,1992.0 1906.1,1991.9 1908.0,1991.9 1909.8,1992.1 1911.6,1992.5 1913.5,1993.2 1915.3,1993.8 1917.2,1994.5 1919.0,1994.9 1920.8,1995.1 1922.8,1995.1 1924.8,1995.2 1926.8,1995.2 1928.7,1995.2 1930.7,1995.2 1932.7,1995.2 1934.6,1995.2 1936.6,1995.2 1938.6,1995.2 1940.6,1995.3 1942.5,1995.3 1944.5,1995.3 1946.5,1995.3 1948.5,1995.3 1950.4,1995.3 1952.4,1995.3 1954.4,1995.3 1956.4,1995.3 1958.3,1995.3 1960.3,1995.3 1962.3,1995.3 1964.3,1995.4 1966.2,1995.4 1968.2,1995.4 1970.2,1995.4 1972.1,1995.4 1974.1,1995.4 1976.1,1995.4 1978.1,1995.4 1980.0,1995.4 1982.0,1995.4 1984.0,1995.4 1986.0,1995.4 1987.9,1995.4 1989.9,1995.4 1991.9,1995.4 1993.9,1995.4 1995.8,1995.4 1997.8,1995.4 1999.8,1995.4 2001.7,1995.4 2003.7,1995.4 2005.7,1995.4 2007.7,1995.4 2009.6,1995.4 2011.6,1995.4 2013.6,1995.4 2015.6,1995.4 2017.5,1995.4 2019.5,1995.4 2021.5,1995.4 2023.5,1995.4 2025.4,1995.4 2027.4,1995.4 2029.4,1995.5 2031.3,1995.5 2033.3,1995.5 2035.3,1995.5 2037.3,1995.5 2039.2,1995.5 2041.2,1995.5 2043.2,1995.5 2045.2,1995.5 2047.2,1995.5 2049.1,1995.4 2051.1,1995.4 2053.1,1995.4 2055.1,1995.4 2057.1,1995.4 2059.0,1995.4 2061.0,1995.4 2063.0,1995.4 2065.0,1995.4 2067.0,1995.4 2068.9,1995.4 2070.9,1995.4 2072.9,1995.3 2074.9,1995.3 2076.9,1995.3 2078.9,1995.3 2080.8,1995.3 2082.8,1995.3 2084.8,1995.2 2086.8,1995.2 2088.8,1995.2 2090.7,1995.2 2092.7,1995.1 2094.7,1995.1 2096.7,1995.1 2098.7,1995.0 2100.7,1995.0 2102.6,1995.0 2104.6,1994.9 2106.6,1994.9 2108.6,1994.9 2110.6,1994.8 2112.5,1994.8 2114.5,1994.7 2116.5,1994.7 2118.5,1994.6 2120.5,1994.6 2122.4,1994.5 2124.4,1994.5 2126.4,1994.4 2128.4,1994.4 2130.4,1994.3 2132.4,1994.2 2134.3,1994.2 2136.3,1994.1 2138.3,1994.0 2140.3,1994.0 2142.3,1993.9 2144.2,1993.8 2146.2,1993.7 2148.2,1993.7 2150.2,1993.6 2152.2,1993.5 2154.1,1993.4 2156.1,1993.3 2158.1,1993.2 2160.1,1993.2 2162.1,1993.1 2164.1,1993.0 2166.0,1992.9 2168.0,1992.8 2170.0,1992.7 2172.0,1992.6 2173.8,1992.4 2175.6,1992.1 2177.3,1991.7 2179.1,1991.1 2180.9,1990.5 2182.7,1989.9 2184.5,1989.2 2186.3,1988.4 2188.1,1987.7 2189.9,1986.9 2191.7,1986.0 2193.4,1985.0 2195.2,1983.9 2197.0,1982.8 2198.8,1981.6 2200.6,1980.4 2202.4,1979.2 2204.2,1978.1 2206.1,1976.7 2207.9,1975.1 2209.8,1973.5 2211.7,1972.1 2213.6,1971.0 2215.4,1970.7 2217.3,1970.7 2219.1,1970.8 2220.9,1971.0 2222.7,1971.1 2224.5,1971.3 2226.3,1971.5 2228.1,1971.6 2229.9,1971.6 2231.8,1971.3 2233.6,1970.4 2235.5,1969.1 2237.3,1967.3 2239.1,1965.2 2241.0,1962.9 2242.8,1960.4 2244.7,1956.6 2246.7,1951.1 2248.6,1944.7 2250.5,1937.9 2252.5,1931.4 2254.4,1925.0 2256.3,1918.4 2258.3,1911.7 2260.2,1905.2 2262.1,1899.2 2264.1,1893.2 2266.0,1887.0 2267.9,1881.2 2269.9,1876.5 2271.8,1873.4 2273.4,1871.8 2275.0,1870.3 2276.6,1869.1 2278.2,1868.2 2279.8,1867.9 2281.7,1868.4 2283.6,1869.7 2285.5,1871.4 2287.4,1873.4 2289.2,1875.2 2291.1,1876.6 2293.0,1877.7 2294.8,1878.8 2296.6,1879.7 2298.5,1880.7 2300.3,1881.5 2302.2,1882.3 2304.0,1883.1 2305.9,1883.8 2307.9,1884.4 2309.8,1884.9 2311.7,1885.5 2313.7,1886.3 2315.4,1887.3 2317.1,1888.7 2318.9,1890.2 2320.6,1891.7 2322.4,1893.1 2324.1,1894.0 2325.9,1894.3 2327.6,1893.5 2329.3,1891.3 2331.0,1888.1 2332.8,1884.3 2334.5,1880.4 2336.2,1876.6 2337.8,1872.9 2339.4,1868.7 2341.0,1864.3 2342.6,1860.3 2344.2,1857.3 2346.1,1854.5 2347.9,1851.9 2349.8,1850.0 2351.6,1849.3 2353.4,1849.9 2355.2,1851.5 2357.0,1853.6 2358.7,1855.7 2360.3,1857.7 2362.0,1860.1 2363.6,1862.7 2365.2,1865.5 2366.8,1868.6"/>
<polyline class="c" stroke="#ff00ff" stroke-width="5.5" points="1370.2,1899.2 1372.1,1890.1 1374.0,1881.6 1375.9,1873.9 1377.9,1867.0 1379.5,1861.5 1381.1,1856.1 1382.7,1851.1 1384.3,1847.1 1385.9,1844.4 1387.5,1842.6 1389.1,1841.1 1390.8,1840.0 1392.4,1839.6 1394.0,1839.8 1395.6,1840.2 1397.2,1840.7 1398.8,1841.1 1400.4,1841.2 1402.0,1839.8 1403.6,1836.0 1405.2,1830.7 1406.9,1824.6 1408.5,1818.7 1410.1,1811.7 1411.7,1803.3 1413.3,1795.3 1414.9,1789.7 1416.5,1785.9 1418.1,1782.9 1419.7,1781.7 1421.3,1784.6 1423.0,1791.8 1424.6,1800.8 1426.2,1809.0 1427.8,1816.8 1429.4,1825.0 1431.0,1832.5 1432.6,1838.0 1434.2,1842.0 1435.8,1845.7 1437.4,1848.3 1439.1,1849.3 1440.8,1848.8 1442.5,1847.6 1444.2,1846.1 1445.9,1844.5 1447.6,1843.3 1449.4,1842.8 1451.2,1843.3 1453.1,1844.5 1455.0,1846.3 1456.8,1848.5 1458.7,1850.9 1460.6,1853.3 1462.4,1855.5 1464.3,1857.3 1466.2,1858.5 1468.0,1858.9 1470.0,1857.9 1471.9,1855.0 1473.8,1851.0 1475.8,1846.2 1477.7,1841.2 1479.6,1835.1 1481.6,1827.1 1483.5,1818.3 1485.4,1809.8 1487.4,1802.6 1489.3,1796.7 1491.2,1791.2 1493.1,1786.1 1495.1,1781.3 1497.0,1776.8 1498.9,1772.5 1500.9,1768.5 1502.8,1764.7 1504.7,1761.0 1506.7,1757.5 1508.3,1754.3 1509.9,1750.9 1511.5,1747.8 1513.1,1745.5 1514.7,1744.6 1516.3,1747.5 1517.9,1754.5 1519.6,1762.9 1521.2,1770.4 1522.8,1776.7 1524.4,1783.2 1526.0,1789.4 1527.6,1794.9 1529.2,1799.4 1530.8,1803.2 1532.4,1806.9 1534.0,1809.6 1535.7,1810.6 1537.3,1809.2 1538.9,1805.5 1540.5,1800.0 1542.1,1793.5 1543.7,1786.5 1545.0,1779.3 1546.4,1769.9 1547.7,1758.9 1549.1,1746.8 1550.4,1734.4 1551.7,1722.1 1552.8,1711.9 1553.9,1700.8 1555.0,1689.2 1556.0,1677.9 1557.1,1667.2 1558.2,1657.7 1559.7,1644.7 1561.2,1631.2 1562.7,1618.3 1564.2,1607.4 1565.7,1599.9 1567.2,1597.2 1568.4,1600.0 1569.6,1607.5 1570.7,1618.4 1571.9,1631.3 1573.1,1644.9 1574.3,1657.7 1575.2,1667.9 1576.1,1679.3 1577.0,1691.5 1578.0,1704.0 1578.9,1716.2 1579.8,1727.8 1580.7,1738.2 1582.0,1751.8 1583.3,1765.3 1584.6,1777.7 1585.9,1788.3 1587.2,1796.1 1589.1,1805.3 1591.0,1812.5 1593.0,1815.5 1594.7,1814.7 1596.4,1813.0 1598.2,1810.9 1599.9,1809.1 1601.7,1808.4 1603.3,1810.0 1604.9,1813.8 1606.5,1818.3 1608.1,1821.9 1609.7,1824.8 1611.3,1827.8 1612.9,1830.5 1614.5,1832.4 1616.1,1833.2 1617.8,1831.4 1619.4,1827.3 1621.0,1822.4 1622.6,1818.7 1624.2,1815.8 1625.8,1813.3 1627.4,1812.2 1629.0,1815.0 1630.6,1822.1 1632.2,1831.5 1633.9,1841.2 1635.1,1849.9 1636.4,1860.4 1637.7,1871.8 1639.0,1882.9 1640.3,1892.7 1641.9,1904.0 1643.5,1915.0 1645.1,1925.3 1646.7,1934.2 1648.3,1941.0 1650.0,1946.7 1651.6,1951.9 1653.2,1955.7 1654.8,1957.1 1656.4,1955.6 1658.0,1951.6 1659.6,1945.7 1661.2,1938.8 1662.8,1931.4 1664.2,1923.7 1665.5,1913.6 1666.9,1901.9 1668.2,1889.6 1669.5,1877.7 1670.9,1867.0 1672.5,1855.0 1674.1,1842.9 1675.7,1831.1 1677.3,1820.2 1678.9,1810.5 1680.5,1802.6 1682.2,1795.7 1683.8,1789.2 1685.4,1783.5 1687.0,1779.2 1688.6,1776.8 1690.5,1775.6 1692.3,1774.9 1694.2,1774.3 1696.1,1773.8 1698.0,1773.1 1699.9,1772.0 1701.5,1770.0 1703.1,1766.7 1704.7,1762.7 1706.3,1758.4 1707.9,1754.3 1709.5,1749.6 1711.1,1744.3 1712.7,1740.0 1714.3,1738.2 1716.0,1741.6 1717.6,1749.9 1719.2,1760.4 1720.8,1770.4 1722.4,1780.3 1724.0,1791.4 1725.6,1802.5 1727.2,1812.0 1728.8,1818.7 1730.4,1823.4 1732.1,1827.5 1733.7,1830.4 1735.3,1831.6 1736.9,1831.2 1738.5,1830.2 1740.1,1829.1 1741.7,1828.1 1743.3,1827.7 1744.9,1830.0 1746.5,1835.9 1748.2,1843.9 1749.8,1852.6 1751.4,1860.5 1753.0,1867.8 1754.6,1875.4 1756.2,1883.2 1757.8,1891.2 1759.4,1899.2 1761.0,1907.8 1762.6,1917.0 1764.3,1926.2 1765.9,1934.4 1767.5,1941.0 1769.3,1947.7 1771.2,1953.9 1773.0,1958.5 1774.9,1960.4 1776.6,1958.9 1778.4,1954.9 1780.1,1949.5 1781.8,1943.5 1783.6,1937.8 1785.5,1931.1 1787.4,1923.4 1789.4,1915.5 1791.3,1908.2 1793.2,1902.4 1795.0,1898.0 1796.7,1893.7 1798.5,1889.9 1800.2,1887.3 1801.9,1886.3 1803.7,1887.8 1805.5,1891.7 1807.3,1897.1 1809.1,1903.1 1810.9,1908.8 1812.6,1914.3 1814.2,1920.6 1815.8,1927.1 1817.4,1933.0 1819.0,1937.8 1820.9,1942.7 1822.9,1947.5 1824.8,1951.6 1826.7,1954.4 1828.7,1955.5 1830.6,1954.7 1832.5,1952.3 1834.4,1949.0 1836.4,1945.1 1838.3,1941.0 1840.2,1936.2 1842.2,1929.9 1844.1,1922.9 1846.0,1915.7 1848.0,1908.8 1849.9,1902.2 1851.8,1895.2 1853.8,1888.4 1855.7,1882.1 1857.6,1876.6 1859.3,1872.0 1861.0,1867.3 1862.7,1863.1 1864.4,1860.1 1866.1,1858.9 1867.7,1860.4 1869.3,1864.3 1870.9,1869.9 1872.5,1876.4 1874.1,1883.1 1875.8,1890.7 1877.4,1900.1 1879.0,1910.5 1880.6,1921.2 1882.2,1931.4 1883.8,1941.9 1885.4,1952.9 1887.0,1962.8 1888.6,1970.0 1890.2,1975.2 1891.9,1979.9 1893.5,1983.2 1895.1,1984.5 1896.9,1984.4 1898.8,1984.2 1900.6,1983.9 1902.4,1983.5 1904.3,1983.2 1906.1,1983.0 1908.0,1982.9 1909.8,1983.2 1911.6,1984.2 1913.5,1985.5 1915.3,1987.0 1917.2,1988.6 1919.0,1990.0 1920.8,1990.9 1922.7,1991.7 1924.5,1992.5 1926.4,1993.2 1928.2,1993.8 1930.0,1994.3 1931.9,1994.7 1933.7,1994.8 1935.7,1994.8 1937.7,1994.9 1939.7,1994.9 1941.7,1994.9 1943.7,1995.0 1945.7,1995.0 1947.6,1995.0 1949.6,1995.0 1951.6,1995.0 1953.6,1995.1 1955.6,1995.1 1957.6,1995.1 1959.6,1995.1 1961.6,1995.2 1963.6,1995.2 1965.6,1995.2 1967.6,1995.2 1969.5,1995.2 1971.5,1995.2 1973.5,1995.3 1975.5,1995.3 1977.5,1995.3 1979.5,1995.3 1981.5,1995.3 1983.5,1995.3 1985.5,1995.3 1987.5,1995.3 1989.4,1995.3 1991.4,1995.4 1993.4,1995.4 1995.4,1995.4 1997.4,1995.4 1999.4,1995.4 2001.4,1995.4 2003.4,1995.4 2005.4,1995.4 2007.4,1995.4 2009.4,1995.4 2011.3,1995.4 2013.3,1995.4 2015.3,1995.4 2017.3,1995.4 2019.3,1995.4 2021.3,1995.4 2023.3,1995.4 2025.3,1995.4 2027.3,1995.4 2029.3,1995.4 2031.2,1995.4 2033.2,1995.4 2035.2,1995.5 2037.2,1995.5 2039.2,1995.5 2041.2,1995.5 2043.2,1995.5 2045.2,1995.5 2047.2,1995.5 2049.1,1995.4 2051.1,1995.4 2053.1,1995.4 2055.1,1995.4 2057.1,1995.4 2059.0,1995.4 2061.0,1995.4 2063.0,1995.4 2065.0,1995.4 2067.0,1995.4 2068.9,1995.4 2070.9,1995.4 2072.9,1995.3 2074.9,1995.3 2076.9,1995.3 2078.9,1995.3 2080.8,1995.3 2082.8,1995.2 2084.8,1995.2 2086.8,1995.2 2088.8,1995.2 2090.7,1995.1 2092.7,1995.1 2094.7,1995.1 2096.7,1995.0 2098.7,1995.0 2100.7,1995.0 2102.6,1994.9 2104.6,1994.9 2106.6,1994.9 2108.6,1994.8 2110.6,1994.8 2112.5,1994.7 2114.5,1994.7 2116.5,1994.6 2118.5,1994.6 2120.5,1994.5 2122.4,1994.5 2124.4,1994.4 2126.4,1994.4 2128.4,1994.3 2130.4,1994.3 2132.4,1994.2 2134.3,1994.1 2136.3,1994.1 2138.3,1994.0 2140.3,1993.9 2142.3,1993.9 2144.2,1993.8 2146.2,1993.7 2148.2,1993.6 2150.2,1993.6 2152.2,1993.5 2154.1,1993.4 2156.1,1993.3 2158.1,1993.2 2160.1,1993.1 2162.1,1993.0 2164.1,1992.9 2166.0,1992.9 2168.0,1992.8 2170.0,1992.7 2172.0,1992.6 2173.9,1992.4 2175.8,1992.1 2177.8,1991.8 2179.7,1991.3 2181.6,1990.8 2183.6,1990.3 2185.5,1989.7 2187.4,1989.0 2189.4,1988.4 2191.3,1987.7 2193.1,1987.0 2195.0,1986.1 2196.8,1985.1 2198.7,1984.1 2200.5,1983.1 2202.3,1982.1 2204.2,1981.3 2206.1,1980.4 2207.9,1979.5 2209.8,1978.6 2211.7,1977.8 2213.6,1977.3 2215.4,1977.1 2217.3,1977.1 2219.1,1977.2 2220.9,1977.4 2222.7,1977.6 2224.5,1977.8 2226.3,1977.9 2228.1,1978.0 2229.9,1978.1 2231.8,1977.8 2233.6,1977.2 2235.5,1976.2 2237.3,1974.9 2239.1,1973.4 2241.0,1971.8 2242.8,1970.0 2244.7,1967.4 2246.7,1963.7 2248.6,1959.4 2250.5,1954.9 2252.5,1950.7 2254.4,1946.7 2256.3,1942.6 2258.3,1938.6 2260.2,1934.8 2262.1,1931.4 2263.7,1928.7 2265.4,1926.1 2267.0,1923.6 2268.6,1921.6 2270.2,1920.1 2271.8,1918.9 2273.4,1917.9 2275.0,1917.2 2276.6,1916.9 2278.5,1917.6 2280.4,1919.3 2282.3,1921.8 2284.1,1924.6 2286.0,1927.4 2287.9,1929.8 2289.7,1931.9 2291.6,1934.3 2293.4,1936.8 2295.3,1939.0 2297.1,1940.9 2298.9,1942.2 2300.8,1942.6 2313.7,1942.6 2315.4,1942.7 2317.1,1943.0 2318.9,1943.3 2320.6,1943.6 2322.4,1943.9 2324.1,1944.2 2325.9,1944.3 2327.6,1943.8 2329.3,1942.5 2331.0,1940.7 2332.8,1938.6 2334.5,1936.5 2336.2,1934.6 2338.1,1932.6 2340.1,1930.5 2342.0,1928.3 2343.9,1926.4 2345.9,1924.9 2347.5,1923.8 2349.1,1922.8 2350.7,1922.0 2352.3,1921.7 2354.1,1921.8 2355.9,1922.2 2357.7,1922.7 2359.5,1923.6 2361.3,1924.8 2363.2,1926.3 2365.0,1928.2 2366.8,1930.4"/>
<polyline class="c" stroke="#008000" stroke-width="5.5" points="1370.2,1983.5 1371.9,1982.9 1373.7,1982.3 1375.5,1981.8 1377.2,1981.3 1379.0,1980.9 1380.8,1980.6 1382.5,1980.4 1384.3,1980.3 1386.1,1980.4 1387.9,1980.4 1389.7,1980.6 1391.5,1980.7 1393.3,1980.9 1395.1,1981.0 1396.8,1981.2 1398.6,1981.3 1400.4,1981.3 1402.3,1981.2 1404.2,1981.0 1406.1,1980.6 1407.9,1980.1 1409.8,1979.6 1411.7,1979.0 1413.6,1978.4 1415.4,1977.9 1417.3,1977.4 1419.2,1976.9 1421.1,1976.6 1423.0,1976.5 1424.9,1976.4 1426.9,1976.3 1428.9,1976.2 1430.9,1976.1 1432.9,1976.1 1434.8,1976.0 1436.8,1976.0 1438.8,1975.9 1440.8,1975.9 1442.8,1975.9 1444.8,1975.8 1446.7,1975.8 1448.7,1975.8 1450.6,1975.8 1452.6,1975.8 1454.5,1975.9 1456.4,1975.9 1458.4,1976.0 1460.3,1976.1 1462.2,1976.2 1464.2,1976.3 1466.1,1976.4 1468.0,1976.5 1470.0,1976.6 1471.9,1976.6 1473.8,1976.7 1475.8,1976.8 1477.7,1976.9 1479.6,1977.0 1481.6,1977.0 1483.5,1977.1 1485.4,1977.1 1487.4,1977.1 1489.1,1977.1 1490.9,1976.9 1492.7,1976.7 1494.5,1976.5 1496.3,1976.2 1498.1,1975.9 1499.9,1975.5 1501.7,1975.2 1503.5,1974.8 1505.4,1974.4 1507.3,1973.8 1509.2,1973.1 1511.2,1972.4 1513.1,1971.7 1515.0,1971.2 1517.0,1970.8 1518.9,1970.7 1520.8,1970.9 1522.6,1971.5 1524.5,1972.3 1526.3,1973.3 1528.2,1974.4 1530.1,1975.4 1531.9,1976.3 1533.8,1976.9 1535.7,1977.1 1537.4,1977.1 1539.2,1976.9 1541.0,1976.7 1542.8,1976.5 1544.6,1976.2 1546.4,1975.9 1548.2,1975.5 1550.0,1975.2 1551.7,1974.8 1553.7,1974.4 1555.6,1973.7 1557.5,1972.9 1559.5,1972.1 1561.4,1971.3 1563.3,1970.6 1565.3,1970.2 1567.2,1970.0 1569.1,1970.4 1570.9,1971.4 1572.8,1972.9 1574.6,1974.7 1576.5,1976.6 1578.4,1978.4 1580.2,1979.9 1582.1,1980.9 1583.9,1981.3 1585.9,1981.2 1587.8,1981.1 1589.7,1980.9 1591.7,1980.7 1593.6,1980.5 1595.5,1980.2 1597.5,1980.0 1599.4,1979.8 1601.3,1979.7 1603.3,1979.7 1605.1,1979.7 1606.8,1979.9 1608.6,1980.1 1610.4,1980.3 1612.2,1980.6 1614.0,1980.9 1615.8,1981.1 1617.6,1981.2 1619.4,1981.3 1621.2,1980.7 1623.1,1979.2 1625.0,1977.3 1626.9,1975.3 1628.8,1973.8 1630.6,1973.2 1632.4,1973.6 1634.3,1974.8 1636.1,1976.4 1637.9,1978.4 1639.7,1980.5 1641.5,1982.6 1643.3,1984.5 1645.1,1986.1 1647.0,1987.6 1648.9,1989.2 1650.8,1990.7 1652.6,1992.0 1654.5,1992.9 1656.4,1993.2 1658.4,1992.9 1660.3,1992.1 1662.3,1991.0 1664.3,1989.6 1666.2,1988.0 1668.2,1986.5 1670.2,1985.0 1672.1,1983.8 1674.1,1982.9 1676.0,1982.2 1678.0,1981.5 1679.9,1980.9 1681.8,1980.2 1683.8,1979.6 1685.7,1979.1 1687.6,1978.7 1689.6,1978.3 1691.5,1978.1 1693.4,1978.1 1695.4,1978.1 1697.3,1978.2 1699.2,1978.3 1701.1,1978.4 1703.1,1978.5 1705.0,1978.7 1706.9,1979.0 1708.9,1979.2 1710.8,1979.4 1712.7,1979.7 1714.5,1980.0 1716.3,1980.5 1718.1,1981.1 1719.9,1981.8 1721.7,1982.5 1723.5,1983.1 1725.3,1983.7 1727.1,1984.2 1728.8,1984.5 1730.7,1984.7 1732.6,1984.9 1734.5,1985.0 1736.4,1985.1 1738.2,1985.3 1740.1,1985.3 1742.0,1985.4 1743.9,1985.5 1745.7,1985.7 1747.6,1985.8 1749.5,1985.9 1751.4,1986.1 1753.3,1986.4 1755.2,1986.7 1757.2,1987.1 1759.1,1987.6 1761.0,1988.2 1763.0,1988.7 1764.9,1989.3 1766.8,1989.9 1768.8,1990.4 1770.7,1991.0 1772.6,1991.4 1774.6,1991.9 1776.5,1992.2 1778.4,1992.4 1780.4,1992.6 1782.3,1992.6 1784.3,1992.7 1786.3,1992.7 1788.2,1992.8 1790.2,1992.9 1792.2,1992.9 1794.1,1992.9 1796.1,1993.0 1798.1,1993.0 1800.0,1993.1 1802.0,1993.1 1804.0,1993.1 1805.9,1993.1 1807.9,1993.2 1809.9,1993.2 1811.8,1993.2 1813.8,1993.2 1815.8,1993.2 1848.0,1993.2 1849.8,1993.1 1851.7,1993.0 1853.6,1992.7 1855.5,1992.4 1857.4,1992.1 1859.2,1991.7 1861.1,1991.4 1863.0,1991.2 1864.9,1991.0 1866.7,1990.9 1868.7,1991.1 1870.6,1991.7 1872.5,1992.4 1874.5,1993.2 1876.4,1994.1 1878.3,1994.9 1880.3,1995.5 1882.2,1995.8 1884.1,1995.9 1886.0,1996.0 1887.9,1996.1 1889.8,1996.2 1891.7,1996.3 1893.6,1996.3 1895.5,1996.4 1897.4,1996.5 1899.2,1996.5 1901.1,1996.6 1903.0,1996.6 1904.9,1996.7 1906.8,1996.7 1908.7,1996.7 1910.6,1996.7 1912.5,1996.7 1914.4,1996.7 2043.2,1996.7 2045.2,1996.7 2047.2,1996.7 2049.1,1996.7 2051.1,1996.7 2053.1,1996.7 2055.1,1996.7 2057.1,1996.7 2059.1,1996.7 2061.1,1996.7 2063.0,1996.7 2065.0,1996.7 2067.0,1996.7 2069.0,1996.7 2071.0,1996.7 2073.0,1996.7 2074.9,1996.7 2076.9,1996.6 2078.9,1996.6 2080.9,1996.6 2082.9,1996.6 2084.9,1996.6 2086.9,1996.6 2088.8,1996.5 2090.8,1996.5 2092.8,1996.5 2094.8,1996.5 2096.8,1996.5 2098.8,1996.4 2100.7,1996.4 2102.7,1996.4 2104.7,1996.4 2106.7,1996.3 2108.7,1996.3 2110.7,1996.3 2112.7,1996.3 2114.6,1996.2 2116.6,1996.2 2118.6,1996.2 2120.6,1996.1 2122.6,1996.1 2124.6,1996.1 2126.6,1996.0 2128.5,1996.0 2130.5,1995.9 2132.5,1995.9 2134.5,1995.9 2136.5,1995.8 2138.5,1995.8 2140.4,1995.7 2142.4,1995.7 2144.4,1995.6 2146.4,1995.6 2148.4,1995.5 2150.4,1995.5 2152.4,1995.4 2154.3,1995.4 2156.3,1995.3 2158.3,1995.2 2160.3,1995.2 2162.3,1995.1 2164.3,1995.0 2166.2,1995.0 2168.2,1994.9 2170.2,1994.8 2172.2,1994.8 2174.2,1994.7 2176.2,1994.6 2178.2,1994.6 2180.1,1994.5 2182.1,1994.4 2184.1,1994.3 2186.1,1994.2 2188.1,1994.2 2189.9,1994.0 2191.7,1993.8 2193.4,1993.5 2195.2,1993.1 2197.0,1992.7 2198.8,1992.2 2200.6,1991.8 2202.4,1991.3 2204.2,1990.9 2206.1,1990.5 2207.9,1990.0 2209.8,1989.5 2211.7,1989.1 2213.6,1988.8 2215.4,1988.7 2217.4,1988.7 2219.3,1988.9 2221.2,1989.1 2223.1,1989.4 2225.0,1989.7 2226.9,1990.0 2228.8,1990.3 2230.7,1990.5 2232.6,1990.7 2234.5,1990.9 2236.4,1990.9 2238.2,1990.8 2240.1,1990.4 2241.9,1989.8 2243.7,1989.0 2245.6,1988.1 2247.4,1987.1 2249.3,1986.1 2251.1,1984.8 2252.9,1983.1 2254.8,1981.0 2256.6,1978.9 2258.5,1976.7 2260.3,1974.8 2262.1,1973.2 2263.9,1971.9 2265.8,1970.5 2267.6,1969.2 2269.4,1967.9 2271.2,1966.8 2273.0,1966.0 2274.8,1965.4 2276.6,1965.2 2278.5,1965.4 2280.4,1966.0 2282.3,1966.8 2284.1,1967.7 2286.0,1968.6 2287.9,1969.4 2289.7,1970.0 2291.6,1970.7 2293.4,1971.4 2295.3,1972.1 2297.1,1972.6 2298.9,1973.0 2300.8,1973.2 2302.8,1973.3 2304.7,1973.4 2306.7,1973.5 2308.7,1973.6 2310.7,1973.6 2312.7,1973.7 2314.6,1973.7 2316.6,1973.8 2318.6,1973.8 2320.6,1973.8 2322.6,1973.9 2324.6,1973.9 2326.5,1973.9 2328.4,1973.7 2330.2,1973.2 2332.1,1972.6 2333.9,1971.8 2335.7,1970.9 2337.6,1970.1 2339.4,1969.4 2341.2,1968.7 2342.9,1967.9 2344.7,1967.1 2346.4,1966.4 2348.2,1965.8 2349.9,1965.3 2351.6,1965.2 2353.5,1965.3 2355.4,1965.5 2357.3,1965.9 2359.2,1966.5 2361.1,1967.3 2363.0,1968.2 2364.9,1969.3 2366.8,1970.7"/>
</g>
<path class="f" d="M1353.5,1998.8H1369.0M1361.0,1914.4H1369.0M1353.5,1830.0H1369.0M1361.0,1745.6H1369.0M1353.5,1661.2H1369.0M1361.0,1576.8H1369.0M1353.5,1492.4H1369.0M1361.0,1408.0H1369.0M1353.5,1323.6H1369.0M1361.0,1239.2H1369.0M1353.5,1154.8H1369.0M1369.0,1998.8V2013.3M1493.7,1998.8V2006.3M1618.4,1998.8V2013.3M1743.1,1998.8V2006.3M1867.8,1998.8V2013.3M1992.4,1998.8V2006.3M2117.1,1998.8V2013.3M2241.8,1998.8V2006.3M2366.5,1998.8V2013.3"/>
<text class="tk" x="1341.5" y="2019.3" text-anchor="end">0</text>
<text class="tk" x="1341.5" y="1850.5" text-anchor="end">6</text>
<text class="tk" x="1341.5" y="1681.7" text-anchor="end">12</text>
<text class="tk" x="1341.5" y="1512.9" text-anchor="end">18</text>
<text class="tk" x="1341.5" y="1344.1" text-anchor="end">24</text>
<text class="tk" x="1341.5" y="1175.3" text-anchor="end">30</text>
<text class="tt" x="1363.7" y="1115.2">GeAs/Ti<tspan class="sub" dy="23.5">3</tspan><tspan dy="-23.5">C</tspan><tspan class="sub" dy="23.5">2</tspan><tspan dy="-23.5">O</tspan><tspan class="sub" dy="23.5">2</tspan></text>
</g>
<g id="p5">
<clipPath id="clip4"><rect x="230.7" y="2198.9" width="998.5" height="848.9000000000001"/></clipPath>
<rect class="f" x="230.7" y="2198.9" width="997.5" height="844.9000000000001"/>
<line x1="729.0" y1="3058.3" x2="729.0" y2="2198.9" stroke="#111" stroke-width="6.2" stroke-dasharray="52.0 26.7 37.5 26.7 37.5 26.7 37.5 26.7 37.5 26.7 37.5 26.7 37.5 26.7 37.5 26.7 37.5 26.7 37.5 26.7 37.5 26.7 37.5 26.7 37.5 26.7 37.5 26.7"/>
<g clip-path="url(#clip4)">
<polyline class="c" stroke="#000000" stroke-width="5.8" points="230.2,2565.1 230.7,2539.9 231.3,2516.4 231.9,2494.6 232.5,2474.5 233.0,2455.9 233.6,2438.9 234.2,2423.4 234.8,2409.4 235.4,2396.8 235.9,2385.5 236.5,2375.5 237.1,2366.8 237.7,2359.3 238.3,2353.0 238.8,2347.7 239.4,2343.6 240.0,2340.4 240.6,2338.2 241.2,2336.9 241.7,2336.5 242.3,2339.1 242.9,2346.6 243.5,2358.3 244.1,2373.8 244.6,2392.6 245.2,2414.0 245.8,2437.7 246.4,2462.9 247.0,2489.2 247.5,2516.0 248.1,2542.8 248.7,2569.1 249.3,2594.4 249.9,2618.0 250.4,2639.4 251.0,2658.2 251.6,2673.7 252.2,2685.5 252.8,2692.9 253.3,2695.5 253.9,2693.2 254.5,2686.5 255.1,2676.0 255.6,2662.2 256.2,2645.6 256.8,2626.7 257.4,2606.0 257.9,2584.0 258.5,2561.3 259.1,2538.3 259.7,2515.6 260.2,2493.6 260.8,2472.9 261.4,2454.0 262.0,2437.4 262.6,2423.6 263.1,2413.1 263.7,2406.5 264.3,2404.1 264.8,2408.1 265.4,2419.3 266.0,2436.7 266.5,2459.3 267.1,2486.0 267.7,2515.9 268.2,2547.8 268.8,2580.7 269.4,2613.7 269.9,2645.6 270.5,2675.4 271.0,2702.1 271.6,2724.7 272.2,2742.2 272.7,2753.4 273.3,2757.3 273.9,2750.6 274.4,2731.8 275.0,2702.9 275.6,2665.9 276.2,2622.9 276.7,2575.9 277.3,2526.8 277.9,2477.7 278.5,2430.7 279.0,2387.7 279.6,2350.7 280.2,2321.8 280.8,2303.0 281.3,2296.3 281.9,2301.0 282.5,2314.5 283.1,2335.6 283.6,2363.1 284.2,2395.8 284.8,2432.6 285.3,2472.3 285.9,2513.8 286.5,2555.9 287.0,2597.3 287.6,2637.1 288.2,2673.9 288.7,2706.6 289.3,2734.1 289.9,2755.2 290.4,2768.7 291.0,2773.4 291.6,2771.8 292.2,2767.0 292.7,2759.2 293.3,2748.8 293.9,2735.8 294.5,2720.6 295.1,2703.3 295.6,2684.1 296.2,2663.3 296.8,2641.1 297.4,2617.7 298.0,2593.4 298.5,2568.2 299.1,2542.5 299.7,2516.5 300.3,2490.4 300.9,2464.4 301.4,2438.8 302.0,2413.7 302.6,2389.3 303.2,2365.9 303.8,2343.8 304.3,2323.0 304.9,2303.9 305.5,2286.6 306.1,2269.4 306.7,2250.7 307.2,2231.4 307.8,2212.2 308.4,2193.8 309.0,2177.1 309.6,2162.7 310.1,2151.6 310.7,2144.3 311.3,2141.7 311.9,2148.0 312.5,2165.3 313.1,2191.5 313.7,2224.3 314.2,2261.6 314.8,2301.1 315.4,2340.6 316.0,2377.8 316.6,2410.7 317.2,2436.9 317.8,2454.2 318.4,2460.5 319.0,2457.1 319.5,2447.7 320.1,2433.7 320.7,2416.4 321.3,2397.2 321.9,2377.3 322.5,2358.0 323.1,2340.7 323.6,2326.7 324.2,2317.4 324.8,2314.0 325.4,2316.0 326.0,2322.0 326.6,2331.5 327.2,2344.0 327.7,2359.3 328.3,2377.0 328.9,2396.6 329.5,2417.7 330.1,2440.0 330.7,2463.1 331.3,2486.5 331.8,2510.0 332.4,2533.1 333.0,2555.4 333.6,2576.5 334.2,2596.1 334.8,2613.7 335.4,2629.0 335.9,2641.6 336.5,2651.1 337.1,2657.1 337.7,2659.1 338.3,2657.6 338.9,2653.3 339.5,2646.5 340.1,2637.2 340.7,2625.9 341.3,2612.7 341.9,2597.8 342.4,2581.6 343.0,2564.1 343.6,2545.8 344.2,2526.7 344.8,2507.1 345.4,2487.3 346.0,2467.6 346.6,2448.0 347.2,2428.9 347.8,2410.6 348.4,2393.1 349.0,2376.9 349.6,2362.0 350.2,2348.8 350.8,2337.5 351.4,2328.2 352.0,2321.4 352.6,2317.1 353.1,2315.6 353.7,2318.6 354.3,2327.2 354.9,2340.4 355.5,2357.4 356.0,2377.3 356.6,2399.4 357.2,2422.8 357.8,2446.6 358.4,2470.0 358.9,2492.1 359.5,2512.0 360.1,2529.1 360.7,2542.3 361.3,2550.8 361.8,2553.8 362.4,2550.9 363.0,2542.6 363.6,2529.5 364.1,2512.4 364.7,2491.9 365.3,2468.7 365.8,2443.5 366.4,2416.9 367.0,2389.6 367.6,2362.4 368.1,2335.8 368.7,2310.6 369.3,2287.4 369.9,2266.9 370.4,2249.7 371.0,2236.7 371.6,2228.3 372.1,2225.4 372.7,2231.7 373.3,2249.0 373.8,2275.2 374.4,2308.1 375.0,2345.3 375.5,2384.8 376.1,2424.3 376.7,2461.5 377.2,2494.4 377.8,2520.6 378.3,2537.9 378.9,2544.2 379.5,2537.2 380.0,2517.9 380.6,2488.8 381.1,2452.4 381.7,2411.0 382.2,2367.3 382.8,2323.5 383.4,2282.4 383.9,2246.2 384.5,2217.5 385.0,2198.7 385.7,2182.8 386.4,2167.8 387.1,2154.2 387.8,2142.5 388.5,2133.5 389.2,2127.7 389.9,2125.6 390.7,2128.0 391.5,2134.6 392.3,2144.5 393.2,2156.8 394.0,2170.5 394.8,2184.8 395.7,2198.7 396.2,2209.8 396.7,2224.2 397.3,2239.5 397.8,2253.4 398.3,2263.4 398.9,2267.3 399.4,2263.6 399.9,2254.1 400.5,2240.8 401.0,2225.8 401.6,2211.0 402.1,2198.7 402.7,2186.1 403.2,2172.8 403.8,2162.1 404.3,2157.8 404.9,2166.7 405.5,2191.2 406.0,2228.2 406.6,2274.7 407.2,2327.4 407.7,2383.2 408.3,2439.0 408.9,2491.7 409.4,2538.1 410.0,2575.2 410.5,2599.7 411.1,2608.6 411.7,2600.0 412.2,2576.6 412.8,2541.6 413.3,2498.3 413.9,2450.0 414.4,2400.1 415.0,2351.8 415.6,2308.5 416.1,2273.5 416.7,2250.1 417.2,2241.5 417.8,2245.3 418.4,2256.1 419.0,2272.9 419.6,2295.0 420.2,2321.5 420.8,2351.5 421.4,2384.0 421.9,2418.3 422.5,2453.5 423.1,2488.7 423.7,2523.1 424.3,2555.6 424.9,2585.6 425.5,2612.1 426.1,2634.2 426.7,2651.0 427.3,2661.8 427.8,2665.6 428.4,2657.7 429.0,2635.8 429.6,2602.3 430.2,2559.8 430.8,2510.9 431.4,2458.0 432.0,2403.6 432.6,2350.4 433.2,2300.7 433.8,2257.2 434.3,2222.4 434.9,2198.7 435.4,2184.4 435.9,2171.2 436.4,2161.5 436.9,2157.8 437.4,2162.6 438.0,2175.4 438.6,2193.5 439.1,2214.1 439.7,2234.8 440.2,2252.9 440.8,2265.7 441.4,2270.5 442.2,2267.0 443.1,2257.8 443.9,2244.6 444.8,2229.1 445.7,2213.3 446.5,2198.7 447.2,2187.6 447.8,2174.6 448.5,2160.4 449.1,2145.3 449.7,2130.0 450.4,2115.0 451.0,2100.8 451.7,2088.0 452.3,2077.1 453.0,2068.6 453.6,2063.1 454.3,2061.2 454.9,2062.9 455.5,2067.6 456.1,2075.1 456.7,2084.8 457.3,2096.5 458.0,2109.7 458.6,2124.0 459.2,2139.0 459.8,2154.4 460.4,2169.7 461.0,2184.6 461.7,2198.7 462.2,2211.7 462.8,2225.3 463.4,2239.5 464.0,2254.3 464.5,2269.5 465.1,2285.1 465.7,2301.1 466.3,2317.2 466.8,2333.6 467.4,2350.0 468.0,2366.5 468.6,2382.9 469.1,2399.3 469.7,2415.4 470.3,2432.5 470.9,2451.1 471.5,2470.9 472.0,2491.7 472.6,2513.3 473.2,2535.5 473.8,2558.0 474.4,2580.7 475.0,2603.3 475.6,2625.5 476.1,2647.3 476.7,2668.3 477.3,2688.4 477.9,2707.3 478.5,2724.8 479.1,2740.6 479.7,2754.7 480.2,2766.6 480.8,2776.3 481.4,2783.5 482.0,2788.0 482.6,2789.5 483.2,2786.7 483.8,2778.4 484.3,2765.2 484.9,2747.8 485.5,2726.6 486.1,2702.1 486.7,2675.0 487.3,2645.6 487.9,2614.7 488.4,2582.7 489.0,2550.1 489.6,2517.6 490.2,2485.6 490.8,2454.6 491.4,2425.3 492.0,2398.2 492.5,2373.7 493.1,2352.5 493.7,2335.0 494.3,2321.9 494.9,2313.6 495.5,2310.7 496.1,2314.8 496.7,2326.2 497.2,2344.3 497.8,2368.0 498.4,2396.6 499.0,2429.1 499.6,2464.7 500.2,2502.5 500.8,2541.6 501.4,2581.2 502.0,2620.3 502.6,2658.1 503.2,2693.7 503.8,2726.2 504.4,2754.8 505.0,2778.5 505.5,2796.6 506.1,2808.0 506.7,2812.1 507.3,2807.4 507.9,2794.2 508.5,2773.6 509.0,2746.5 509.6,2714.0 510.2,2677.3 510.7,2637.4 511.3,2595.4 511.9,2552.2 512.5,2509.1 513.0,2467.0 513.6,2427.1 514.2,2390.4 514.7,2358.0 515.3,2330.9 515.9,2310.2 516.5,2297.0 517.0,2292.4 517.6,2295.2 518.2,2303.0 518.8,2315.4 519.4,2331.6 520.0,2350.9 520.6,2372.9 521.2,2396.7 521.8,2421.8 522.3,2447.6 522.9,2473.3 523.5,2498.5 524.1,2522.3 524.7,2544.2 525.3,2563.6 525.9,2579.8 526.5,2592.1 527.1,2600.0 527.7,2602.8 528.7,2598.2 529.7,2586.4 530.7,2570.2 531.7,2552.6 532.7,2536.4 533.7,2524.6 534.7,2520.0 535.3,2522.6 535.9,2530.0 536.5,2541.7 537.1,2557.3 537.7,2576.1 538.2,2597.7 538.8,2621.6 539.4,2647.3 540.0,2674.3 540.6,2702.0 541.2,2729.9 541.7,2757.7 542.3,2784.6 542.9,2810.3 543.5,2834.2 544.1,2855.8 544.7,2874.6 545.2,2890.2 545.8,2901.9 546.4,2909.3 547.0,2911.9 547.6,2910.3 548.2,2905.7 548.8,2898.3 549.4,2888.4 550.0,2876.0 550.5,2861.6 551.1,2845.1 551.7,2827.0 552.3,2807.3 552.9,2786.3 553.5,2764.2 554.1,2741.3 554.7,2717.7 555.3,2693.6 555.9,2669.3 556.5,2645.0 557.1,2620.9 557.7,2597.2 558.3,2574.1 558.9,2551.8 559.5,2530.6 560.1,2510.6 560.7,2492.1 561.2,2475.3 561.8,2460.4 562.4,2447.6 563.2,2432.0 563.9,2415.9 564.7,2400.8 565.4,2388.1 566.2,2379.3 566.9,2376.1 567.5,2378.2 568.1,2384.2 568.6,2393.4 569.2,2405.4 569.8,2419.6 570.3,2435.4 570.9,2452.3 571.5,2469.8 572.0,2487.3 572.6,2504.2 573.1,2520.0 573.7,2534.2 574.3,2546.2 574.8,2555.4 575.4,2561.4 576.0,2563.5 576.5,2560.5 577.1,2552.1 577.7,2539.7 578.3,2524.3 578.9,2507.2 579.5,2489.4 580.1,2472.3 580.6,2456.9 581.2,2444.5 581.8,2436.1 582.4,2433.1 583.0,2438.4 583.5,2453.2 584.1,2475.9 584.7,2504.9 585.3,2538.7 585.8,2575.7 586.4,2614.2 587.0,2652.8 587.6,2689.7 588.1,2723.5 588.7,2752.6 589.3,2775.3 589.9,2790.0 590.4,2795.3 591.0,2788.6 591.6,2769.6 592.1,2740.1 592.7,2701.7 593.3,2656.4 593.8,2605.8 594.4,2551.7 595.0,2495.9 595.5,2440.0 596.1,2385.9 596.6,2335.3 597.2,2290.0 597.8,2251.7 598.3,2222.2 598.9,2203.2 599.5,2196.4 600.1,2198.0 600.8,2202.4 601.4,2209.3 602.0,2218.5 602.7,2229.5 603.3,2242.2 604.0,2256.2 604.6,2271.2 605.3,2286.8 605.9,2302.8 606.5,2318.8 607.1,2333.8 607.6,2351.7 608.2,2372.0 608.7,2394.2 609.2,2417.6 609.8,2441.6 610.3,2465.8 610.8,2489.4 611.4,2512.0 612.0,2537.9 612.6,2567.0 613.1,2598.3 613.7,2630.7 614.3,2663.2 614.9,2694.7 615.5,2724.2 616.1,2750.7 616.7,2773.1 617.3,2790.4 617.9,2801.5 618.4,2805.5 619.0,2802.1 619.5,2793.1 620.1,2780.0 620.6,2764.5 621.2,2748.2 621.7,2732.7 622.3,2719.7 622.8,2710.7 623.4,2707.3 624.0,2711.3 624.5,2722.3 625.1,2738.7 625.7,2758.8 626.3,2781.0 626.9,2803.8 627.5,2825.4 628.1,2844.3 628.7,2858.9 629.5,2875.0 630.3,2891.5 631.1,2907.8 631.9,2923.8 632.7,2939.0 633.5,2953.2 634.3,2966.1 635.1,2977.4 635.9,2986.7 636.7,2993.7 637.5,2998.2 638.3,2999.7 638.9,2995.0 639.5,2982.0 640.1,2962.6 640.7,2938.7 641.3,2912.1 641.9,2884.7 642.5,2858.4 643.0,2834.9 643.6,2816.2 644.2,2799.9 644.8,2783.0 645.4,2766.0 646.0,2749.7 646.6,2734.8 647.2,2721.7 647.8,2711.3 648.4,2704.2 649.0,2700.9 650.4,2699.1 651.8,2698.2 653.2,2696.6 654.7,2690.3 656.1,2681.1 657.5,2676.3 658.1,2679.1 658.7,2686.6 659.3,2697.6 659.9,2711.0 660.5,2725.7 661.1,2740.5 661.7,2754.1 662.3,2765.5 662.8,2773.5 664.4,2786.2 666.1,2795.1 667.7,2803.9 669.3,2816.2 670.0,2824.2 670.7,2834.4 671.4,2846.2 672.1,2859.1 672.8,2872.7 673.5,2886.4 674.2,2899.6 674.9,2912.0 675.7,2922.9 676.6,2937.6 677.6,2953.4 678.6,2969.1 679.6,2983.5 680.5,2995.3 681.5,3003.2 682.5,3006.1 683.2,3003.3 683.8,2995.5 684.5,2984.0 685.1,2970.0 685.8,2954.5 686.5,2938.7 687.1,2923.9 687.8,2911.1 688.5,2901.5 689.7,2888.8 691.0,2878.5 692.3,2869.3 693.6,2859.7 694.9,2848.2 695.7,2839.0 696.6,2828.8 697.4,2817.8 698.3,2806.4 699.1,2794.8 699.8,2783.9 700.6,2771.3 701.3,2758.4 702.0,2746.5 702.7,2736.8 703.4,2730.8 705.2,2722.5 707.0,2716.9 708.7,2713.7 710.3,2712.4 711.9,2711.7 713.5,2710.9 715.1,2709.4 716.2,2703.8 717.3,2692.3 718.3,2678.6 719.4,2666.7 720.8,2652.9 722.1,2638.2 723.4,2626.6 724.8,2621.9 725.3,2625.1 725.9,2634.2 726.5,2648.4 727.1,2666.8 727.7,2688.7 728.3,2713.3 728.9,2739.7 729.5,2767.1 730.1,2794.8 730.7,2821.9 731.3,2847.6 731.8,2874.3 732.3,2906.8 732.9,2940.8 733.4,2971.9 734.0,2996.0 734.5,3008.6 736.1,3022.3 737.7,3030.7 739.3,3034.3 741.2,3035.7 743.0,3036.8 744.8,3037.7 746.7,3038.4 748.5,3038.8 750.4,3039.1 752.2,3039.2 754.0,3039.0 755.8,3038.7 757.6,3038.1 759.4,3037.6 761.3,3037.0 763.1,3036.4 764.9,3036.1 766.7,3035.9 768.7,3036.1 770.6,3036.5 772.6,3037.0 774.6,3037.7 776.5,3038.4 778.5,3039.0 780.5,3039.6 782.4,3040.0 784.4,3040.1 848.8,3040.1 850.7,3039.8 852.7,3039.1 854.6,3038.1 856.5,3037.0 858.5,3035.9 860.1,3035.0 861.7,3033.9 863.3,3032.9 864.9,3032.1 866.5,3031.8 868.3,3031.9 870.1,3032.3 871.9,3032.8 873.7,3033.4 875.6,3034.1 877.4,3034.8 879.2,3035.4 881.0,3035.9 882.8,3036.4 884.6,3036.9 886.4,3037.3 888.1,3037.8 889.9,3038.2 891.7,3038.6 893.5,3038.9 895.3,3039.1 897.1,3039.2 899.0,3039.1 900.8,3039.0 902.7,3038.8 904.6,3038.6 906.5,3038.3 908.4,3038.0 910.2,3037.8 912.1,3037.5 914.0,3037.3 915.9,3037.1 917.8,3037.0 919.6,3036.9 945.4,3036.9 947.4,3036.9 949.3,3037.0 951.3,3037.1 953.3,3037.2 955.3,3037.3 957.3,3037.5 959.3,3037.6 961.2,3037.8 963.2,3037.9 965.2,3038.0 967.2,3038.1 969.2,3038.2 971.1,3038.2 973.0,3038.2 974.9,3038.2 976.8,3038.1 978.7,3038.1 980.5,3038.0 982.4,3038.0 984.3,3037.9 986.2,3037.8 988.0,3037.7 989.9,3037.7 991.8,3037.6 993.7,3037.6 995.6,3037.5 997.4,3037.4 999.3,3037.4 1001.2,3037.3 1003.1,3037.2 1005.0,3037.2 1006.8,3037.1 1008.7,3037.0 1010.6,3037.0 1012.5,3036.9 1014.3,3036.9 1016.2,3036.9 1018.2,3037.1 1020.1,3037.7 1022.0,3038.4 1024.0,3038.9 1025.9,3039.2 1027.8,3039.2 1029.7,3039.2 1031.7,3039.1 1033.6,3039.1 1035.5,3039.1 1037.5,3039.0 1039.4,3039.0 1041.3,3038.9 1043.3,3038.8 1045.2,3038.8 1047.1,3038.7 1049.1,3038.6 1051.0,3038.5 1052.9,3038.3 1054.9,3038.2 1056.5,3037.9 1058.1,3037.4 1059.7,3036.6 1061.3,3035.6 1062.9,3034.3 1064.8,3028.4 1066.8,3016.7 1068.7,3003.3 1070.6,2992.2 1072.6,2987.6 1074.4,2990.4 1076.2,2997.5 1078.1,3007.3 1079.9,3017.9 1081.8,3027.7 1083.6,3034.8 1085.4,3037.6 1087.1,3035.1 1088.7,3028.6 1090.3,3019.3 1091.9,3008.6 1092.7,3000.5 1093.5,2988.9 1094.3,2975.4 1095.1,2962.2 1095.9,2951.2 1096.7,2944.2 1098.3,2937.9 1099.9,2933.8 1101.5,2928.1 1102.6,2920.2 1103.7,2908.1 1104.8,2893.4 1105.9,2877.8 1107.0,2862.8 1108.1,2850.1 1109.2,2841.2 1110.2,2837.9 1111.4,2840.4 1112.5,2847.2 1113.7,2857.7 1114.8,2871.1 1116.0,2886.7 1117.1,2903.8 1118.3,2921.6 1119.4,2939.5 1120.6,2956.5 1121.7,2972.2 1122.9,2985.6 1124.0,2996.1 1125.2,3002.9 1126.3,3005.4 1127.3,3001.8 1128.3,2992.4 1129.3,2978.6 1130.3,2962.4 1131.3,2945.3 1132.4,2929.0 1133.4,2915.3 1134.4,2905.9 1135.4,2902.3 1137.0,2904.8 1138.6,2909.5 1140.2,2912.0 1141.2,2908.1 1142.2,2897.9 1143.2,2883.5 1144.2,2866.9 1145.2,2850.4 1146.2,2835.9 1147.2,2825.7 1148.2,2821.8 1149.3,2826.6 1150.4,2838.5 1151.5,2854.0 1152.5,2869.5 1153.6,2881.5 1154.7,2886.2 1155.2,2879.8 1155.8,2862.4 1156.4,2836.8 1156.9,2805.9 1157.5,2772.5 1158.1,2739.3 1158.6,2709.1 1159.2,2680.7 1159.7,2650.2 1160.3,2619.3 1160.8,2589.7 1161.4,2562.9 1161.8,2541.8 1162.3,2521.4 1162.7,2503.4 1163.2,2489.7 1163.8,2475.2 1164.4,2463.5 1165.0,2458.6 1165.7,2464.2 1166.4,2476.9 1167.1,2490.5 1167.8,2498.9 1169.6,2505.7 1171.4,2509.6 1173.3,2515.3 1174.5,2521.9 1175.7,2531.4 1176.9,2544.6 1177.5,2554.4 1178.0,2568.8 1178.6,2585.5 1179.1,2602.5 1179.7,2617.7 1180.2,2633.1 1180.8,2650.1 1181.3,2665.7 1181.9,2677.2 1182.4,2681.7 1183.6,2676.8 1184.8,2664.4 1186.1,2648.3 1187.3,2632.3 1188.5,2619.9 1189.7,2615.0 1190.4,2619.5 1191.2,2630.9 1191.9,2645.8 1192.6,2660.8 1193.4,2672.6 1194.4,2686.3 1195.5,2700.3 1196.6,2713.5 1197.6,2724.4 1198.7,2732.0 1199.8,2734.7 1201.0,2729.5 1202.2,2716.5 1203.4,2699.5 1204.6,2682.6 1205.9,2669.6 1207.1,2664.3 1208.0,2669.3 1208.9,2681.2 1209.8,2695.9 1210.7,2709.1 1211.7,2722.2 1212.6,2736.6 1213.5,2748.2 1214.4,2753.0 1215.3,2749.0 1216.2,2738.5 1217.1,2724.3 1218.1,2709.1 1218.6,2699.7 1219.1,2688.5 1219.6,2675.9 1220.1,2662.2 1220.7,2647.7 1221.2,2632.8 1221.7,2617.7 1222.3,2601.2 1222.8,2583.4 1223.4,2564.7 1223.9,2545.5 1224.5,2526.3 1225.0,2506.9 1225.6,2487.2 1226.1,2467.1 1226.7,2446.6 1227.2,2425.7"/>
<polyline class="c" stroke="#ff0000" stroke-width="5.8" points="230.3,3023.2 232.1,3018.4 233.9,3014.7 235.7,3012.2 237.5,3010.5 239.2,3009.6 241.0,3009.3 242.9,3011.5 244.9,3016.5 246.8,3022.5 248.7,3027.5 250.6,3029.6 252.6,3028.7 254.6,3026.2 256.6,3022.9 258.5,3019.3 260.5,3015.9 262.5,3013.5 264.5,3012.5 266.2,3014.5 267.9,3019.3 269.6,3025.0 271.3,3029.8 273.0,3031.8 274.7,3027.8 276.4,3018.2 278.2,3006.9 279.9,2997.3 281.6,2993.3 283.3,2997.1 285.0,3006.1 286.7,3016.8 288.4,3025.8 290.1,3029.6 292.1,3028.1 294.1,3023.9 296.1,3017.8 298.0,3010.3 300.0,3002.3 302.0,2994.2 304.0,2986.9 305.8,2979.0 307.7,2969.9 309.6,2962.3 311.5,2959.2 312.8,2964.7 314.1,2977.2 315.5,2990.3 316.8,2997.6 318.4,2999.8 320.0,3001.2 321.6,3002.4 323.2,3004.0 325.0,3007.2 326.9,3011.7 328.7,3016.8 330.5,3021.9 332.3,3026.4 334.2,3029.5 336.0,3030.7 337.7,3029.8 339.4,3027.6 341.1,3025.0 342.8,3022.5 344.5,3021.1 346.2,3020.4 348.0,3019.8 349.7,3019.4 351.4,3019.1 353.1,3018.9 354.8,3019.6 356.5,3021.2 358.2,3023.1 359.9,3024.7 361.6,3025.4 363.3,3022.7 365.0,3016.3 366.7,3008.8 368.4,3002.4 370.2,2999.7 371.9,3001.4 373.7,3004.5 375.5,3006.1 377.3,3004.6 379.1,3000.6 380.8,2995.5 382.6,2990.3 384.4,2986.4 386.2,2984.8 387.9,2985.2 389.6,2986.3 391.3,2987.6 393.0,2988.6 394.7,2989.1 396.6,2986.1 398.4,2979.5 400.3,2972.9 402.2,2969.9 404.0,2973.8 405.7,2983.7 407.5,2996.5 409.3,3009.4 411.1,3019.3 412.8,3023.2 414.3,3019.9 415.7,3013.7 417.1,3010.4 419.0,3013.4 420.9,3020.0 422.7,3026.6 424.6,3029.6 426.6,3027.4 428.6,3021.6 430.5,3013.7 432.5,3005.0 434.5,2997.1 436.5,2991.3 438.5,2989.1 439.9,2989.6 441.3,2990.6 442.7,2991.2 444.5,2988.8 446.3,2982.9 448.1,2975.2 449.8,2967.5 451.6,2961.6 453.4,2959.2 455.2,2961.3 457.1,2967.0 458.9,2974.9 460.7,2984.0 462.6,2993.0 464.4,3000.8 466.2,3006.1 468.0,3009.3 469.7,3011.8 471.5,3014.0 473.2,3016.3 475.0,3018.9 476.6,3022.5 478.2,3026.7 479.8,3030.3 481.4,3031.8 483.4,3030.9 485.4,3028.8 487.4,3025.9 489.3,3022.7 491.3,3019.8 493.3,3017.6 495.3,3016.8 497.2,3017.9 499.2,3020.7 501.1,3024.3 503.1,3027.9 505.1,3030.7 507.0,3031.8 508.8,3030.5 510.6,3027.3 512.4,3023.2 514.1,3019.1 515.9,3015.9 517.7,3014.7 519.5,3015.7 521.3,3018.2 523.0,3021.6 524.8,3025.1 526.6,3028.0 528.4,3029.6 530.1,3030.2 531.8,3030.6 533.5,3030.9 535.2,3031.3 536.9,3031.8 538.6,3032.6 540.3,3033.7 542.0,3034.8 543.7,3035.7 545.4,3036.0 547.2,3035.4 549.0,3033.7 550.8,3031.2 552.6,3028.5 554.3,3025.7 556.1,3023.2 558.0,3020.5 560.0,3017.4 561.9,3014.5 563.8,3012.3 565.7,3011.5 567.6,3012.6 569.5,3015.2 571.3,3017.8 573.2,3018.9 574.9,3018.6 576.6,3017.8 578.3,3016.9 580.0,3016.1 581.7,3015.7 583.4,3017.9 585.1,3022.9 586.9,3028.9 588.6,3033.9 590.3,3036.0 592.0,3034.5 593.7,3030.9 595.4,3026.3 597.1,3021.9 598.8,3018.9 600.5,3017.1 602.2,3015.4 603.9,3013.9 605.6,3012.9 607.3,3012.5 608.9,3015.4 610.6,3021.8 612.2,3028.4 613.8,3031.8 615.5,3032.3 617.3,3032.7 619.1,3033.0 620.9,3033.2 622.6,3033.5 624.4,3033.9 626.3,3034.5 628.1,3035.4 629.9,3036.5 631.7,3037.5 633.6,3038.4 635.4,3039.0 637.2,3039.2 639.2,3039.1 641.1,3038.8 643.0,3038.3 644.9,3037.7 646.8,3037.1 648.8,3036.5 650.7,3035.9 652.6,3035.4 654.5,3035.1 656.4,3035.0 658.4,3035.1 660.3,3035.4 662.3,3035.9 664.2,3036.6 666.1,3037.3 668.1,3038.0 670.0,3038.7 672.0,3039.3 673.9,3039.8 675.9,3040.2 677.8,3040.3 679.7,3040.2 681.7,3040.1 683.6,3039.8 685.6,3039.4 687.5,3039.0 689.4,3038.5 691.4,3038.0 693.3,3037.5 695.3,3037.0 697.2,3036.5 699.1,3036.0 701.1,3035.6 703.0,3035.1 705.0,3034.6 706.9,3034.0 708.8,3033.5 710.8,3033.0 712.7,3032.4 714.7,3031.9 716.6,3031.5 718.5,3031.1 720.5,3030.7 722.4,3030.3 724.3,3030.0 726.2,3029.7 728.2,3029.6 729.7,3033.0 731.3,3039.3 732.9,3042.7 734.9,3042.8 736.8,3042.9 738.8,3043.0 740.8,3043.1 742.8,3043.1 744.8,3043.2 746.7,3043.3 748.7,3043.3 750.7,3043.4 752.7,3043.4 754.7,3043.5 756.7,3043.5 758.6,3043.5 760.6,3043.5 762.6,3043.6 764.6,3043.6 766.6,3043.6 768.5,3043.6 770.5,3043.6 772.5,3043.6 774.5,3043.7 776.5,3043.7 778.5,3043.7 780.4,3043.7 782.4,3043.7 784.4,3043.7 913.2,3043.7 915.2,3043.7 917.1,3043.7 919.1,3043.7 921.1,3043.7 923.1,3043.7 925.0,3043.7 927.0,3043.7 929.0,3043.7 931.0,3043.7 932.9,3043.7 934.9,3043.7 936.9,3043.7 938.9,3043.7 940.8,3043.7 942.8,3043.7 944.8,3043.7 946.8,3043.6 948.7,3043.6 950.7,3043.6 952.7,3043.6 954.7,3043.6 956.6,3043.6 958.6,3043.6 960.6,3043.6 962.6,3043.6 964.5,3043.6 966.5,3043.6 968.5,3043.6 970.5,3043.6 972.4,3043.6 974.4,3043.6 976.4,3043.6 978.4,3043.5 980.3,3043.5 982.3,3043.5 984.3,3043.5 986.3,3043.5 988.2,3043.5 990.2,3043.5 992.2,3043.5 994.2,3043.4 996.1,3043.4 998.1,3043.4 1000.1,3043.4 1002.1,3043.4 1004.0,3043.3 1006.0,3043.3 1008.0,3043.3 1010.0,3043.3 1011.9,3043.3 1013.9,3043.2 1015.9,3043.2 1017.9,3043.2 1019.8,3043.2 1021.8,3043.1 1023.8,3043.1 1025.8,3043.1 1027.7,3043.1 1029.7,3043.0 1031.7,3043.0 1033.7,3043.0 1035.6,3042.9 1037.6,3042.9 1039.6,3042.9 1041.6,3042.8 1043.5,3042.8 1045.5,3042.7 1047.5,3042.7 1049.5,3042.7 1051.4,3042.6 1053.4,3042.6 1055.4,3042.5 1057.4,3042.5 1059.3,3042.4 1061.3,3042.4 1062.9,3040.2 1064.5,3035.2 1066.1,3029.3 1067.7,3024.7 1069.3,3021.1 1071.0,3018.0 1072.6,3016.6 1074.2,3019.9 1075.8,3027.1 1077.4,3034.3 1079.0,3037.6 1080.9,3037.5 1082.8,3037.2 1084.6,3036.7 1086.5,3036.1 1088.4,3035.3 1090.3,3034.3 1091.9,3032.1 1093.5,3027.7 1095.1,3021.8 1096.7,3015.2 1098.3,3008.6 1099.9,3001.2 1101.5,2992.6 1103.2,2984.0 1104.8,2976.4 1106.6,2968.0 1108.4,2960.4 1110.2,2957.1 1112.2,2964.4 1114.1,2979.6 1116.0,2992.5 1117.8,2999.9 1119.5,3007.3 1121.2,3014.1 1122.9,3019.6 1124.6,3023.3 1126.3,3024.7 1128.3,3018.1 1130.2,3005.1 1132.1,2995.7 1133.7,2992.4 1135.4,2990.9 1137.0,2992.1 1138.6,2994.4 1140.2,2995.7 1141.8,2990.8 1143.4,2980.1 1145.0,2969.9 1146.9,2958.7 1148.9,2952.2 1150.3,2958.5 1151.7,2970.1 1153.1,2976.4 1154.1,2971.2 1155.2,2958.9 1156.3,2944.2 1156.8,2935.3 1157.4,2923.9 1157.9,2911.2 1158.4,2898.8 1159.0,2887.8 1159.5,2879.8 1160.8,2865.3 1162.1,2852.1 1163.4,2841.4 1164.7,2834.1 1165.9,2831.5 1167.6,2832.3 1169.2,2834.7 1170.8,2838.2 1172.4,2842.6 1174.0,2847.6 1175.6,2856.1 1177.2,2868.3 1178.8,2879.8 1180.4,2890.7 1182.0,2901.0 1183.7,2905.5 1185.3,2904.0 1186.9,2900.7 1188.5,2897.4 1190.1,2895.9 1191.7,2898.6 1193.3,2905.1 1194.9,2912.6 1196.5,2918.4 1198.1,2922.3 1199.8,2925.8 1201.4,2928.8 1203.0,2931.3 1204.6,2933.1 1206.2,2934.5 1207.8,2935.9 1209.4,2937.7 1211.0,2941.2 1212.6,2945.4 1214.2,2947.4 1215.9,2945.6 1217.5,2940.9 1219.1,2934.6 1220.7,2928.1 1222.3,2921.1 1223.9,2912.7 1225.5,2903.1 1227.1,2892.7"/>
<polyline class="c" stroke="#0000ff" stroke-width="5.8" points="230.3,2864.0 230.9,2834.2 231.5,2806.2 232.1,2780.0 232.7,2755.5 233.3,2732.8 233.9,2711.8 234.5,2692.4 235.1,2674.7 235.7,2658.7 236.3,2644.3 236.9,2631.5 237.5,2620.3 238.1,2610.6 238.7,2602.5 239.3,2595.9 239.9,2590.8 240.5,2587.2 241.1,2585.0 241.7,2584.3 242.2,2586.9 242.8,2594.2 243.4,2605.4 244.0,2620.1 244.6,2637.4 245.2,2656.7 245.8,2677.3 246.3,2698.6 246.9,2720.0 247.5,2740.6 248.1,2759.9 248.7,2777.2 249.3,2791.9 249.9,2803.1 250.5,2810.4 251.0,2813.0 251.6,2809.7 252.2,2800.5 252.8,2786.8 253.4,2769.5 254.0,2749.9 254.6,2729.2 255.2,2708.4 255.7,2688.8 256.3,2671.6 256.9,2657.8 257.5,2648.7 258.1,2645.4 258.9,2647.1 259.7,2651.8 260.5,2659.4 261.3,2669.4 262.1,2681.4 262.9,2695.2 263.7,2710.3 264.5,2726.5 265.3,2743.4 266.1,2760.7 266.9,2777.9 267.7,2794.8 268.5,2811.0 269.3,2826.1 270.1,2839.9 270.9,2852.0 271.7,2861.9 272.5,2869.5 273.3,2874.3 274.1,2875.9 274.7,2870.7 275.2,2856.1 275.8,2833.9 276.3,2805.8 276.9,2773.4 277.4,2738.4 278.0,2702.6 278.6,2667.7 279.1,2635.3 279.7,2607.1 280.2,2584.9 280.8,2570.4 281.4,2565.1 281.9,2568.7 282.5,2578.9 283.1,2594.6 283.7,2614.8 284.3,2638.5 284.9,2664.8 285.4,2692.5 286.0,2720.8 286.6,2748.5 287.2,2774.8 287.8,2798.5 288.4,2818.7 288.9,2834.4 289.5,2844.6 290.1,2848.2 290.9,2845.1 291.6,2836.5 292.3,2824.0 293.1,2808.6 293.8,2791.7 294.6,2774.7 295.3,2758.8 296.1,2745.3 296.8,2735.5 297.6,2730.8 299.2,2728.0 300.8,2726.5 302.4,2725.0 304.0,2722.2 304.6,2718.4 305.2,2710.4 305.8,2699.0 306.4,2685.0 307.0,2669.2 307.6,2652.2 308.2,2635.1 308.8,2618.4 309.4,2603.0 310.1,2589.6 310.7,2579.1 311.3,2572.3 311.9,2569.8 312.5,2572.7 313.0,2580.5 313.6,2592.2 314.2,2606.6 314.8,2622.8 315.4,2639.4 316.0,2655.5 316.5,2670.0 317.1,2681.7 317.7,2689.5 318.3,2692.3 319.1,2689.2 319.9,2680.6 320.7,2668.0 321.5,2652.7 322.3,2636.0 323.2,2619.3 324.0,2604.0 324.8,2591.4 325.6,2582.8 326.4,2579.6 327.1,2581.4 327.7,2586.4 328.4,2594.2 329.1,2604.5 329.8,2616.9 330.4,2631.0 331.1,2646.4 331.8,2662.8 332.5,2679.7 333.1,2696.9 333.8,2713.8 334.5,2730.2 335.2,2745.6 335.8,2759.7 336.5,2772.1 337.2,2782.4 337.9,2790.2 338.5,2795.2 339.2,2796.9 339.8,2795.5 340.4,2791.2 340.9,2784.5 341.5,2775.5 342.1,2764.4 342.7,2751.7 343.3,2737.3 343.8,2721.8 344.4,2705.2 345.0,2687.9 345.6,2670.1 346.1,2652.0 346.7,2633.9 347.3,2616.1 347.9,2598.8 348.5,2582.2 349.0,2566.7 349.6,2552.4 350.2,2539.6 350.8,2528.5 351.3,2519.5 351.9,2512.8 352.5,2508.5 353.1,2507.1 353.7,2509.2 354.4,2515.2 355.0,2524.6 355.6,2536.7 356.3,2551.0 356.9,2567.0 357.6,2584.2 358.2,2601.8 358.8,2619.5 359.5,2636.6 360.1,2652.7 360.8,2667.0 361.4,2679.1 362.0,2688.5 362.7,2694.5 363.3,2696.6 363.9,2693.2 364.5,2683.7 365.1,2668.9 365.7,2649.8 366.2,2627.4 366.8,2602.7 367.4,2576.5 368.0,2549.9 368.6,2523.7 369.2,2499.0 369.7,2476.6 370.3,2457.5 370.9,2442.8 371.5,2433.2 372.1,2429.8 372.6,2436.1 373.2,2453.5 373.7,2479.8 374.3,2512.8 374.8,2550.2 375.4,2589.9 375.9,2629.5 376.5,2667.0 377.0,2700.0 377.6,2726.3 378.1,2743.7 378.7,2750.0 379.3,2747.2 379.9,2739.2 380.4,2726.6 381.0,2710.2 381.6,2690.5 382.2,2668.2 382.8,2644.0 383.3,2618.5 383.9,2592.3 384.5,2566.2 385.1,2540.7 385.7,2516.4 386.2,2494.2 386.8,2474.5 387.4,2458.1 388.0,2445.5 388.6,2437.5 389.2,2434.7 389.7,2439.1 390.3,2451.1 390.8,2469.3 391.4,2492.1 391.9,2518.0 392.5,2545.4 393.0,2572.8 393.6,2598.7 394.1,2621.5 394.7,2639.7 395.2,2651.7 395.8,2656.1 396.4,2652.1 396.9,2641.6 397.5,2626.7 398.1,2609.7 398.7,2592.7 399.3,2577.9 399.9,2567.4 400.5,2563.4 401.0,2565.7 401.6,2572.3 402.2,2582.6 402.7,2596.1 403.3,2612.3 403.9,2630.6 404.5,2650.5 405.0,2671.5 405.6,2693.0 406.2,2714.5 406.7,2735.5 407.3,2755.4 407.9,2773.7 408.4,2789.9 409.0,2803.4 409.6,2813.7 410.1,2820.3 410.7,2822.6 411.3,2814.8 411.9,2793.7 412.5,2762.0 413.0,2722.9 413.6,2679.3 414.2,2634.3 414.8,2590.7 415.4,2551.6 416.0,2519.9 416.5,2498.8 417.1,2491.1 417.7,2493.4 418.3,2500.0 418.9,2510.4 419.5,2524.2 420.1,2540.8 420.6,2559.9 421.2,2580.8 421.8,2603.2 422.4,2626.6 423.0,2650.4 423.6,2674.2 424.2,2697.6 424.7,2720.0 425.3,2740.9 425.9,2760.0 426.5,2776.6 427.1,2790.4 427.7,2800.8 428.3,2807.4 428.9,2809.8 429.4,2807.2 430.0,2800.0 430.6,2788.8 431.1,2774.4 431.7,2757.6 432.3,2738.9 432.8,2719.2 433.4,2699.1 434.0,2679.3 434.6,2660.6 435.1,2643.8 435.7,2629.4 436.3,2618.2 436.8,2611.0 437.4,2608.5 438.5,2614.5 439.5,2629.0 440.6,2646.2 441.7,2660.7 442.7,2666.7 444.1,2662.9 445.5,2652.6 446.8,2638.2 448.2,2621.6 449.5,2605.0 450.9,2590.5 452.3,2580.3 453.6,2576.4 454.5,2577.8 455.4,2581.7 456.2,2587.9 457.1,2596.2 458.0,2606.3 458.8,2617.9 459.7,2630.7 460.6,2644.6 461.4,2659.3 462.3,2674.4 463.2,2689.9 464.0,2705.3 464.9,2720.5 465.8,2735.1 466.6,2749.0 467.5,2761.9 468.3,2773.5 469.3,2786.6 470.3,2800.9 471.3,2815.9 472.3,2831.5 473.3,2847.1 474.3,2862.6 475.3,2877.5 476.3,2891.4 477.3,2904.2 478.3,2915.4 479.3,2924.7 480.3,2931.8 481.3,2936.3 482.3,2937.8 482.8,2935.7 483.4,2929.6 484.0,2919.9 484.6,2907.0 485.1,2891.3 485.7,2873.1 486.3,2852.8 486.9,2830.8 487.4,2807.4 488.0,2783.2 488.6,2758.3 489.2,2733.3 489.7,2708.5 490.3,2684.2 490.9,2660.9 491.5,2638.9 492.0,2618.6 492.6,2600.4 493.2,2584.6 493.8,2571.7 494.3,2562.0 494.9,2555.9 495.5,2553.8 496.1,2556.3 496.6,2563.3 497.2,2574.4 497.8,2589.1 498.4,2606.8 499.0,2627.1 499.5,2649.4 500.1,2673.2 500.7,2698.1 501.3,2723.4 501.8,2748.8 502.4,2773.6 503.0,2797.4 503.6,2819.7 504.1,2840.0 504.7,2857.7 505.3,2872.4 505.9,2883.5 506.4,2890.5 507.0,2893.0 507.6,2891.0 508.2,2885.4 508.8,2876.4 509.4,2864.6 510.0,2850.3 510.5,2834.0 511.1,2816.0 511.7,2796.8 512.3,2776.8 512.9,2756.4 513.5,2736.0 514.1,2715.9 514.7,2696.8 515.2,2678.8 515.8,2662.5 516.4,2648.2 517.0,2636.4 517.6,2627.4 518.2,2621.8 518.8,2619.8 519.5,2622.8 520.3,2631.1 521.0,2643.3 521.7,2658.1 522.5,2674.2 523.2,2690.3 524.0,2705.1 524.7,2717.3 525.5,2725.6 526.2,2728.6 527.9,2722.6 529.6,2708.3 531.4,2691.3 533.1,2677.0 534.8,2671.0 535.3,2672.5 535.9,2676.7 536.5,2683.5 537.1,2692.5 537.7,2703.6 538.2,2716.4 538.8,2730.7 539.4,2746.3 540.0,2762.9 540.6,2780.2 541.1,2798.1 541.7,2816.2 542.3,2834.3 542.9,2852.1 543.4,2869.5 544.0,2886.0 544.6,2901.6 545.2,2916.0 545.8,2928.8 546.3,2939.8 546.9,2948.8 547.5,2955.6 548.1,2959.8 548.6,2961.3 549.7,2959.6 550.8,2954.6 551.8,2946.9 552.9,2936.9 554.0,2925.0 555.0,2911.6 556.1,2897.1 557.2,2882.1 558.3,2866.8 559.3,2851.8 560.4,2837.5 561.1,2826.8 561.8,2813.9 562.5,2799.4 563.3,2783.9 564.0,2768.3 564.7,2753.2 565.4,2739.3 566.1,2727.3 566.8,2717.8 567.6,2711.6 568.3,2709.4 569.0,2712.0 569.8,2719.2 570.6,2730.1 571.3,2743.7 572.1,2759.2 572.9,2775.6 573.6,2792.0 574.4,2807.5 575.2,2821.1 575.9,2832.0 576.7,2839.2 577.5,2841.8 578.3,2840.3 579.2,2836.1 580.1,2829.4 580.9,2820.4 581.8,2809.5 582.7,2796.8 583.6,2782.6 584.4,2767.1 585.3,2750.7 586.2,2733.5 587.1,2715.7 587.9,2697.8 588.8,2679.8 589.7,2662.1 590.5,2644.9 591.4,2628.5 592.3,2613.0 593.2,2598.8 594.0,2586.1 594.9,2575.1 595.8,2566.2 596.6,2559.5 597.5,2555.3 598.4,2553.8 599.0,2555.2 599.5,2559.1 600.1,2565.3 600.7,2573.8 601.3,2584.3 601.9,2596.6 602.5,2610.6 603.1,2626.0 603.6,2642.8 604.2,2660.6 604.8,2679.3 605.4,2698.8 606.0,2718.8 606.6,2739.1 607.1,2759.7 607.7,2780.3 608.3,2800.6 608.9,2820.6 609.5,2840.1 610.1,2858.8 610.6,2876.6 611.2,2893.4 611.8,2908.8 612.4,2922.8 613.0,2935.1 613.6,2945.6 614.1,2954.1 614.7,2960.3 615.3,2964.2 615.9,2965.6 616.5,2962.8 617.2,2955.1 617.9,2943.6 618.5,2929.1 619.2,2912.6 619.8,2895.1 620.5,2877.7 621.2,2861.2 621.8,2846.7 622.5,2835.1 623.1,2827.5 623.8,2824.7 624.6,2826.8 625.5,2832.9 626.3,2842.2 627.1,2854.4 628.0,2868.8 628.8,2884.8 629.7,2902.0 630.5,2919.7 631.3,2937.4 632.2,2954.6 633.0,2970.6 633.9,2985.0 634.7,2997.1 635.6,3006.5 636.4,3012.5 637.2,3014.7 638.0,3012.0 638.8,3004.8 639.6,2994.1 640.4,2980.8 641.2,2966.0 642.0,2950.7 642.8,2936.0 643.6,2922.9 644.4,2910.2 645.2,2895.9 645.9,2881.0 646.7,2866.8 647.4,2854.4 648.2,2844.9 649.0,2839.6 650.8,2833.4 652.7,2828.7 654.6,2825.7 656.4,2824.7 657.3,2827.0 658.2,2833.3 659.1,2842.9 660.0,2855.2 660.9,2869.5 661.8,2885.1 662.7,2901.2 663.6,2917.1 664.4,2932.2 665.3,2945.8 666.2,2957.2 667.1,2965.6 669.1,2980.5 671.1,2995.0 673.1,3008.4 675.0,3020.0 677.0,3029.0 679.0,3035.0 681.0,3037.1 682.9,3036.4 684.7,3034.7 686.6,3032.3 688.5,3029.6 690.2,3026.6 691.9,3022.6 693.6,3017.5 695.3,3011.4 697.0,3004.0 698.3,2995.7 699.6,2984.0 700.8,2970.4 702.1,2956.6 703.4,2944.2 704.6,2932.6 705.8,2919.9 707.0,2908.2 708.2,2899.6 709.4,2896.2 710.8,2901.9 712.1,2915.4 713.5,2931.5 714.8,2945.0 716.2,2950.6 717.8,2944.6 719.4,2931.4 721.0,2918.2 722.6,2912.2 723.5,2915.9 724.3,2925.4 725.2,2938.4 726.0,2952.6 726.9,2965.6 727.6,2976.8 728.3,2989.9 729.0,3003.3 729.7,3015.4 730.4,3024.7 731.2,3029.6 732.8,3034.1 734.4,3037.5 736.1,3040.0 737.7,3041.5 739.3,3042.1 741.3,3042.2 743.2,3042.3 745.2,3042.3 747.2,3042.4 749.1,3042.5 751.1,3042.6 753.0,3042.6 755.0,3042.7 757.0,3042.7 758.9,3042.8 760.9,3042.8 762.8,3042.9 764.8,3042.9 766.8,3042.9 768.7,3043.0 770.7,3043.0 772.6,3043.0 774.6,3043.0 776.6,3043.0 778.5,3043.0 780.5,3043.0 782.4,3043.0 784.4,3043.0 913.2,3043.0 1042.0,3043.0 1043.9,3043.0 1045.8,3043.0 1047.8,3043.0 1049.7,3043.0 1051.6,3042.9 1053.6,3042.9 1055.5,3042.8 1057.4,3042.8 1059.4,3042.7 1061.3,3042.6 1063.2,3042.5 1065.2,3042.4 1067.1,3042.3 1069.0,3042.1 1071.0,3041.9 1072.9,3041.7 1074.8,3041.5 1076.8,3041.3 1078.7,3041.1 1080.6,3040.8 1082.6,3040.5 1084.5,3040.2 1086.4,3039.9 1088.3,3039.5 1090.3,3039.2 1091.9,3037.4 1093.5,3033.7 1095.1,3029.0 1096.7,3024.7 1098.3,3020.7 1099.9,3016.4 1101.5,3012.3 1103.2,3008.6 1104.9,3004.5 1106.7,3000.3 1108.5,2997.0 1110.2,2995.7 1112.0,2997.9 1113.8,3003.2 1115.7,3010.0 1117.5,3016.7 1119.3,3021.5 1121.0,3024.8 1122.8,3027.9 1124.6,3030.2 1126.3,3031.1 1128.2,3026.7 1130.0,3017.1 1131.9,3007.1 1133.7,3002.1 1135.4,3001.6 1137.0,3001.4 1138.6,3001.1 1140.2,3000.5 1141.8,2996.7 1143.4,2989.4 1145.0,2982.8 1146.6,2977.3 1148.2,2972.2 1149.8,2969.9 1151.2,2974.1 1152.6,2981.9 1154.0,2986.0 1154.8,2981.9 1155.6,2971.2 1156.3,2956.8 1157.1,2941.5 1157.9,2928.1 1158.5,2917.6 1159.2,2906.4 1159.8,2895.6 1160.5,2886.3 1161.1,2879.8 1162.7,2868.7 1164.3,2860.4 1165.9,2857.2 1167.6,2857.7 1169.2,2859.0 1170.8,2861.0 1172.4,2863.7 1174.0,2866.9 1175.6,2874.6 1177.2,2886.5 1178.8,2895.9 1180.4,2901.9 1182.0,2906.7 1183.7,2908.8 1185.3,2903.7 1186.9,2892.7 1188.5,2881.6 1190.1,2876.6 1192.0,2882.4 1194.0,2896.4 1195.9,2913.1 1197.8,2927.1 1199.8,2932.9 1201.4,2928.4 1203.0,2917.6 1204.6,2904.7 1206.2,2894.0 1207.8,2889.4 1209.4,2893.8 1211.0,2904.2 1212.6,2916.6 1214.2,2926.9 1215.9,2931.3 1217.5,2925.7 1219.1,2912.3 1220.7,2895.9 1221.3,2888.3 1222.0,2879.0 1222.6,2868.6 1223.3,2858.0 1223.9,2847.6 1224.5,2837.5 1225.2,2827.4 1225.8,2817.1 1226.5,2806.6 1227.1,2796.1"/>
<polyline class="c" stroke="#ff00ff" stroke-width="5.8" points="230.3,2933.6 232.1,2908.8 233.8,2889.5 235.6,2875.0 237.3,2864.7 239.0,2858.1 240.8,2854.6 242.5,2853.5 243.5,2856.6 244.6,2864.8 245.6,2877.0 246.6,2891.8 247.6,2907.9 248.7,2924.1 249.7,2938.9 250.7,2951.1 251.7,2959.3 252.8,2962.4 253.7,2959.8 254.6,2952.8 255.5,2942.0 256.4,2928.4 257.3,2912.7 258.2,2895.8 259.1,2878.5 260.0,2861.6 260.9,2845.9 261.8,2832.2 262.7,2821.5 263.6,2814.4 264.5,2811.9 265.3,2814.3 266.0,2821.1 266.8,2831.4 267.6,2844.4 268.3,2859.4 269.1,2875.6 269.9,2892.2 270.7,2908.4 271.4,2923.4 272.2,2936.5 273.0,2946.8 273.8,2953.6 274.5,2956.0 275.2,2952.4 275.9,2942.9 276.7,2929.1 277.4,2912.8 278.1,2895.6 278.8,2879.3 279.5,2865.5 280.2,2856.0 280.9,2852.4 281.8,2855.1 282.6,2862.3 283.5,2873.1 284.3,2886.8 285.2,2902.2 286.1,2918.6 286.9,2935.0 287.8,2950.5 288.6,2964.1 289.5,2975.0 290.3,2982.2 291.2,2984.8 292.0,2983.4 292.8,2979.3 293.7,2972.9 294.5,2964.2 295.3,2953.7 296.1,2941.4 297.0,2927.7 297.8,2912.8 298.6,2897.0 299.4,2880.4 300.3,2863.3 301.1,2846.0 301.9,2828.7 302.8,2811.7 303.6,2795.1 304.4,2779.2 305.2,2764.3 306.1,2750.7 306.9,2738.4 307.7,2727.8 308.5,2719.2 309.4,2712.8 310.2,2708.7 311.0,2707.3 311.6,2709.8 312.2,2716.8 312.7,2727.5 313.3,2741.1 313.8,2757.1 314.4,2774.5 315.0,2792.7 315.5,2810.8 316.1,2828.3 316.7,2844.2 317.2,2857.9 317.8,2868.6 318.4,2875.6 318.9,2878.1 320.8,2870.9 322.8,2857.5 324.7,2850.3 326.2,2854.1 327.8,2864.0 329.3,2878.0 330.9,2894.1 332.4,2910.1 334.0,2924.2 335.5,2934.1 337.1,2937.8 339.0,2935.5 340.8,2929.8 342.7,2922.4 344.6,2914.9 346.5,2909.2 348.4,2906.9 350.4,2908.7 352.3,2913.6 354.3,2920.4 356.3,2928.2 358.3,2936.1 360.2,2942.9 362.2,2947.7 364.2,2949.6 365.9,2948.4 367.6,2945.2 369.3,2940.4 371.0,2934.4 372.7,2927.7 374.4,2920.8 376.0,2912.9 377.6,2901.5 378.3,2894.9 378.9,2885.6 379.5,2874.2 380.1,2860.9 380.8,2846.2 381.4,2830.4 382.0,2814.0 382.6,2797.3 383.3,2780.8 383.9,2764.7 384.5,2749.5 385.2,2735.6 385.8,2723.4 386.4,2713.2 387.0,2705.4 387.7,2700.5 388.3,2698.8 390.2,2705.1 392.0,2719.0 393.9,2733.0 395.8,2739.3 397.4,2732.6 399.0,2718.0 400.6,2703.3 402.2,2696.6 402.8,2700.4 403.3,2710.8 403.9,2726.6 404.5,2746.7 405.0,2769.9 405.6,2794.8 406.2,2820.4 406.8,2845.4 407.3,2868.5 407.9,2888.6 408.5,2904.5 409.1,2914.9 409.6,2918.6 410.6,2913.7 411.6,2901.5 412.6,2885.5 413.6,2869.6 414.6,2857.3 415.6,2852.4 417.4,2857.0 419.2,2868.7 421.0,2884.8 422.8,2902.3 424.6,2918.3 426.4,2930.1 428.2,2934.6 428.8,2932.8 429.4,2927.4 429.9,2919.0 430.5,2908.0 431.1,2894.9 431.7,2880.0 432.2,2863.8 432.8,2846.7 433.4,2829.2 434.0,2811.7 434.5,2794.6 435.1,2778.3 435.7,2763.4 436.2,2750.2 436.8,2739.2 437.4,2730.8 438.5,2719.9 439.5,2711.5 440.6,2703.2 441.7,2692.3 442.2,2684.2 442.8,2673.8 443.4,2661.5 444.0,2647.5 444.6,2632.2 445.1,2615.7 445.7,2598.4 446.3,2580.4 446.9,2562.1 447.5,2543.8 448.0,2525.7 448.6,2508.0 449.2,2491.1 449.8,2475.1 450.4,2460.4 450.9,2447.3 451.5,2435.9 452.1,2426.6 452.7,2419.7 453.3,2415.3 453.8,2413.8 454.4,2415.0 455.0,2418.4 455.6,2423.9 456.2,2431.2 456.8,2440.3 457.4,2450.8 458.0,2462.7 458.6,2475.7 459.1,2489.7 459.7,2504.5 460.3,2519.9 460.9,2535.7 461.5,2551.7 462.1,2567.8 462.7,2583.8 463.3,2599.5 463.9,2614.6 464.4,2629.1 465.0,2642.8 465.6,2655.4 466.2,2666.7 466.9,2679.5 467.6,2691.8 468.3,2703.9 469.1,2715.7 469.8,2727.4 470.5,2738.9 471.2,2750.4 471.9,2761.9 472.6,2773.5 473.4,2786.1 474.1,2799.5 474.8,2813.2 475.6,2826.9 476.3,2840.2 477.1,2852.5 477.8,2863.6 478.5,2873.0 479.3,2880.2 481.0,2894.4 482.8,2905.6 484.6,2910.1 486.6,2906.2 488.5,2896.5 490.5,2883.9 492.4,2871.3 494.4,2861.7 496.3,2857.8 497.5,2861.2 498.6,2870.2 499.8,2883.2 500.9,2898.7 502.0,2915.0 503.2,2930.5 504.3,2943.6 505.5,2952.6 506.6,2956.0 507.2,2953.9 507.8,2948.0 508.5,2938.8 509.1,2927.0 509.7,2912.9 510.4,2897.2 511.0,2880.4 511.6,2863.1 512.2,2845.8 512.9,2829.0 513.5,2813.3 514.1,2799.3 514.7,2787.4 515.4,2778.2 516.0,2772.3 516.6,2770.3 517.3,2772.2 518.1,2777.6 518.8,2786.1 519.5,2797.2 520.2,2810.3 520.9,2825.2 521.6,2841.2 522.4,2857.9 523.1,2874.8 523.8,2891.5 524.5,2907.5 525.2,2922.3 525.9,2935.5 526.6,2946.5 527.4,2955.0 528.1,2960.5 528.8,2962.4 530.4,2957.8 532.0,2947.0 533.7,2934.0 535.3,2923.2 536.9,2918.6 538.3,2923.4 539.8,2935.5 541.2,2951.2 542.6,2966.8 544.0,2978.9 545.4,2983.7 546.6,2981.9 547.7,2976.7 548.8,2968.5 549.9,2957.7 551.1,2944.8 552.2,2930.0 553.3,2913.9 554.4,2896.8 555.6,2879.0 556.7,2861.1 557.8,2843.4 558.9,2826.2 560.0,2810.1 561.2,2795.3 562.3,2782.4 563.4,2771.6 564.5,2763.4 565.7,2758.2 566.8,2756.4 568.5,2762.6 570.2,2777.4 571.9,2795.1 573.6,2809.9 575.3,2816.2 576.2,2811.8 577.2,2800.5 578.1,2785.1 579.0,2768.3 579.9,2752.8 580.8,2741.6 581.7,2737.2 582.3,2739.8 582.9,2747.1 583.5,2758.5 584.0,2773.2 584.6,2790.6 585.2,2810.1 585.7,2830.9 586.3,2852.4 586.9,2873.9 587.5,2894.8 588.0,2914.2 588.6,2931.7 589.2,2946.4 589.8,2957.8 590.3,2965.1 590.9,2967.7 591.5,2966.5 592.1,2962.9 592.7,2957.1 593.3,2949.4 593.9,2939.8 594.5,2928.6 595.1,2916.0 595.7,2902.1 596.3,2887.1 596.9,2871.3 597.5,2854.6 598.1,2837.5 598.7,2820.0 599.3,2802.3 599.9,2784.6 600.5,2767.1 601.2,2749.9 601.8,2733.3 602.4,2717.4 603.0,2702.4 603.6,2688.5 604.2,2675.9 604.8,2664.7 605.4,2655.2 606.0,2647.4 606.6,2641.7 607.2,2638.1 607.8,2636.8 608.4,2642.1 608.9,2656.7 609.5,2679.1 610.1,2707.7 610.7,2741.1 611.3,2777.6 611.8,2815.6 612.4,2853.7 613.0,2890.2 613.6,2923.5 614.1,2952.2 614.7,2974.6 615.3,2989.2 615.9,2994.4 617.6,2990.1 619.3,2979.7 621.0,2967.4 622.7,2957.1 624.4,2952.8 626.4,2957.0 628.4,2968.0 630.4,2983.0 632.4,2999.4 634.3,3014.4 636.3,3025.4 638.3,3029.6 639.9,3026.3 641.5,3017.3 643.1,3004.4 644.7,2989.0 646.3,2972.9 647.9,2957.5 649.5,2944.6 651.1,2935.7 652.5,2930.8 654.0,2926.8 655.4,2922.9 657.2,2916.4 658.9,2909.8 660.7,2906.9 662.7,2909.5 664.6,2916.6 666.5,2927.1 668.5,2940.2 670.4,2954.8 672.4,2969.9 674.3,2984.5 676.2,2997.6 678.2,3008.2 680.1,3015.3 682.1,3017.9 683.5,3015.1 684.9,3007.7 686.3,2996.5 687.8,2982.7 689.2,2967.4 690.6,2951.6 692.0,2936.4 693.4,2923.0 694.9,2912.2 696.6,2900.6 698.3,2888.7 700.0,2878.0 701.7,2870.3 703.4,2867.4 705.2,2871.3 707.0,2878.5 708.7,2882.3 710.3,2878.3 711.9,2867.8 713.5,2853.0 715.1,2835.9 716.7,2818.9 718.3,2804.0 720.0,2793.5 721.6,2789.5 722.3,2791.2 723.0,2796.1 723.8,2803.6 724.5,2813.5 725.2,2825.3 726.0,2838.6 726.7,2852.9 727.4,2867.8 728.2,2882.9 728.9,2897.7 729.7,2912.0 730.2,2923.6 730.7,2937.6 731.3,2953.1 731.8,2969.3 732.3,2985.0 732.9,2999.3 733.4,3011.3 734.0,3020.1 734.5,3024.7 736.1,3030.4 737.7,3034.9 739.3,3038.2 740.9,3040.1 742.5,3040.8 744.4,3040.7 746.3,3040.7 748.1,3040.6 750.0,3040.4 751.8,3040.2 753.7,3040.1 755.5,3039.9 757.4,3039.7 759.3,3039.5 761.1,3039.4 763.0,3039.3 764.8,3039.2 766.7,3039.2 768.7,3039.3 770.6,3039.5 772.6,3039.9 774.6,3040.4 776.5,3040.9 778.5,3041.3 780.5,3041.7 782.4,3042.0 784.4,3042.1 786.4,3042.1 788.4,3042.1 790.3,3042.1 792.3,3042.1 794.3,3042.1 796.3,3042.1 798.3,3042.1 800.2,3042.1 802.2,3042.1 804.2,3042.1 806.2,3042.1 808.2,3042.0 810.2,3042.0 812.1,3042.0 814.1,3042.0 816.1,3042.0 818.1,3042.0 820.1,3042.0 822.0,3042.0 824.0,3042.0 826.0,3042.0 828.0,3042.0 830.0,3042.0 832.0,3042.0 833.9,3042.0 835.9,3042.0 837.9,3041.9 839.9,3041.9 841.9,3041.9 843.8,3041.9 845.8,3041.9 847.8,3041.9 849.8,3041.9 851.8,3041.8 853.7,3041.8 855.7,3041.8 857.7,3041.8 859.7,3041.8 861.7,3041.7 863.3,3041.2 864.9,3040.0 866.5,3038.7 868.1,3038.2 870.0,3038.4 871.8,3038.9 873.6,3039.6 875.5,3040.3 877.3,3041.0 879.2,3041.5 881.0,3041.7 1066.1,3041.7 1067.7,3039.8 1069.3,3035.6 1071.0,3031.4 1072.6,3029.5 1074.2,3030.5 1075.8,3032.9 1077.4,3035.8 1079.0,3038.2 1080.6,3039.2 1082.5,3039.1 1084.3,3038.7 1086.1,3038.2 1088.0,3037.5 1089.8,3036.6 1091.7,3035.5 1093.5,3034.3 1095.4,3031.6 1097.4,3026.6 1099.3,3020.4 1101.2,3014.1 1103.2,3008.6 1104.9,3003.6 1106.7,2998.4 1108.5,2994.2 1110.2,2992.5 1112.1,2995.2 1113.9,3001.7 1115.8,3009.2 1117.6,3015.0 1119.4,3018.9 1121.1,3022.8 1122.9,3026.2 1124.6,3028.6 1126.3,3029.5 1128.2,3027.0 1130.0,3021.3 1131.9,3015.3 1133.7,3011.8 1135.4,3010.9 1137.0,3010.4 1138.6,3009.9 1140.2,3009.4 1141.8,3008.6 1143.4,3006.5 1145.0,3003.2 1146.6,3000.2 1148.2,2998.9 1149.8,2999.9 1151.5,3002.1 1153.1,3004.3 1154.7,3005.4 1155.9,3000.0 1157.1,2987.3 1158.3,2972.3 1159.5,2960.3 1161.1,2947.6 1162.7,2935.0 1164.3,2925.5 1165.9,2921.6 1167.6,2923.2 1169.2,2927.0 1170.8,2932.2 1172.4,2937.7 1174.0,2944.6 1175.6,2953.0 1177.2,2960.3 1178.8,2966.6 1180.4,2972.7 1182.0,2977.5 1183.7,2979.6 1185.5,2980.0 1187.3,2980.3 1189.2,2980.5 1191.0,2980.7 1192.9,2980.8 1194.7,2981.0 1196.5,2981.2 1198.5,2981.5 1200.4,2981.7 1202.3,2982.0 1204.3,2982.3 1206.2,2982.8 1207.8,2984.1 1209.4,2986.3 1211.0,2988.3 1212.6,2989.3 1214.2,2987.4 1215.9,2982.7 1217.5,2976.5 1219.1,2969.9 1220.7,2963.1 1222.3,2955.0 1223.9,2945.9 1225.5,2935.8 1227.1,2924.9"/>
<polyline class="c" stroke="#008000" stroke-width="5.8" points="230.3,3029.6 232.1,3025.5 233.9,3022.2 235.7,3019.8 237.5,3018.1 239.2,3017.1 241.0,3016.8 242.9,3018.3 244.9,3021.7 246.8,3025.8 248.7,3029.2 250.6,3030.7 252.4,3030.0 254.3,3028.4 256.1,3026.1 257.9,3023.6 259.8,3021.3 261.6,3019.6 263.4,3018.9 265.3,3020.4 267.3,3023.8 269.2,3027.9 271.1,3031.4 273.0,3032.8 275.0,3030.0 277.0,3023.8 279.0,3017.5 280.9,3014.7 282.6,3016.7 284.2,3021.4 285.8,3027.1 287.4,3031.9 289.0,3033.9 290.8,3033.5 292.6,3032.5 294.4,3030.9 296.2,3029.1 297.9,3027.2 299.7,3025.4 301.7,3022.9 303.6,3019.8 305.6,3016.4 307.5,3013.4 309.5,3011.3 311.5,3010.4 313.3,3012.1 315.2,3015.7 317.1,3019.4 318.9,3021.1 320.5,3020.2 322.1,3018.4 323.7,3016.6 325.3,3015.7 327.2,3016.5 329.0,3018.5 330.8,3021.2 332.6,3024.2 334.5,3026.9 336.3,3028.9 338.1,3029.6 340.1,3028.7 342.1,3026.4 344.1,3023.3 346.1,3019.9 348.0,3016.8 350.0,3014.5 352.0,3013.6 354.0,3014.7 355.9,3017.5 357.9,3021.1 359.8,3024.7 361.8,3027.4 363.8,3028.6 365.5,3026.9 367.2,3022.9 368.9,3018.2 370.6,3014.2 372.3,3012.5 373.9,3014.9 375.5,3020.0 377.1,3025.2 378.7,3027.5 380.5,3025.6 382.3,3020.8 384.0,3014.7 385.8,3008.5 387.6,3003.8 389.4,3001.9 391.1,3002.6 392.8,3004.5 394.5,3007.1 396.2,3009.9 397.9,3012.5 399.9,3015.9 401.8,3020.0 403.8,3024.2 405.7,3028.0 407.7,3030.7 409.6,3031.8 411.4,3029.6 413.1,3024.6 414.8,3018.6 416.5,3013.6 418.2,3011.5 420.1,3013.3 422.0,3017.5 423.9,3022.5 425.9,3026.8 427.8,3028.6 429.5,3027.5 431.2,3025.0 432.9,3021.8 434.6,3018.8 436.3,3016.8 438.0,3015.8 439.7,3015.0 441.5,3014.4 443.2,3013.6 444.9,3012.5 446.8,3010.2 448.7,3006.6 450.6,3002.9 452.6,2999.9 454.5,2998.7 456.3,2999.9 458.2,3003.0 460.1,3006.8 461.9,3010.4 463.7,3013.4 465.4,3016.7 467.1,3020.0 468.8,3023.0 470.5,3025.4 472.3,3027.6 474.1,3029.8 475.9,3031.8 477.8,3033.4 479.6,3034.5 481.4,3035.0 483.4,3033.7 485.4,3030.3 487.4,3025.7 489.3,3020.7 491.3,3016.1 493.3,3012.8 495.3,3011.5 497.1,3013.1 498.8,3017.0 500.6,3022.2 502.4,3027.3 504.2,3031.2 506.0,3032.8 507.9,3031.2 509.9,3027.3 511.8,3022.2 513.8,3017.0 515.7,3013.1 517.7,3011.5 519.4,3012.3 521.1,3014.1 522.8,3016.3 524.5,3018.2 526.2,3018.9 534.8,3018.9 536.5,3020.4 538.3,3023.9 540.1,3028.6 541.9,3033.2 543.7,3036.7 545.4,3038.2 547.2,3037.6 549.0,3036.1 550.8,3034.0 552.6,3031.7 554.3,3029.4 556.1,3027.5 557.9,3025.8 559.7,3023.9 561.5,3022.0 563.2,3020.5 565.0,3019.4 566.8,3018.9 568.6,3019.4 570.3,3020.6 572.1,3022.2 573.9,3023.7 575.7,3024.9 577.5,3025.4 579.1,3025.0 580.7,3024.3 582.3,3023.6 583.9,3023.2 585.6,3026.0 587.4,3031.1 589.2,3033.9 590.9,3031.7 592.6,3026.1 594.3,3018.9 596.0,3011.8 597.7,3006.2 599.4,3004.0 601.4,3005.6 603.4,3009.6 605.4,3014.5 607.3,3018.9 609.1,3022.8 610.8,3027.4 612.5,3031.6 614.2,3034.8 615.9,3036.0 617.8,3035.2 619.6,3033.4 621.5,3031.5 623.4,3030.7 625.3,3031.2 627.3,3032.6 629.3,3034.5 631.3,3036.5 633.3,3038.4 635.3,3039.8 637.2,3040.3 639.1,3039.8 641.0,3038.5 642.9,3036.7 644.8,3034.5 646.7,3032.2 648.6,3030.0 650.5,3028.2 652.4,3026.9 654.3,3026.4 656.3,3026.7 658.2,3027.4 660.2,3028.6 662.1,3030.0 664.1,3031.6 666.1,3033.4 668.0,3035.1 670.0,3036.7 671.9,3038.1 673.9,3039.3 675.8,3040.0 677.8,3040.3 679.7,3040.2 681.7,3039.8 683.6,3039.2 685.6,3038.5 687.5,3037.6 689.4,3036.7 691.4,3035.8 693.3,3034.9 695.3,3034.1 697.2,3033.4 699.1,3032.8 701.0,3032.4 702.9,3032.0 704.8,3031.7 706.7,3031.4 708.6,3031.1 710.5,3030.8 712.4,3030.4 714.3,3030.1 716.2,3029.6 718.1,3029.0 720.1,3028.2 722.0,3027.3 723.9,3026.7 725.8,3026.4 727.2,3029.2 728.7,3034.8 730.1,3039.2 731.5,3041.7 732.9,3043.0 734.9,3043.1 736.8,3043.2 738.8,3043.3 740.8,3043.3 742.8,3043.4 744.8,3043.4 746.7,3043.5 748.7,3043.5 750.7,3043.6 752.7,3043.6 754.7,3043.7 756.7,3043.7 758.6,3043.7 760.6,3043.7 762.6,3043.8 764.6,3043.8 766.6,3043.8 768.5,3043.8 770.5,3043.8 772.5,3043.8 774.5,3043.8 776.5,3043.8 778.5,3043.8 780.4,3043.8 782.4,3043.8 784.4,3043.8 913.2,3043.8 915.2,3043.8 917.2,3043.8 919.1,3043.8 921.1,3043.8 923.1,3043.8 925.1,3043.8 927.1,3043.8 929.0,3043.8 931.0,3043.8 933.0,3043.8 935.0,3043.8 937.0,3043.8 938.9,3043.8 940.9,3043.8 942.9,3043.8 944.9,3043.8 946.9,3043.8 948.9,3043.8 950.8,3043.8 952.8,3043.8 954.8,3043.8 956.8,3043.8 958.8,3043.8 960.7,3043.8 962.7,3043.8 964.7,3043.8 966.7,3043.8 968.7,3043.8 970.7,3043.8 972.6,3043.8 974.6,3043.8 976.6,3043.7 978.6,3043.7 980.6,3043.7 982.5,3043.7 984.5,3043.7 986.5,3043.7 988.5,3043.7 990.5,3043.7 992.4,3043.7 994.4,3043.7 996.4,3043.7 998.4,3043.6 1000.4,3043.6 1002.4,3043.6 1004.3,3043.6 1006.3,3043.6 1008.3,3043.6 1010.3,3043.6 1012.3,3043.6 1014.2,3043.5 1016.2,3043.5 1018.2,3043.5 1020.2,3043.5 1022.2,3043.5 1024.1,3043.5 1026.1,3043.4 1028.1,3043.4 1030.1,3043.4 1032.1,3043.4 1034.1,3043.4 1036.0,3043.3 1038.0,3043.3 1040.0,3043.3 1042.0,3043.3 1044.0,3043.2 1045.9,3043.2 1047.9,3043.2 1049.9,3043.2 1051.9,3043.1 1053.9,3043.1 1055.9,3043.1 1057.8,3043.1 1059.8,3043.0 1061.8,3043.0 1063.8,3043.0 1065.8,3042.9 1067.7,3042.9 1069.7,3042.9 1071.7,3042.8 1073.7,3042.8 1075.7,3042.8 1077.6,3042.7 1079.6,3042.7 1081.6,3042.6 1083.6,3042.6 1085.6,3042.6 1087.6,3042.5 1089.5,3042.5 1091.5,3042.4 1093.5,3042.4 1095.4,3041.5 1097.4,3039.3 1099.3,3036.5 1101.2,3033.5 1103.2,3031.1 1104.9,3029.1 1106.7,3027.0 1108.5,3025.3 1110.2,3024.7 1112.2,3025.5 1114.2,3027.5 1116.2,3030.4 1118.2,3033.5 1120.1,3036.3 1122.1,3038.4 1124.1,3039.2 1126.0,3038.4 1128.0,3036.6 1129.9,3034.4 1131.8,3032.3 1133.7,3031.1 1135.4,3030.7 1137.0,3030.4 1138.6,3030.2 1140.2,3029.9 1141.8,3029.5 1143.4,3028.5 1145.0,3026.8 1146.6,3025.3 1148.2,3024.7 1154.7,3024.7 1156.3,3019.8 1157.9,3009.8 1159.5,3002.1 1161.1,2998.0 1162.7,2994.4 1164.3,2991.8 1165.9,2990.9 1167.6,2991.1 1169.2,2991.9 1170.8,2992.9 1172.4,2994.3 1174.0,2995.7 1175.6,2998.2 1177.2,3001.8 1178.8,3005.2 1180.4,3007.0 1182.4,3007.4 1184.3,3007.7 1186.2,3007.9 1188.2,3008.1 1190.1,3008.6 1191.7,3009.9 1193.3,3012.3 1194.9,3015.1 1196.5,3017.3 1198.1,3018.2 1200.1,3017.2 1202.0,3014.8 1203.9,3012.0 1205.9,3009.6 1207.8,3008.6 1209.4,3009.8 1211.0,3012.6 1212.6,3015.4 1214.2,3016.6 1215.9,3015.6 1217.5,3012.8 1219.1,3009.2 1220.7,3005.4 1222.3,3001.2 1223.9,2996.3 1225.5,2990.6 1227.1,2984.4"/>
</g>
<path class="f" d="M215.2,3043.8H230.7M222.7,2959.3H230.7M215.2,2874.8H230.7M222.7,2790.3H230.7M215.2,2705.8H230.7M222.7,2621.4H230.7M215.2,2536.9H230.7M222.7,2452.4H230.7M215.2,2367.9H230.7M222.7,2283.4H230.7M215.2,2198.9H230.7M230.7,3043.8V3058.3M355.4,3043.8V3051.3M480.1,3043.8V3058.3M604.8,3043.8V3051.3M729.5,3043.8V3058.3M854.1,3043.8V3051.3M978.8,3043.8V3058.3M1103.5,3043.8V3051.3M1228.2,3043.8V3058.3"/>
<text class="tk" x="203.2" y="3064.3" text-anchor="end">0</text>
<text class="tk" x="203.2" y="2895.3" text-anchor="end">6</text>
<text class="tk" x="203.2" y="2726.3" text-anchor="end">12</text>
<text class="tk" x="203.2" y="2557.4" text-anchor="end">18</text>
<text class="tk" x="203.2" y="2388.4" text-anchor="end">24</text>
<text class="tk" x="203.2" y="2219.4" text-anchor="end">30</text>
<text class="tk" x="230.7" y="3123.1" text-anchor="middle">-2</text>
<text class="tk" x="480.1" y="3123.1" text-anchor="middle">-1</text>
<text class="tk" x="729.5" y="3123.1" text-anchor="middle">0</text>
<text class="tk" x="978.8" y="3123.1" text-anchor="middle">1</text>
<text class="tk" x="1228.2" y="3123.1" text-anchor="middle">2</text>
<text class="xl" x="730.0" y="3239.3" text-anchor="middle">E - E<tspan class="sub" dy="23">f</tspan><tspan dy="-23"> (eV)</tspan></text>
<text class="yl" transform="translate(82,2585.9) rotate(-90)" text-anchor="middle">PDOS (states/eV)</text>
<text class="tt" x="232.3" y="2156.3">GeAs/V<tspan class="sub" dy="23.5">2</tspan><tspan dy="-23.5">CF</tspan><tspan class="sub" dy="23.5">2</tspan></text>
</g>
<g id="p6">
<clipPath id="clip5"><rect x="1369.0" y="2198.9" width="998.5" height="848.9000000000001"/></clipPath>
<rect class="f" x="1369.0" y="2198.9" width="997.5" height="844.9000000000001"/>
<line x1="1867.2" y1="3058.3" x2="1867.2" y2="2198.9" stroke="#111" stroke-width="6.2" stroke-dasharray="52.0 26.7 37.5 26.7 37.5 26.7 37.5 26.7 37.5 26.7 37.5 26.7 37.5 26.7 37.5 26.7 37.5 26.7 37.5 26.7 37.5 26.7 37.5 26.7 37.5 26.7 37.5 26.7"/>
<g clip-path="url(#clip5)">
<polyline class="c" stroke="#000000" stroke-width="5.8" points="1370.2,2434.7 1371.7,2433.8 1373.2,2431.4 1374.7,2428.3 1376.3,2420.9 1377.9,2410.8 1379.5,2405.7 1381.1,2411.0 1382.7,2422.6 1384.3,2434.3 1385.9,2439.5 1387.5,2436.1 1389.1,2428.3 1390.8,2420.2 1392.4,2415.4 1394.0,2414.2 1395.6,2413.5 1397.2,2412.2 1398.4,2406.1 1399.6,2393.8 1400.8,2379.4 1402.0,2367.1 1403.6,2352.4 1405.2,2338.6 1406.9,2331.7 1408.5,2330.6 1410.1,2330.1 1411.7,2329.6 1413.3,2328.5 1414.1,2322.6 1414.9,2310.3 1415.7,2296.6 1416.5,2286.6 1418.4,2271.8 1420.4,2264.7 1422.2,2264.9 1424.1,2265.7 1425.9,2267.0 1427.8,2268.9 1428.9,2274.9 1429.9,2287.5 1431.0,2302.7 1431.5,2312.0 1432.1,2323.9 1432.6,2337.1 1433.2,2350.1 1433.7,2361.6 1434.2,2370.3 1435.3,2383.8 1436.4,2394.8 1437.4,2399.3 1439.1,2397.7 1440.7,2396.1 1441.8,2401.8 1443.0,2415.3 1444.1,2431.5 1445.3,2445.1 1446.5,2450.8 1448.2,2447.3 1450.0,2439.1 1451.8,2429.4 1453.5,2421.8 1455.2,2417.7 1456.8,2414.6 1458.4,2411.0 1460.0,2405.7 1461.0,2399.2 1462.1,2389.4 1463.1,2378.1 1464.2,2367.1 1465.2,2353.6 1466.3,2339.7 1467.4,2333.3 1468.7,2338.8 1470.0,2351.8 1471.3,2367.1 1471.9,2376.2 1472.6,2387.5 1473.3,2400.0 1474.0,2413.1 1474.7,2425.9 1475.4,2437.7 1476.1,2447.6 1477.2,2460.1 1478.2,2470.9 1479.3,2480.7 1480.4,2490.3 1481.4,2500.5 1482.5,2512.0 1483.3,2522.1 1484.1,2533.4 1484.9,2545.2 1485.7,2556.8 1486.5,2567.4 1487.4,2576.4 1488.4,2586.9 1489.5,2596.2 1490.6,2602.1 1492.2,2606.8 1493.8,2610.2 1495.4,2612.8 1497.0,2615.0 1498.6,2617.2 1500.2,2619.4 1501.8,2621.3 1503.5,2622.6 1505.1,2623.1 1506.9,2618.8 1508.8,2609.4 1510.6,2600.0 1512.5,2595.7 1514.1,2602.0 1515.7,2615.8 1517.3,2629.7 1518.9,2635.9 1520.4,2628.0 1521.9,2613.3 1523.4,2605.4 1525.3,2610.9 1527.1,2623.1 1529.0,2635.2 1530.8,2640.8 1531.8,2637.1 1532.8,2627.8 1533.7,2615.6 1534.7,2602.9 1535.7,2592.5 1537.0,2578.5 1538.4,2565.4 1539.8,2559.6 1540.5,2562.1 1541.1,2568.9 1541.8,2579.1 1542.4,2592.0 1543.1,2606.6 1543.7,2622.2 1544.3,2641.4 1544.8,2667.7 1545.4,2695.4 1546.0,2718.8 1546.6,2740.3 1547.1,2762.8 1547.7,2784.6 1548.3,2804.2 1548.9,2820.1 1549.5,2830.8 1550.1,2834.7 1550.7,2831.6 1551.2,2823.1 1551.7,2810.5 1552.3,2795.1 1552.8,2778.0 1553.4,2760.6 1553.9,2744.1 1554.4,2729.7 1555.0,2718.8 1555.9,2703.4 1556.8,2687.9 1557.7,2673.7 1558.6,2662.0 1559.5,2654.1 1560.4,2651.2 1561.1,2654.7 1561.8,2664.0 1562.5,2677.1 1563.2,2691.9 1563.9,2706.5 1564.6,2718.8 1565.4,2731.9 1566.2,2746.5 1566.9,2759.9 1567.7,2769.7 1568.5,2773.5 1569.8,2767.5 1571.1,2754.2 1572.4,2740.9 1573.6,2734.9 1574.4,2739.9 1575.2,2752.1 1576.0,2767.3 1576.7,2781.2 1577.5,2789.6 1579.1,2796.0 1580.7,2800.1 1582.3,2805.7 1583.5,2813.5 1584.8,2824.2 1586.0,2836.1 1587.2,2847.6 1588.5,2861.1 1589.7,2876.8 1591.0,2891.7 1592.3,2902.8 1593.6,2907.2 1595.5,2907.1 1597.5,2906.7 1599.4,2906.2 1601.3,2905.2 1603.3,2903.9 1603.8,2899.4 1604.3,2888.4 1604.9,2873.5 1605.4,2857.3 1605.9,2842.4 1606.5,2831.5 1607.5,2816.5 1608.4,2802.4 1609.4,2792.1 1610.3,2788.0 1611.2,2792.6 1612.0,2804.2 1612.9,2819.4 1613.7,2835.0 1614.5,2847.6 1615.6,2860.1 1616.7,2872.2 1617.8,2883.5 1618.8,2894.1 1619.9,2903.6 1621.0,2912.0 1622.9,2926.5 1624.8,2940.7 1626.8,2953.1 1628.7,2961.8 1630.6,2965.1 1631.4,2960.9 1632.2,2950.2 1633.0,2935.7 1633.9,2920.0 1634.7,2905.8 1635.5,2895.9 1636.8,2884.7 1638.0,2875.5 1639.3,2871.7 1640.5,2876.5 1641.6,2888.2 1642.8,2903.2 1644.0,2917.7 1645.1,2928.1 1646.9,2939.2 1648.8,2948.4 1650.6,2952.2 1651.3,2949.2 1652.0,2941.2 1652.8,2929.5 1653.5,2915.5 1654.2,2900.5 1654.9,2886.0 1655.7,2873.3 1656.4,2863.7 1657.8,2848.5 1659.2,2835.4 1660.6,2829.9 1661.7,2833.8 1662.8,2843.5 1663.9,2856.3 1665.0,2869.4 1666.1,2879.8 1667.7,2893.0 1669.3,2905.1 1670.9,2910.4 1672.5,2903.7 1674.1,2891.3 1675.7,2884.6 1677.3,2890.8 1678.9,2905.6 1680.5,2923.2 1682.2,2938.0 1683.8,2944.2 1685.7,2937.9 1687.6,2926.3 1689.6,2920.0 1691.5,2921.6 1693.5,2925.5 1695.5,2930.5 1697.5,2935.5 1699.5,2939.4 1701.5,2941.0 1702.2,2937.7 1702.9,2929.2 1703.5,2916.9 1704.2,2902.6 1704.9,2887.8 1705.6,2874.3 1706.3,2863.7 1707.4,2849.0 1708.4,2835.7 1709.5,2829.9 1710.5,2833.9 1711.5,2843.9 1712.4,2856.9 1713.4,2869.8 1714.3,2879.8 1716.0,2890.9 1717.6,2900.4 1719.2,2909.2 1720.8,2918.4 1722.7,2932.1 1724.7,2947.8 1726.6,2962.7 1728.5,2973.7 1730.4,2978.0 1732.1,2975.2 1733.7,2968.2 1735.3,2959.2 1736.9,2950.5 1738.5,2944.2 1740.1,2940.7 1741.7,2938.2 1743.3,2935.9 1744.9,2932.8 1746.5,2928.1 1747.5,2921.0 1748.5,2908.7 1749.4,2894.2 1750.4,2880.4 1751.4,2870.1 1752.8,2859.1 1754.2,2849.8 1755.6,2846.0 1756.7,2850.1 1757.8,2860.3 1758.8,2873.5 1759.9,2886.4 1761.0,2895.9 1762.6,2906.1 1764.3,2914.8 1765.9,2918.4 1767.7,2909.7 1769.5,2893.4 1771.3,2884.6 1772.6,2889.0 1773.9,2900.3 1775.2,2915.7 1776.5,2932.5 1777.8,2947.9 1779.1,2959.1 1780.4,2963.5 1781.6,2959.0 1782.9,2947.2 1784.2,2931.2 1785.5,2913.7 1786.8,2897.7 1788.1,2885.9 1789.4,2881.4 1790.5,2885.3 1791.5,2895.5 1792.6,2909.9 1793.7,2926.5 1794.8,2943.0 1795.9,2957.5 1797.0,2967.7 1798.1,2971.5 1799.0,2968.4 1799.9,2960.0 1800.8,2948.0 1801.7,2933.9 1802.7,2919.5 1803.6,2906.3 1804.5,2895.9 1805.7,2883.9 1806.9,2871.8 1808.1,2862.6 1809.3,2858.9 1811.1,2863.5 1812.9,2874.7 1814.7,2888.1 1816.5,2899.2 1818.3,2903.9 1819.4,2899.3 1820.5,2887.9 1821.6,2873.1 1822.7,2858.5 1823.8,2847.6 1825.4,2835.3 1827.0,2824.7 1828.7,2820.2 1830.3,2822.4 1831.9,2827.6 1833.5,2833.8 1835.1,2839.0 1836.7,2841.1 1838.6,2833.9 1840.4,2817.8 1842.3,2801.8 1844.1,2794.5 1845.2,2798.1 1846.3,2807.6 1847.4,2820.5 1848.5,2834.6 1849.6,2847.6 1850.6,2859.8 1851.6,2874.4 1852.6,2890.1 1853.6,2905.7 1854.6,2920.0 1855.6,2931.7 1856.6,2939.7 1857.6,2942.6 1858.2,2939.6 1858.7,2931.2 1859.2,2918.7 1859.8,2903.0 1860.3,2885.3 1860.9,2866.5 1861.4,2847.9 1861.9,2830.5 1862.5,2815.4 1863.0,2800.3 1863.6,2783.3 1864.1,2765.5 1864.7,2747.8 1865.2,2731.2 1865.7,2716.6 1866.3,2705.0 1866.8,2697.3 1867.4,2694.5 1868.0,2698.4 1868.5,2709.1 1869.1,2725.1 1869.7,2744.8 1870.2,2766.9 1870.8,2789.6 1871.4,2811.7 1872.0,2831.5 1872.5,2847.5 1873.1,2860.4 1873.6,2873.4 1874.1,2886.3 1874.7,2898.6 1875.2,2910.3 1875.8,2920.9 1876.3,2930.3 1876.8,2938.1 1877.4,2944.1 1878.8,2956.5 1880.2,2966.0 1881.6,2969.8 1882.3,2966.3 1883.1,2957.1 1883.9,2944.2 1884.7,2929.6 1885.5,2915.3 1886.2,2903.4 1887.0,2895.8 1888.6,2886.4 1890.2,2879.3 1891.9,2876.5 1892.8,2880.5 1893.8,2890.6 1894.8,2903.8 1895.7,2917.3 1896.7,2928.0 1898.3,2943.4 1899.9,2957.3 1901.5,2963.4 1903.1,2959.8 1904.7,2950.8 1906.3,2939.3 1908.0,2928.0 1909.2,2919.5 1910.5,2910.4 1911.8,2900.8 1913.1,2890.5 1914.4,2879.7 1915.4,2870.7 1916.3,2860.7 1917.3,2850.4 1918.3,2840.4 1919.2,2831.4 1920.5,2821.4 1921.8,2812.9 1923.1,2804.5 1924.4,2795.0 1925.7,2783.1 1926.4,2774.1 1927.0,2762.5 1927.7,2749.3 1928.4,2735.7 1929.1,2722.6 1929.8,2711.2 1930.5,2702.6 1931.8,2689.7 1933.1,2683.3 1934.0,2689.0 1934.9,2702.5 1935.8,2718.7 1936.7,2732.3 1937.6,2738.0 1938.2,2735.0 1938.8,2726.7 1939.4,2714.6 1940.0,2700.0 1940.6,2684.1 1941.2,2668.5 1941.8,2654.3 1942.4,2640.2 1942.9,2623.8 1943.5,2605.9 1944.1,2587.1 1944.7,2568.1 1945.3,2549.4 1945.9,2531.9 1946.5,2516.0 1947.1,2502.6 1947.7,2492.1 1948.3,2485.4 1948.8,2483.0 1949.4,2487.3 1950.0,2499.3 1950.6,2517.4 1951.2,2540.1 1951.7,2565.9 1952.3,2593.1 1952.9,2620.3 1953.5,2646.0 1954.1,2668.6 1954.6,2686.5 1955.2,2702.8 1955.8,2719.9 1956.4,2736.6 1957.0,2751.6 1957.6,2763.8 1958.2,2772.0 1958.8,2775.0 1959.4,2771.7 1959.9,2762.6 1960.5,2749.4 1961.0,2733.6 1961.6,2716.8 1962.1,2700.6 1962.7,2686.5 1963.2,2673.0 1963.8,2657.8 1964.3,2641.7 1964.9,2625.3 1965.4,2609.5 1966.0,2594.9 1966.5,2582.2 1967.1,2572.3 1967.6,2565.8 1968.2,2563.5 1968.9,2566.4 1969.6,2574.1 1970.3,2585.5 1971.1,2599.3 1971.8,2614.3 1972.5,2629.3 1973.2,2643.0 1974.0,2654.3 1974.9,2668.5 1975.9,2683.2 1976.9,2694.7 1977.8,2699.4 1978.4,2694.4 1979.0,2681.2 1979.6,2662.7 1980.2,2641.5 1980.8,2620.5 1981.4,2602.4 1982.0,2589.9 1983.0,2575.9 1983.9,2563.2 1984.9,2554.1 1985.9,2550.6 1987.0,2555.7 1988.2,2568.0 1989.4,2583.7 1990.5,2598.6 1991.7,2608.6 1993.3,2615.4 1994.9,2620.0 1996.5,2624.8 1998.1,2631.8 1999.0,2639.7 2000.0,2651.9 2000.9,2666.5 2001.8,2681.4 2002.7,2694.5 2003.6,2703.9 2004.6,2707.4 2005.2,2704.3 2005.8,2695.8 2006.5,2683.2 2007.1,2667.5 2007.8,2650.1 2008.3,2627.7 2008.8,2593.7 2009.4,2553.4 2009.9,2512.1 2010.5,2475.1 2011.0,2447.6 2011.5,2426.5 2012.1,2405.5 2012.6,2385.4 2013.1,2366.6 2013.7,2349.9 2014.2,2335.8 2014.7,2325.0 2015.3,2318.0 2015.8,2315.6 2016.4,2319.8 2016.9,2331.7 2017.4,2349.7 2018.0,2372.6 2018.5,2399.0 2019.0,2427.5 2019.6,2456.7 2020.1,2485.4 2020.7,2512.0 2021.2,2539.6 2021.7,2570.6 2022.3,2602.9 2022.8,2634.4 2023.3,2663.0 2023.9,2686.5 2024.4,2707.5 2024.9,2728.7 2025.5,2748.4 2026.0,2764.7 2026.6,2775.8 2027.1,2779.9 2028.7,2778.7 2030.3,2775.5 2031.9,2770.5 2033.5,2763.8 2034.3,2757.8 2035.1,2747.7 2035.9,2734.4 2036.7,2718.7 2037.3,2702.7 2037.8,2679.6 2038.4,2653.0 2038.9,2626.7 2039.4,2604.4 2040.0,2589.9 2040.8,2575.5 2041.7,2564.6 2042.5,2560.3 2043.6,2564.7 2044.7,2575.5 2045.8,2588.9 2046.9,2601.2 2048.0,2608.6 2049.6,2612.4 2051.2,2614.9 2052.8,2618.9 2053.8,2626.2 2054.7,2639.3 2055.6,2655.1 2056.5,2670.4 2057.4,2681.9 2058.3,2686.5 2058.8,2679.3 2059.4,2661.0 2059.9,2636.7 2060.4,2611.3 2060.9,2589.9 2061.4,2570.0 2062.0,2548.3 2062.5,2525.8 2063.0,2503.7 2063.6,2483.0 2064.1,2465.0 2064.7,2450.7 2065.2,2441.3 2065.7,2437.9 2066.3,2441.1 2066.9,2449.7 2067.5,2462.6 2068.1,2478.6 2068.7,2496.3 2069.2,2514.7 2069.8,2532.5 2070.4,2548.5 2071.0,2561.4 2071.6,2570.0 2072.2,2573.2 2073.1,2570.7 2074.0,2563.9 2074.9,2553.6 2075.8,2540.8 2076.8,2526.3 2077.7,2511.1 2078.6,2495.9 2079.2,2484.9 2079.8,2470.8 2080.3,2454.4 2080.9,2436.1 2081.5,2416.6 2082.1,2396.6 2082.6,2376.6 2083.2,2357.3 2083.8,2339.2 2084.4,2323.1 2084.9,2309.5 2085.5,2299.0 2086.1,2292.2 2086.7,2289.8 2087.2,2292.4 2087.8,2299.7 2088.4,2310.9 2089.0,2325.2 2089.6,2341.9 2090.2,2360.1 2090.8,2379.1 2091.3,2398.2 2091.9,2416.4 2092.5,2433.2 2093.1,2447.6 2093.7,2460.9 2094.2,2475.2 2094.8,2490.3 2095.4,2505.6 2095.9,2520.9 2096.5,2535.8 2097.1,2549.9 2097.7,2562.9 2098.2,2574.3 2098.8,2583.8 2099.4,2591.1 2099.9,2595.7 2100.5,2597.3 2101.0,2594.2 2101.6,2585.4 2102.1,2571.7 2102.7,2554.2 2103.2,2533.6 2103.8,2510.8 2104.3,2486.7 2104.9,2462.2 2105.4,2438.1 2106.0,2415.4 2106.6,2386.7 2107.2,2350.9 2107.8,2312.3 2108.4,2274.9 2109.0,2243.0 2109.6,2220.9 2110.2,2212.5 2110.7,2217.6 2111.3,2231.4 2111.8,2252.0 2112.4,2277.3 2112.9,2305.3 2113.4,2334.0 2114.0,2361.4 2114.5,2385.4 2115.1,2404.1 2115.6,2415.4 2116.9,2428.6 2118.2,2437.3 2119.5,2444.2 2120.8,2452.1 2122.1,2463.7 2122.7,2472.4 2123.2,2484.8 2123.8,2499.9 2124.4,2516.9 2125.0,2534.6 2125.6,2552.3 2126.2,2568.8 2126.8,2583.4 2127.3,2595.0 2127.9,2602.6 2128.5,2605.4 2129.5,2602.6 2130.5,2595.2 2131.5,2584.1 2132.5,2570.4 2133.5,2555.3 2134.6,2539.8 2135.6,2525.0 2136.6,2512.0 2137.5,2499.9 2138.4,2486.0 2139.3,2471.7 2140.2,2458.2 2141.2,2446.9 2142.1,2439.2 2143.0,2436.3 2143.6,2438.5 2144.2,2444.5 2144.8,2454.0 2145.3,2466.4 2145.9,2481.1 2146.5,2497.7 2147.1,2515.5 2147.7,2534.2 2148.3,2553.2 2148.9,2571.9 2149.4,2589.9 2150.0,2608.9 2150.5,2632.6 2151.1,2659.2 2151.6,2686.8 2152.1,2713.6 2152.7,2737.7 2153.2,2757.2 2153.7,2770.3 2154.3,2775.0 2154.8,2771.9 2155.3,2763.2 2155.9,2750.2 2156.4,2734.3 2157.0,2716.6 2157.5,2698.5 2158.0,2681.3 2158.6,2666.1 2159.1,2654.3 2159.9,2640.3 2160.7,2627.5 2161.5,2615.8 2162.3,2605.0 2163.1,2595.1 2163.9,2586.0 2165.1,2575.3 2166.3,2566.9 2167.6,2557.6 2168.8,2544.2 2169.3,2534.5 2169.8,2520.7 2170.4,2503.7 2170.9,2484.4 2171.4,2463.6 2172.0,2442.2 2172.5,2421.1 2173.1,2401.1 2173.6,2383.2 2174.1,2365.2 2174.7,2345.4 2175.2,2324.7 2175.7,2304.2 2176.3,2285.1 2176.8,2268.3 2177.3,2255.0 2177.9,2246.3 2178.4,2243.1 2179.0,2246.7 2179.6,2256.6 2180.1,2271.8 2180.7,2291.3 2181.3,2314.0 2181.9,2338.8 2182.4,2364.7 2183.0,2390.5 2183.6,2415.3 2184.2,2438.0 2184.7,2457.5 2185.3,2472.8 2185.9,2482.7 2186.5,2486.2 2187.2,2482.5 2187.8,2472.6 2188.5,2458.7 2189.2,2442.8 2189.9,2426.8 2190.6,2412.9 2191.3,2403.0 2191.9,2399.3 2192.5,2402.8 2193.1,2412.4 2193.7,2427.1 2194.2,2445.8 2194.8,2467.3 2195.4,2490.5 2195.9,2514.2 2196.5,2537.4 2197.1,2558.8 2197.6,2577.5 2198.2,2592.2 2198.8,2601.9 2199.3,2605.4 2200.0,2601.4 2200.6,2591.0 2201.2,2576.3 2201.8,2559.5 2202.4,2542.6 2203.0,2527.9 2203.6,2517.5 2204.2,2513.6 2205.3,2518.2 2206.3,2529.9 2207.4,2545.0 2208.5,2560.1 2209.5,2571.7 2210.6,2576.4 2211.2,2573.2 2211.8,2564.3 2212.4,2550.7 2213.0,2533.3 2213.5,2512.9 2214.1,2490.7 2214.7,2467.4 2215.3,2444.1 2215.9,2421.6 2216.5,2401.0 2217.1,2383.2 2217.6,2366.0 2218.2,2347.3 2218.8,2327.6 2219.4,2307.7 2220.0,2288.2 2220.6,2269.9 2221.2,2253.4 2221.7,2239.4 2222.3,2228.5 2222.9,2221.5 2223.5,2219.0 2224.1,2221.6 2224.7,2228.9 2225.3,2240.2 2225.8,2254.6 2226.4,2271.6 2227.0,2290.3 2227.6,2309.9 2228.2,2329.8 2228.8,2349.1 2229.4,2367.1 2229.9,2383.2 2230.5,2398.2 2231.1,2413.6 2231.7,2429.3 2232.3,2445.0 2232.9,2460.7 2233.5,2476.1 2234.0,2491.2 2234.6,2505.6 2235.2,2519.4 2235.8,2532.3 2236.4,2544.2 2237.1,2558.2 2237.8,2573.1 2238.4,2587.6 2239.1,2600.8 2239.8,2611.6 2240.5,2618.8 2241.2,2621.5 2242.3,2613.9 2243.4,2600.0 2244.4,2592.5 2245.3,2595.2 2246.3,2602.7 2247.2,2613.8 2248.1,2627.3 2249.0,2642.0 2249.9,2656.8 2250.9,2670.4 2251.6,2681.4 2252.2,2694.6 2252.9,2709.0 2253.6,2723.3 2254.3,2736.5 2255.0,2747.3 2255.7,2754.6 2256.3,2757.3 2256.9,2754.2 2257.5,2745.5 2258.1,2732.3 2258.7,2715.6 2259.3,2696.3 2259.9,2675.6 2260.5,2654.3 2261.1,2627.6 2261.6,2589.9 2262.1,2547.9 2262.7,2508.5 2263.2,2478.1 2263.7,2463.7 2265.4,2455.1 2267.0,2450.8 2268.6,2444.4 2269.5,2435.8 2270.5,2423.4 2271.5,2409.7 2272.4,2397.6 2273.4,2389.6 2275.0,2381.8 2276.6,2375.9 2278.2,2373.5 2279.8,2375.4 2281.5,2380.7 2283.1,2388.9 2284.7,2399.3 2285.2,2404.5 2285.7,2412.5 2286.3,2422.7 2286.8,2434.9 2287.4,2448.6 2287.9,2463.6 2288.4,2479.4 2289.0,2495.6 2289.5,2512.0 2290.0,2533.1 2290.6,2560.9 2291.1,2590.5 2291.7,2617.5 2292.2,2637.1 2292.7,2644.6 2293.3,2641.5 2293.8,2632.9 2294.3,2619.9 2294.9,2603.6 2295.4,2585.1 2295.9,2565.6 2296.5,2546.2 2297.0,2527.9 2297.6,2512.0 2298.1,2495.0 2298.7,2476.2 2299.3,2456.2 2299.9,2435.7 2300.5,2415.6 2301.1,2396.5 2301.7,2379.2 2302.2,2364.4 2302.8,2353.0 2303.4,2345.6 2304.0,2342.9 2304.6,2346.0 2305.2,2354.6 2305.7,2367.9 2306.3,2385.0 2306.9,2405.1 2307.5,2427.4 2308.1,2450.9 2308.6,2474.9 2309.2,2498.4 2309.8,2520.6 2310.4,2540.7 2310.9,2557.9 2311.5,2571.2 2312.1,2579.8 2312.7,2582.8 2313.3,2578.7 2313.9,2567.2 2314.4,2550.2 2315.0,2529.1 2315.6,2505.6 2316.2,2481.3 2316.8,2457.8 2317.4,2436.7 2318.0,2419.7 2318.5,2408.3 2319.1,2404.1 2319.7,2406.6 2320.3,2413.6 2320.9,2424.4 2321.4,2438.3 2322.0,2454.4 2322.6,2472.2 2323.2,2490.7 2323.8,2509.4 2324.3,2527.5 2324.9,2544.2 2325.5,2561.8 2326.0,2582.9 2326.6,2605.4 2327.1,2626.9 2327.7,2645.1 2328.2,2657.6 2328.8,2662.3 2329.4,2653.7 2330.0,2631.2 2330.6,2599.6 2331.2,2563.8 2331.8,2528.6 2332.4,2499.0 2333.0,2479.8 2333.8,2463.5 2334.6,2448.3 2335.4,2435.1 2336.2,2424.7 2337.0,2417.8 2337.8,2415.4 2338.9,2423.7 2339.9,2439.2 2341.0,2447.6 2341.8,2444.7 2342.5,2436.8 2343.2,2425.0 2343.9,2410.3 2344.7,2394.0 2345.4,2377.2 2346.1,2360.9 2346.9,2346.3 2347.6,2334.4 2348.3,2326.5 2349.1,2323.6 2350.5,2327.3 2351.9,2337.0 2353.3,2350.6 2354.7,2366.3 2356.1,2381.9 2357.5,2395.6 2358.9,2405.3 2360.3,2408.9 2361.1,2406.9 2362.0,2401.2 2362.8,2392.2 2363.6,2380.4 2364.4,2366.4 2365.2,2350.6 2366.0,2333.5 2366.8,2315.6"/>
<polyline class="c" stroke="#ff0000" stroke-width="5.8" points="1370.2,3010.2 1372.0,3010.6 1373.9,3010.9 1375.8,3011.2 1377.6,3011.4 1379.5,3011.5 1381.4,3011.6 1383.3,3011.7 1385.1,3011.8 1387.0,3011.8 1388.9,3011.8 1390.8,3011.8 1392.5,3011.7 1394.3,3011.5 1396.1,3011.2 1397.9,3010.8 1399.7,3010.4 1401.5,3009.9 1403.3,3009.4 1405.1,3009.0 1406.9,3008.6 1408.8,3008.1 1410.7,3007.6 1412.6,3007.0 1414.5,3006.5 1416.4,3005.9 1418.3,3005.3 1420.2,3004.8 1422.1,3004.4 1424.0,3004.0 1425.9,3003.8 1427.8,3003.7 1429.6,3004.1 1431.4,3005.0 1433.2,3006.3 1435.0,3007.8 1436.8,3009.2 1438.7,3010.5 1440.5,3011.4 1442.3,3011.8 1458.4,3011.8 1460.3,3011.5 1462.2,3010.7 1464.2,3009.7 1466.1,3008.9 1468.0,3008.6 1469.9,3008.7 1471.7,3008.9 1473.6,3009.3 1475.4,3009.8 1477.2,3010.4 1479.1,3011.1 1480.9,3011.8 1482.7,3012.8 1484.5,3014.5 1486.3,3016.5 1488.1,3018.7 1489.9,3020.9 1491.6,3023.0 1493.4,3024.7 1495.2,3025.9 1497.0,3026.3 1498.9,3026.1 1500.9,3025.8 1502.8,3025.2 1504.7,3024.6 1506.7,3023.9 1508.6,3023.2 1510.5,3022.5 1512.5,3022.0 1514.4,3021.6 1516.3,3021.5 1518.2,3021.5 1520.0,3021.8 1521.9,3022.1 1523.7,3022.4 1525.5,3022.7 1527.4,3023.0 1529.2,3023.1 1531.1,3022.1 1533.0,3019.7 1534.8,3016.6 1536.7,3013.5 1538.6,3011.1 1540.5,3010.2 1542.4,3011.3 1544.2,3013.9 1546.1,3017.4 1548.0,3020.9 1549.9,3023.6 1551.7,3024.7 1553.4,3023.8 1555.0,3021.8 1556.6,3019.5 1558.2,3017.5 1559.8,3016.6 1561.7,3017.0 1563.6,3017.9 1565.4,3019.0 1567.3,3020.2 1569.2,3021.1 1571.1,3021.5 1583.9,3021.5 1585.8,3022.0 1587.6,3023.4 1589.5,3025.3 1591.3,3027.3 1593.1,3029.2 1595.0,3030.6 1596.8,3031.1 1598.7,3030.8 1600.6,3029.9 1602.5,3028.7 1604.3,3027.5 1606.2,3026.6 1608.1,3026.3 1609.9,3026.5 1611.7,3027.0 1613.5,3027.8 1615.3,3028.7 1617.2,3029.6 1619.0,3030.4 1620.8,3030.9 1622.6,3031.1 1624.5,3031.0 1626.4,3030.5 1628.4,3029.8 1630.3,3028.9 1632.2,3027.9 1633.9,3025.8 1635.5,3022.1 1637.1,3018.1 1638.7,3014.8 1640.3,3013.4 1642.2,3014.7 1644.2,3017.9 1646.1,3021.8 1648.0,3024.9 1650.0,3026.3 1651.8,3024.6 1653.7,3020.4 1655.6,3015.0 1657.5,3009.6 1659.3,3005.4 1661.2,3003.7 1663.2,3005.3 1665.1,3008.8 1667.0,3013.1 1669.0,3016.7 1670.9,3018.2 1672.5,3018.1 1674.1,3017.7 1675.7,3017.2 1677.3,3016.8 1678.9,3016.6 1680.5,3019.5 1682.2,3025.0 1683.8,3027.9 1685.4,3026.9 1687.0,3024.7 1688.6,3022.5 1690.2,3021.5 1692.1,3021.7 1694.0,3022.3 1695.8,3023.1 1697.7,3023.8 1699.6,3024.4 1701.5,3024.7 1703.1,3022.0 1704.7,3015.6 1706.3,3008.0 1707.9,3001.6 1709.5,2998.9 1711.5,2999.7 1713.4,3001.8 1715.3,3004.8 1717.2,3008.6 1719.2,3012.6 1721.1,3016.7 1723.0,3020.4 1725.0,3023.4 1726.9,3025.5 1728.8,3026.3 1730.6,3026.1 1732.4,3025.5 1734.2,3024.5 1736.0,3023.3 1737.8,3021.9 1739.6,3020.3 1741.4,3018.6 1743.1,3016.8 1744.9,3015.0 1746.8,3012.4 1748.7,3008.8 1750.6,3004.8 1752.5,3001.1 1754.3,2998.4 1756.2,2997.3 1758.1,2998.1 1760.0,3000.3 1761.8,3003.2 1763.7,3006.4 1765.6,3009.5 1767.5,3011.8 1769.3,3013.6 1771.2,3015.5 1773.0,3017.3 1774.8,3018.9 1776.7,3020.3 1778.5,3021.1 1780.4,3021.5 1782.3,3021.4 1784.3,3021.3 1786.3,3021.1 1788.2,3020.8 1790.2,3020.4 1792.2,3019.9 1794.1,3019.4 1796.1,3018.8 1798.1,3018.1 1800.0,3017.3 1802.0,3016.5 1804.0,3015.5 1805.9,3014.5 1807.9,3013.5 1809.9,3012.4 1811.8,3011.2 1813.8,3009.9 1815.8,3008.6 1817.6,3006.2 1819.5,3002.2 1821.3,2997.2 1823.1,2992.0 1825.0,2987.4 1826.8,2984.1 1828.7,2982.8 1830.3,2983.5 1831.9,2985.1 1833.5,2987.0 1835.1,2988.6 1836.7,2989.3 1838.3,2986.7 1839.9,2980.8 1841.5,2973.6 1843.1,2967.6 1844.8,2965.1 1846.7,2969.6 1848.6,2980.4 1850.5,2993.3 1852.5,3004.1 1854.4,3008.6 1855.8,3004.8 1857.1,2995.0 1858.4,2981.7 1859.8,2967.2 1861.1,2953.9 1862.5,2944.2 1864.3,2934.0 1866.2,2925.3 1868.0,2921.6 1869.3,2925.8 1870.6,2936.6 1871.9,2951.3 1873.2,2967.3 1874.5,2981.9 1875.8,2992.5 1877.4,3002.4 1879.0,3011.8 1880.6,3018.7 1882.2,3021.5 1884.0,3019.1 1885.8,3013.5 1887.6,3006.9 1889.4,3001.3 1891.2,2998.9 1892.9,3000.3 1894.6,3003.9 1896.4,3008.6 1898.1,3013.2 1899.8,3016.8 1901.5,3018.2 1903.4,3017.5 1905.2,3015.3 1907.0,3012.0 1908.9,3007.9 1910.7,3003.1 1912.6,2997.8 1914.4,2992.5 1916.3,2985.5 1918.3,2976.3 1920.2,2965.8 1922.1,2954.8 1924.1,2944.2 1925.7,2933.9 1927.3,2922.2 1928.9,2912.7 1930.5,2908.8 1932.1,2911.8 1933.7,2919.0 1935.3,2927.5 1936.9,2934.7 1938.5,2937.7 1939.5,2933.3 1940.5,2922.2 1941.4,2907.5 1942.4,2892.3 1943.4,2879.8 1944.6,2865.6 1945.8,2850.9 1947.0,2839.4 1948.2,2834.7 1949.0,2838.2 1949.8,2847.2 1950.6,2859.5 1951.4,2873.2 1952.2,2886.0 1953.0,2895.9 1954.3,2908.8 1955.6,2921.7 1956.9,2933.1 1958.2,2941.1 1959.5,2944.2 1960.9,2939.4 1962.4,2927.5 1963.8,2912.0 1965.3,2896.5 1966.7,2884.6 1968.2,2879.8 1970.1,2885.1 1972.0,2897.9 1974.0,2913.2 1975.9,2925.9 1977.8,2931.3 1979.2,2926.5 1980.5,2914.6 1981.9,2899.1 1983.2,2883.6 1984.5,2871.7 1985.9,2866.9 1987.6,2868.4 1989.4,2872.3 1991.1,2878.0 1992.9,2884.9 1994.6,2892.2 1996.4,2899.3 1998.1,2905.5 1999.9,2912.2 2001.7,2919.6 2003.4,2925.6 2005.2,2928.1 2006.2,2924.7 2007.1,2915.9 2008.1,2903.5 2009.1,2889.4 2010.0,2875.5 2011.0,2863.7 2012.0,2852.2 2012.9,2839.4 2013.9,2827.5 2014.9,2818.8 2015.8,2815.4 2016.7,2818.6 2017.7,2827.3 2018.6,2839.8 2019.5,2854.5 2020.4,2869.8 2021.3,2884.1 2022.3,2895.9 2023.3,2908.5 2024.4,2922.0 2025.5,2935.2 2026.6,2946.3 2027.6,2954.1 2028.7,2957.1 2030.5,2953.6 2032.3,2944.5 2034.1,2931.6 2035.9,2916.8 2037.8,2902.0 2039.6,2889.1 2041.4,2880.0 2043.2,2876.6 2045.0,2878.5 2046.8,2883.6 2048.6,2890.8 2050.4,2899.1 2052.2,2907.4 2054.1,2914.6 2055.9,2919.7 2057.7,2921.6 2059.3,2915.6 2060.9,2901.2 2062.5,2884.1 2064.1,2869.7 2065.7,2863.7 2067.3,2867.2 2068.9,2875.0 2070.6,2882.7 2072.2,2886.2 2074.0,2883.2 2075.8,2875.2 2077.6,2863.8 2079.4,2850.8 2081.2,2837.8 2083.0,2826.5 2084.8,2818.4 2086.7,2815.4 2088.5,2820.0 2090.3,2832.0 2092.2,2848.3 2094.0,2866.2 2095.9,2882.5 2097.7,2894.5 2099.5,2899.1 2100.6,2895.9 2101.7,2887.4 2102.7,2874.8 2103.8,2859.4 2104.8,2842.8 2105.9,2826.1 2107.0,2810.8 2108.0,2798.1 2109.1,2789.6 2110.2,2786.4 2111.3,2789.8 2112.5,2798.6 2113.7,2810.8 2114.9,2824.4 2116.1,2837.3 2117.2,2847.6 2119.1,2861.5 2121.0,2875.9 2122.9,2889.6 2124.8,2901.1 2126.6,2909.0 2128.5,2912.0 2130.5,2909.3 2132.5,2902.4 2134.4,2893.0 2136.4,2882.7 2138.4,2873.3 2140.4,2866.4 2142.4,2863.7 2144.0,2867.7 2145.7,2878.3 2147.4,2893.2 2149.1,2910.4 2150.8,2927.5 2152.5,2942.5 2154.2,2953.0 2155.9,2957.1 2157.5,2954.0 2159.1,2945.8 2160.7,2934.0 2162.3,2920.0 2163.9,2905.3 2165.5,2891.4 2167.2,2879.8 2169.1,2866.2 2171.1,2851.3 2173.1,2836.7 2175.1,2824.2 2177.1,2815.5 2179.1,2812.2 2180.1,2816.8 2181.2,2828.8 2182.2,2845.1 2183.3,2862.9 2184.4,2879.3 2185.4,2891.2 2186.5,2895.9 2188.1,2890.1 2189.7,2877.4 2191.3,2864.6 2192.9,2858.9 2194.2,2864.4 2195.5,2877.6 2196.8,2893.3 2198.1,2906.5 2199.3,2912.0 2201.0,2911.1 2202.6,2909.6 2204.2,2908.8 2205.8,2912.3 2207.4,2920.0 2209.0,2927.8 2210.6,2931.3 2212.2,2927.5 2213.8,2918.1 2215.4,2906.5 2217.1,2895.9 2218.8,2884.0 2220.6,2870.8 2222.4,2860.1 2224.1,2855.6 2225.9,2859.9 2227.7,2870.6 2229.6,2884.8 2231.4,2899.6 2233.2,2912.0 2234.8,2922.2 2236.4,2933.3 2238.0,2943.5 2239.6,2950.9 2241.2,2953.8 2242.8,2951.2 2244.4,2944.8 2246.0,2937.1 2247.6,2930.8 2249.3,2928.1 2250.9,2929.8 2252.5,2933.7 2254.1,2938.5 2255.7,2942.5 2257.3,2944.2 2258.9,2940.2 2260.5,2930.6 2262.1,2919.1 2263.7,2909.6 2265.4,2905.5 2267.2,2905.7 2269.0,2906.2 2270.9,2906.9 2272.7,2907.9 2274.6,2909.1 2276.4,2910.5 2278.2,2912.0 2280.0,2915.3 2281.9,2921.5 2283.7,2929.6 2285.5,2938.5 2287.3,2947.2 2289.1,2954.7 2290.9,2959.9 2292.7,2961.9 2294.5,2956.9 2296.3,2944.4 2298.0,2928.1 2299.8,2911.8 2301.6,2899.3 2303.3,2894.3 2305.1,2899.5 2306.8,2911.8 2308.6,2926.6 2310.3,2939.0 2312.0,2944.2 2313.9,2939.1 2315.7,2928.1 2317.6,2917.0 2319.4,2912.0 2321.3,2917.0 2323.2,2929.0 2325.1,2943.3 2326.9,2955.3 2328.8,2960.3 2330.6,2959.5 2332.3,2957.2 2334.1,2953.9 2335.9,2949.9 2337.6,2945.4 2339.4,2941.0 2341.3,2934.0 2343.3,2924.5 2345.2,2914.7 2347.1,2907.0 2349.1,2903.9 2350.9,2905.4 2352.8,2909.4 2354.6,2914.7 2356.4,2920.5 2358.3,2925.9 2360.1,2929.8 2362.0,2931.3 2363.6,2930.4 2365.2,2928.2 2366.8,2924.9"/>
<polyline class="c" stroke="#0000ff" stroke-width="5.8" points="1370.2,2676.9 1371.7,2674.1 1373.2,2670.9 1374.7,2667.6 1376.3,2664.1 1377.9,2659.2 1379.5,2654.0 1381.1,2651.2 1382.7,2650.6 1384.3,2650.4 1385.9,2650.1 1387.5,2649.6 1389.1,2645.9 1390.8,2639.9 1392.4,2636.7 1394.0,2639.5 1395.6,2645.5 1397.2,2651.6 1398.8,2654.4 1400.4,2649.9 1402.0,2639.7 1403.6,2628.8 1405.2,2622.2 1406.9,2620.0 1408.5,2618.6 1410.1,2617.6 1411.7,2616.2 1413.3,2614.1 1414.9,2608.7 1416.5,2599.6 1418.1,2589.5 1419.7,2581.4 1421.3,2578.1 1423.0,2578.9 1424.6,2581.4 1426.2,2585.2 1427.8,2590.3 1429.4,2596.4 1430.2,2603.3 1431.0,2615.2 1431.8,2629.5 1432.6,2643.2 1433.4,2653.5 1434.2,2657.6 1435.8,2655.9 1437.4,2652.0 1439.1,2648.1 1440.7,2646.3 1442.3,2652.9 1443.9,2667.3 1445.5,2681.7 1447.1,2688.2 1448.7,2687.0 1450.3,2684.1 1451.9,2680.5 1453.5,2677.2 1455.2,2675.3 1456.8,2674.8 1458.4,2674.4 1460.0,2673.7 1461.6,2665.9 1463.2,2650.8 1464.8,2638.3 1466.1,2631.5 1467.4,2628.0 1468.8,2632.4 1470.1,2643.3 1471.5,2657.1 1472.9,2670.5 1473.9,2680.6 1475.0,2691.7 1476.1,2703.2 1477.2,2714.7 1478.2,2725.4 1479.3,2734.9 1481.1,2750.4 1482.9,2766.3 1484.7,2780.5 1486.5,2790.6 1488.3,2794.5 1490.1,2791.3 1491.8,2783.7 1493.5,2774.6 1495.3,2767.1 1497.0,2763.9 1498.6,2766.4 1500.2,2771.0 1501.8,2773.5 1503.6,2771.0 1505.4,2765.5 1507.2,2759.9 1508.9,2757.4 1510.4,2762.2 1511.9,2774.1 1513.4,2789.6 1514.9,2805.1 1516.4,2817.1 1517.9,2821.8 1519.6,2814.8 1521.2,2799.3 1522.8,2783.8 1524.4,2776.7 1525.6,2781.8 1526.8,2794.3 1528.1,2810.6 1529.3,2826.8 1530.6,2839.4 1531.8,2844.4 1533.4,2839.2 1535.0,2826.8 1536.6,2812.0 1538.2,2799.6 1539.8,2794.5 1540.9,2798.0 1542.0,2807.3 1543.1,2820.2 1544.2,2834.3 1545.3,2847.6 1546.2,2859.7 1547.1,2874.6 1548.1,2890.5 1549.0,2905.8 1549.9,2918.9 1550.8,2927.9 1551.7,2931.3 1552.6,2927.6 1553.4,2917.7 1554.2,2903.3 1555.0,2886.3 1555.9,2868.4 1556.7,2851.4 1557.5,2837.0 1558.3,2827.1 1559.2,2823.4 1560.4,2827.8 1561.6,2839.1 1562.9,2854.5 1564.1,2871.3 1565.4,2886.7 1566.6,2898.0 1567.8,2902.3 1569.5,2899.8 1571.1,2894.3 1572.7,2888.7 1574.3,2886.2 1575.9,2890.6 1577.5,2900.5 1579.1,2911.3 1580.7,2918.4 1582.3,2921.3 1583.9,2923.1 1585.6,2925.1 1587.2,2928.1 1588.5,2934.9 1589.9,2946.9 1591.2,2961.1 1592.5,2974.9 1593.9,2985.2 1595.2,2989.3 1596.8,2988.6 1598.4,2986.9 1600.0,2984.1 1601.7,2980.6 1603.3,2976.4 1604.3,2970.5 1605.3,2959.6 1606.3,2945.6 1607.3,2930.1 1608.3,2915.0 1609.3,2902.0 1610.3,2892.9 1611.3,2889.4 1612.3,2893.6 1613.2,2904.0 1614.2,2917.9 1615.2,2932.3 1616.1,2944.2 1617.4,2958.1 1618.7,2972.8 1620.0,2986.2 1621.3,2996.6 1622.6,3002.1 1624.5,3005.5 1626.4,3008.2 1628.4,3010.2 1630.3,3011.4 1632.2,3011.8 1634.1,3011.4 1635.9,3010.5 1637.8,3009.3 1639.6,3007.9 1641.4,3006.6 1643.3,3005.7 1645.1,3005.4 1646.7,3006.9 1648.3,3010.2 1650.0,3013.5 1651.6,3015.0 1653.5,3013.2 1655.4,3008.7 1657.4,3003.3 1659.3,2998.4 1661.2,2995.7 1663.2,2994.8 1665.1,2994.3 1667.0,2993.9 1669.0,2993.4 1670.9,2992.5 1672.5,2989.5 1674.1,2985.1 1675.7,2982.8 1677.3,2985.5 1678.9,2991.9 1680.5,2999.5 1682.2,3005.9 1683.8,3008.6 1685.7,3008.2 1687.6,3007.4 1689.6,3006.5 1691.5,3005.7 1693.4,3005.4 1695.0,3006.0 1696.6,3007.6 1698.3,3009.5 1699.9,3011.1 1701.5,3011.8 1703.1,3010.1 1704.7,3006.1 1706.3,3001.4 1707.9,2997.4 1709.5,2995.7 1711.5,2996.4 1713.4,2998.1 1715.3,3000.4 1717.2,3003.0 1719.2,3005.4 1721.0,3007.7 1722.9,3010.6 1724.7,3013.7 1726.5,3016.6 1728.4,3019.1 1730.2,3020.8 1732.1,3021.5 1733.9,3020.8 1735.7,3019.2 1737.6,3016.6 1739.4,3013.5 1741.3,3009.8 1743.1,3006.0 1744.9,3002.1 1746.7,2997.1 1748.5,2990.1 1750.3,2982.5 1752.0,2975.5 1753.8,2970.3 1755.6,2968.3 1757.3,2971.2 1759.0,2978.0 1760.8,2986.1 1762.5,2992.9 1764.3,2995.7 1766.0,2994.2 1767.8,2990.9 1769.6,2987.5 1771.3,2986.0 1773.1,2989.7 1774.9,2998.5 1776.7,3009.0 1778.6,3017.8 1780.4,3021.5 1782.3,3019.8 1784.2,3015.8 1786.2,3011.0 1788.1,3007.0 1790.0,3005.4 1791.9,3005.7 1793.9,3006.5 1795.8,3007.4 1797.7,3008.2 1799.7,3008.6 1801.5,3008.5 1803.3,3008.4 1805.0,3008.2 1806.8,3007.9 1808.6,3007.6 1810.4,3007.2 1812.2,3006.6 1814.0,3006.0 1815.8,3005.4 1817.7,3002.2 1819.6,2995.6 1821.6,2987.7 1823.5,2980.6 1825.4,2976.4 1827.4,2974.7 1829.3,2973.6 1831.2,2972.6 1833.2,2971.6 1835.1,2969.9 1837.0,2966.3 1839.0,2960.6 1840.9,2954.4 1842.8,2949.4 1844.8,2947.4 1846.6,2951.7 1848.5,2962.4 1850.4,2976.4 1852.3,2990.3 1854.1,3001.1 1856.0,3005.4 1857.6,3000.0 1859.2,2987.4 1860.9,2972.5 1862.5,2960.3 1864.3,2948.8 1866.2,2937.3 1868.1,2928.4 1870.0,2924.9 1871.1,2928.8 1872.3,2938.8 1873.4,2952.0 1874.6,2965.4 1875.8,2976.4 1877.4,2989.7 1879.0,3003.4 1880.6,3014.0 1882.2,3018.2 1884.0,3015.4 1885.8,3008.6 1887.6,3000.5 1889.4,2993.7 1891.2,2990.9 1892.9,2992.7 1894.6,2997.1 1896.4,3002.9 1898.1,3008.8 1899.8,3013.2 1901.5,3015.0 1903.4,3013.9 1905.4,3010.8 1907.3,3006.4 1909.2,3001.1 1911.2,2995.7 1912.8,2990.1 1914.4,2983.0 1916.0,2975.1 1917.6,2967.2 1919.2,2960.3 1920.8,2954.3 1922.4,2948.7 1924.1,2943.3 1925.7,2937.7 1927.3,2931.0 1928.9,2923.7 1930.5,2917.7 1932.1,2915.2 1933.7,2917.7 1935.3,2923.3 1936.9,2928.8 1938.5,2931.3 1939.5,2927.0 1940.5,2916.5 1941.4,2902.9 1942.4,2889.5 1943.4,2879.8 1945.0,2868.0 1946.6,2858.2 1948.2,2854.0 1949.4,2858.8 1950.6,2870.3 1951.8,2884.1 1953.0,2895.9 1954.6,2910.0 1956.3,2924.7 1957.9,2936.3 1959.5,2941.0 1960.9,2936.1 1962.4,2923.8 1963.8,2908.0 1965.3,2892.1 1966.7,2879.8 1968.2,2875.0 1970.0,2878.8 1971.8,2888.0 1973.6,2898.9 1975.4,2908.1 1977.2,2912.0 1978.6,2907.2 1980.1,2895.3 1981.5,2879.8 1983.0,2864.3 1984.4,2852.4 1985.9,2847.6 1987.3,2852.6 1988.8,2864.2 1990.2,2877.2 1991.7,2886.2 1993.3,2891.3 1994.9,2895.1 1996.5,2898.6 1998.1,2902.3 1999.9,2907.9 2001.7,2914.3 2003.4,2919.5 2005.2,2921.6 2005.8,2918.5 2006.4,2910.2 2007.0,2898.4 2007.6,2884.6 2008.2,2870.5 2008.8,2857.6 2009.4,2847.6 2010.5,2832.6 2011.5,2817.3 2012.6,2803.0 2013.7,2791.1 2014.7,2783.0 2015.8,2780.0 2016.6,2783.5 2017.4,2792.7 2018.2,2805.6 2019.0,2820.4 2019.8,2835.0 2020.7,2847.6 2021.5,2860.7 2022.4,2875.4 2023.3,2890.8 2024.2,2906.2 2025.1,2920.5 2026.0,2933.2 2026.9,2943.2 2027.8,2949.8 2028.7,2952.2 2030.0,2947.8 2031.3,2936.6 2032.6,2922.0 2033.9,2907.3 2035.1,2895.9 2037.0,2882.6 2038.8,2869.5 2040.7,2859.6 2042.5,2855.6 2044.3,2858.2 2046.1,2864.6 2047.9,2872.5 2049.6,2879.8 2051.6,2887.8 2053.5,2897.2 2055.4,2906.0 2057.4,2912.6 2059.3,2915.2 2059.9,2912.1 2060.6,2903.6 2061.2,2891.2 2061.9,2876.1 2062.5,2859.7 2063.2,2843.2 2063.8,2828.1 2064.4,2815.7 2065.1,2807.2 2065.7,2804.1 2067.6,2810.4 2069.4,2824.2 2071.3,2838.1 2073.1,2844.4 2074.9,2839.7 2076.7,2828.1 2078.4,2813.4 2080.2,2799.3 2081.5,2788.1 2082.8,2774.6 2084.1,2761.5 2085.4,2751.7 2086.7,2747.8 2087.7,2751.6 2088.8,2761.4 2089.9,2775.0 2090.9,2790.1 2092.0,2804.3 2093.1,2815.4 2094.7,2829.3 2096.3,2843.6 2097.9,2856.1 2099.5,2865.1 2101.1,2868.5 2102.0,2865.7 2102.8,2857.9 2103.6,2846.2 2104.4,2831.7 2105.2,2815.7 2106.1,2799.0 2106.9,2782.9 2107.7,2768.5 2108.5,2756.8 2109.3,2749.0 2110.2,2746.2 2111.5,2752.5 2112.9,2766.7 2114.3,2781.4 2115.6,2789.6 2117.2,2791.8 2118.9,2793.0 2120.5,2794.1 2122.1,2796.1 2123.7,2802.8 2125.3,2815.0 2126.9,2828.7 2128.5,2839.8 2130.1,2844.4 2131.7,2842.2 2133.3,2836.6 2135.0,2829.3 2136.6,2821.8 2138.2,2812.1 2139.8,2799.8 2141.4,2789.3 2143.0,2784.8 2143.8,2788.0 2144.6,2796.5 2145.4,2808.5 2146.2,2822.2 2147.0,2835.8 2147.8,2847.6 2148.8,2860.7 2149.7,2875.5 2150.6,2890.8 2151.5,2905.0 2152.4,2916.9 2153.4,2925.1 2154.3,2928.1 2155.2,2923.8 2156.1,2912.8 2157.0,2897.7 2158.0,2880.9 2158.9,2865.3 2159.8,2853.3 2160.7,2847.6 2162.3,2845.5 2163.9,2844.4 2165.5,2843.3 2167.2,2841.1 2168.0,2837.0 2168.8,2828.4 2169.6,2816.6 2170.4,2802.7 2171.2,2787.9 2172.0,2773.6 2172.8,2760.9 2173.6,2751.0 2175.0,2736.5 2176.3,2722.4 2177.7,2711.7 2179.1,2707.5 2180.3,2712.1 2181.5,2723.8 2182.7,2739.8 2183.8,2757.3 2185.0,2773.4 2186.2,2785.1 2187.4,2789.6 2189.0,2783.4 2190.7,2771.7 2192.3,2765.5 2193.3,2769.5 2194.3,2779.8 2195.3,2794.0 2196.3,2809.4 2197.3,2823.6 2198.3,2833.9 2199.3,2837.9 2200.5,2832.9 2201.7,2820.9 2202.8,2806.6 2204.0,2794.7 2205.1,2789.6 2206.9,2793.2 2208.7,2800.9 2210.5,2808.6 2212.2,2812.2 2213.1,2809.1 2214.1,2801.0 2215.0,2789.2 2215.9,2775.3 2216.8,2760.6 2217.7,2746.6 2218.7,2734.9 2219.8,2721.3 2220.9,2706.3 2222.0,2692.6 2223.0,2682.5 2224.1,2678.5 2225.3,2682.4 2226.5,2692.3 2227.6,2705.9 2228.8,2720.9 2229.9,2734.9 2230.9,2745.6 2231.8,2757.3 2232.7,2769.5 2233.6,2781.9 2234.5,2794.0 2235.5,2805.3 2236.4,2815.4 2237.6,2828.8 2238.8,2842.4 2240.0,2853.0 2241.2,2857.2 2242.8,2855.6 2244.4,2852.5 2246.0,2850.8 2247.6,2856.2 2249.3,2868.0 2250.9,2879.8 2252.5,2891.3 2254.1,2903.9 2255.7,2914.2 2257.3,2918.4 2257.9,2915.5 2258.5,2907.4 2259.1,2895.3 2259.6,2880.3 2260.2,2863.3 2260.8,2845.6 2261.4,2828.2 2262.0,2812.1 2262.6,2798.6 2263.2,2788.5 2263.7,2783.2 2265.4,2777.5 2267.0,2773.8 2268.6,2770.3 2270.5,2764.9 2272.4,2758.9 2274.4,2753.4 2276.3,2749.3 2278.2,2747.8 2279.8,2751.2 2281.5,2759.9 2283.1,2771.4 2284.7,2783.2 2285.8,2793.2 2287.0,2806.3 2288.1,2820.7 2289.3,2834.9 2290.4,2847.1 2291.6,2855.6 2292.7,2858.9 2293.3,2855.8 2293.8,2847.4 2294.3,2835.0 2294.9,2819.9 2295.4,2803.5 2295.9,2787.1 2296.5,2772.0 2297.0,2759.5 2297.6,2751.0 2299.0,2734.9 2300.5,2721.0 2301.9,2711.2 2303.3,2707.5 2304.3,2710.9 2305.2,2719.9 2306.2,2733.3 2307.1,2749.5 2308.0,2767.1 2309.0,2784.7 2309.9,2800.9 2310.8,2814.3 2311.8,2823.3 2312.7,2826.7 2313.5,2822.6 2314.3,2811.8 2315.1,2796.6 2315.9,2779.2 2316.7,2761.7 2317.5,2746.5 2318.3,2735.8 2319.1,2731.7 2320.0,2735.0 2320.9,2743.9 2321.8,2757.1 2322.7,2773.0 2323.6,2790.4 2324.5,2807.8 2325.4,2823.8 2326.3,2837.0 2327.2,2845.9 2328.1,2849.2 2328.7,2846.4 2329.2,2838.8 2329.8,2827.6 2330.3,2814.0 2330.8,2799.1 2331.4,2784.2 2331.9,2770.4 2332.4,2758.9 2333.0,2751.0 2334.3,2737.3 2335.5,2726.4 2336.8,2722.0 2338.2,2727.9 2339.6,2738.7 2341.0,2744.6 2342.4,2739.4 2343.7,2726.6 2345.0,2709.9 2346.4,2693.3 2347.7,2680.5 2349.1,2675.3 2351.0,2679.7 2352.9,2690.1 2354.9,2702.4 2356.8,2712.8 2358.7,2717.2 2360.1,2714.9 2361.4,2708.4 2362.8,2698.2 2364.1,2684.9 2365.4,2669.0 2366.8,2651.2"/>
<polyline class="c" stroke="#ff00ff" stroke-width="5.8" points="1370.2,2862.1 1377.9,2862.1 1379.8,2864.6 1381.7,2870.6 1383.7,2877.7 1385.6,2883.7 1387.5,2886.2 1389.5,2884.2 1391.4,2879.1 1393.3,2872.0 1395.3,2864.3 1397.2,2857.2 1398.8,2851.0 1400.4,2843.8 1402.0,2836.8 1403.6,2831.2 1405.2,2828.3 1406.9,2827.4 1408.5,2826.9 1410.1,2826.5 1411.7,2826.0 1413.3,2825.0 1414.9,2821.2 1416.5,2814.0 1418.1,2806.8 1419.7,2802.5 1421.3,2800.9 1423.0,2799.6 1424.6,2798.6 1426.2,2797.9 1427.8,2797.7 1429.1,2802.3 1430.4,2813.5 1431.7,2827.4 1432.9,2840.0 1434.2,2847.6 1436.2,2852.8 1438.1,2857.2 1440.0,2860.7 1442.0,2862.9 1443.9,2863.7 1445.8,2862.7 1447.6,2860.1 1449.5,2856.5 1451.4,2852.3 1453.3,2848.1 1455.2,2844.4 1457.1,2840.5 1459.0,2836.1 1461.0,2831.6 1462.9,2827.2 1464.8,2823.6 1466.7,2821.1 1468.7,2820.2 1470.5,2822.2 1472.3,2827.3 1474.1,2834.2 1475.9,2841.4 1477.7,2847.6 1479.3,2851.9 1480.9,2855.9 1482.5,2859.9 1484.1,2864.5 1485.7,2870.1 1487.4,2879.2 1489.0,2892.4 1490.6,2907.0 1492.2,2920.6 1493.8,2930.6 1495.4,2934.5 1497.0,2932.4 1498.6,2928.6 1500.2,2926.5 1501.8,2929.5 1503.5,2936.1 1505.1,2942.8 1506.7,2945.8 1508.3,2940.4 1509.9,2927.7 1511.5,2912.4 1513.1,2899.6 1514.7,2894.3 1516.6,2895.7 1518.5,2899.3 1520.4,2903.9 1522.2,2908.6 1524.1,2912.2 1526.0,2913.6 1527.6,2909.2 1529.2,2899.0 1530.8,2887.7 1532.4,2879.8 1534.0,2875.1 1535.7,2871.0 1537.3,2868.0 1538.9,2866.9 1539.9,2870.2 1541.0,2878.9 1542.1,2891.0 1543.2,2904.5 1544.2,2917.5 1545.3,2928.1 1546.8,2941.1 1548.3,2954.8 1549.8,2967.2 1551.2,2976.1 1552.7,2979.6 1554.3,2973.4 1555.9,2958.6 1557.5,2941.0 1559.2,2926.2 1560.8,2920.0 1562.5,2923.3 1564.3,2930.5 1566.1,2937.7 1567.8,2941.0 1569.8,2939.3 1571.7,2936.2 1573.6,2934.5 1575.4,2937.5 1577.2,2944.6 1579.0,2953.1 1580.7,2960.3 1582.6,2966.6 1584.5,2973.5 1586.4,2980.0 1588.2,2985.6 1590.1,2989.4 1592.0,2990.9 1593.9,2990.3 1595.8,2988.8 1597.6,2986.6 1599.5,2984.2 1601.4,2981.7 1603.3,2979.6 1604.9,2977.6 1606.5,2975.7 1608.1,2974.8 1609.7,2976.6 1611.3,2981.0 1612.9,2986.6 1614.5,2992.0 1616.1,2995.7 1617.9,2998.4 1619.7,3001.0 1621.5,3003.5 1623.3,3005.8 1625.1,3007.8 1626.9,3009.4 1628.7,3010.7 1630.5,3011.5 1632.2,3011.8 1633.9,3006.5 1635.5,2994.9 1637.1,2983.3 1638.7,2978.0 1640.6,2980.3 1642.4,2985.9 1644.3,2993.3 1646.2,3000.6 1648.1,3006.3 1650.0,3008.6 1651.7,3004.4 1653.5,2994.0 1655.3,2980.4 1657.0,2966.8 1658.8,2956.4 1660.6,2952.2 1662.3,2955.2 1664.0,2962.7 1665.7,2972.4 1667.4,2982.0 1669.2,2989.5 1670.9,2992.5 1672.5,2992.0 1674.1,2990.8 1675.7,2989.3 1677.3,2988.1 1678.9,2987.6 1680.5,2990.6 1682.2,2996.0 1683.8,2998.9 1685.4,2997.9 1687.0,2995.7 1688.6,2993.5 1690.2,2992.5 1692.1,2992.6 1694.0,2992.9 1695.8,2993.3 1697.7,2993.7 1699.6,2994.0 1701.5,2994.1 1703.1,2991.1 1704.7,2983.9 1706.3,2975.3 1707.9,2968.1 1709.5,2965.1 1711.5,2967.5 1713.4,2973.6 1715.3,2981.5 1717.2,2989.5 1719.2,2995.7 1721.0,3000.5 1722.9,3005.5 1724.7,3010.3 1726.5,3014.7 1728.4,3018.2 1730.2,3020.6 1732.1,3021.5 1733.9,3021.1 1735.7,3020.0 1737.6,3018.3 1739.4,3016.2 1741.3,3013.8 1743.1,3011.2 1744.9,3008.6 1746.8,3004.7 1748.7,2999.1 1750.6,2992.9 1752.5,2987.1 1754.3,2982.9 1756.2,2981.2 1757.8,2983.7 1759.4,2989.7 1761.0,2996.9 1762.6,3002.8 1764.3,3005.4 1766.0,3004.3 1767.8,3002.1 1769.6,2999.9 1771.3,2998.9 1773.2,3002.4 1775.0,3010.2 1776.9,3017.9 1778.7,3021.5 1780.7,3017.3 1782.6,3007.3 1784.5,2995.4 1786.5,2985.4 1788.4,2981.2 1790.3,2985.2 1792.3,2994.8 1794.2,3006.2 1796.1,3015.8 1798.1,3019.8 1799.9,3017.0 1801.8,3009.8 1803.7,3000.5 1805.6,2991.2 1807.5,2984.1 1809.3,2981.2 1811.3,2983.7 1813.2,2989.7 1815.1,2996.9 1817.1,3002.8 1819.0,3005.4 1820.9,3002.9 1822.8,2996.6 1824.6,2988.5 1826.5,2980.3 1828.4,2974.1 1830.3,2971.5 1831.9,2973.1 1833.5,2976.6 1835.1,2980.9 1836.7,2984.5 1838.3,2986.0 1839.9,2985.4 1841.5,2983.8 1843.1,2981.9 1844.8,2980.3 1846.4,2979.6 1848.2,2982.7 1850.1,2990.4 1852.0,3000.5 1853.9,3010.6 1855.8,3018.4 1857.6,3021.5 1859.2,3014.9 1860.9,3000.5 1862.5,2986.1 1864.1,2979.6 1865.8,2980.1 1867.6,2981.2 1869.3,2982.8 1871.2,2986.5 1873.0,2993.2 1874.8,3001.6 1876.7,3010.5 1878.5,3018.4 1880.4,3024.1 1882.2,3026.3 1883.8,3024.1 1885.4,3018.9 1887.0,3012.7 1888.6,3007.5 1890.2,3005.4 1892.1,3006.4 1893.9,3009.2 1895.8,3013.0 1897.6,3017.1 1899.4,3020.8 1901.3,3023.6 1903.1,3024.7 1905.0,3023.7 1906.9,3021.2 1908.8,3017.6 1910.6,3013.5 1912.5,3009.2 1914.4,3005.4 1916.3,3001.6 1918.3,2997.5 1920.2,2993.4 1922.1,2989.5 1924.1,2986.0 1925.7,2983.2 1927.3,2980.2 1928.9,2977.5 1930.5,2975.5 1932.1,2974.8 1933.7,2975.0 1935.3,2975.6 1936.9,2976.1 1938.5,2976.4 1940.2,2970.0 1941.8,2956.5 1943.4,2944.2 1945.0,2934.4 1946.6,2925.5 1948.2,2921.6 1949.4,2926.3 1950.6,2937.3 1951.8,2950.2 1953.0,2960.3 1955.0,2972.5 1956.9,2983.1 1958.8,2987.6 1960.6,2983.1 1962.3,2972.3 1964.0,2959.5 1965.8,2948.7 1967.5,2944.2 1969.4,2946.0 1971.3,2950.4 1973.2,2956.3 1975.0,2962.1 1976.9,2966.5 1978.8,2968.3 1980.7,2966.9 1982.7,2963.3 1984.6,2958.6 1986.5,2954.0 1988.5,2950.6 1990.1,2948.5 1991.7,2946.3 1993.3,2944.4 1994.9,2943.1 1996.5,2942.6 1998.4,2945.1 2000.4,2951.1 2002.3,2958.2 2004.2,2964.2 2006.2,2966.7 2007.1,2961.9 2008.1,2950.0 2009.1,2935.1 2010.0,2921.1 2011.0,2912.0 2012.6,2903.4 2014.2,2896.9 2015.8,2894.3 2016.8,2898.3 2017.8,2908.4 2018.7,2921.4 2019.7,2934.4 2020.7,2944.2 2022.3,2956.2 2023.9,2967.3 2025.5,2976.1 2027.1,2981.2 2028.7,2983.8 2030.3,2986.1 2031.9,2987.8 2033.5,2988.9 2035.1,2989.3 2036.7,2984.9 2038.4,2975.1 2040.0,2965.2 2041.6,2960.3 2043.2,2959.7 2044.8,2959.4 2046.4,2959.1 2048.0,2958.7 2049.6,2957.3 2051.2,2955.1 2052.8,2953.1 2054.5,2952.2 2056.1,2955.6 2057.7,2961.8 2059.3,2965.1 2060.9,2959.3 2062.5,2946.6 2064.1,2933.9 2065.7,2928.1 2067.3,2930.8 2068.9,2936.9 2070.6,2943.0 2072.2,2945.8 2073.8,2944.8 2075.4,2942.1 2077.0,2938.1 2078.6,2933.3 2080.2,2928.1 2082.0,2918.0 2083.8,2903.4 2085.5,2890.3 2087.3,2884.6 2089.2,2889.9 2091.2,2901.3 2093.1,2912.0 2094.9,2920.6 2096.8,2929.5 2098.7,2936.5 2100.5,2939.3 2101.9,2934.8 2103.3,2923.1 2104.6,2907.0 2106.0,2889.6 2107.4,2873.5 2108.8,2861.8 2110.2,2857.2 2111.5,2861.4 2112.9,2871.6 2114.3,2884.3 2115.6,2895.9 2116.9,2906.0 2118.2,2916.8 2119.5,2927.4 2120.8,2936.9 2122.1,2944.2 2123.7,2951.6 2125.3,2958.5 2126.9,2964.4 2128.5,2968.4 2130.1,2969.9 2131.7,2967.3 2133.3,2960.9 2135.0,2952.9 2136.6,2945.5 2138.2,2941.0 2139.8,2938.6 2141.4,2936.8 2143.0,2936.1 2144.9,2939.5 2146.8,2947.8 2148.6,2958.7 2150.5,2969.5 2152.4,2977.9 2154.3,2981.2 2155.9,2977.9 2157.5,2970.4 2159.1,2962.3 2160.7,2957.1 2162.3,2955.2 2163.9,2954.0 2165.5,2952.8 2167.2,2950.6 2168.4,2944.2 2169.7,2931.9 2171.0,2917.3 2172.3,2904.1 2173.6,2895.9 2175.2,2890.4 2176.8,2886.3 2178.4,2884.6 2180.0,2889.5 2181.6,2901.0 2183.3,2914.9 2184.9,2926.4 2186.5,2931.3 2188.4,2930.9 2190.3,2930.1 2192.3,2929.7 2194.0,2933.5 2195.7,2942.7 2197.5,2953.7 2199.2,2962.9 2201.0,2966.7 2202.9,2966.4 2204.8,2965.7 2206.8,2964.3 2208.7,2962.6 2210.6,2960.3 2211.9,2955.8 2213.2,2947.0 2214.5,2935.6 2215.8,2923.3 2217.1,2912.0 2218.3,2899.7 2219.6,2885.3 2220.9,2871.6 2222.2,2861.3 2223.5,2857.2 2225.1,2861.5 2226.7,2871.7 2228.3,2884.4 2229.9,2895.9 2231.5,2907.1 2233.2,2919.8 2234.8,2931.8 2236.4,2940.7 2238.0,2944.2 2239.6,2943.2 2241.2,2941.0 2242.8,2938.7 2244.4,2937.7 2246.4,2940.8 2248.4,2948.6 2250.4,2958.7 2252.4,2968.7 2254.4,2976.5 2256.3,2979.6 2258.1,2975.4 2259.9,2964.9 2261.7,2951.4 2263.6,2938.1 2265.4,2928.1 2267.2,2920.5 2269.0,2912.9 2270.9,2905.6 2272.7,2899.2 2274.6,2894.1 2276.4,2890.7 2278.2,2889.4 2280.2,2892.3 2282.1,2899.5 2284.0,2909.2 2286.0,2919.4 2287.9,2928.1 2289.5,2935.0 2291.1,2942.7 2292.7,2949.8 2294.3,2955.0 2295.9,2957.1 2297.6,2953.0 2299.2,2943.5 2300.8,2932.0 2302.4,2922.4 2304.0,2918.4 2305.7,2921.4 2307.5,2928.6 2309.2,2937.2 2310.9,2944.4 2312.7,2947.4 2314.5,2944.4 2316.4,2937.7 2318.2,2931.1 2320.1,2928.1 2322.0,2932.9 2324.0,2944.5 2325.9,2958.3 2327.8,2969.9 2329.8,2974.8 2331.0,2970.0 2332.3,2958.6 2333.6,2944.5 2334.9,2931.9 2336.2,2924.9 2337.8,2921.6 2339.4,2919.3 2341.0,2918.4 2342.6,2921.8 2344.2,2928.0 2345.9,2931.3 2347.5,2925.5 2349.1,2914.6 2350.7,2908.8 2352.6,2910.4 2354.5,2914.4 2356.5,2919.2 2358.4,2923.2 2360.3,2924.9 2362.0,2924.1 2363.6,2922.0 2365.2,2918.8 2366.8,2914.6"/>
<polyline class="c" stroke="#008000" stroke-width="5.8" points="1370.2,3018.2 1372.0,3018.2 1373.9,3018.1 1375.8,3018.0 1377.6,3017.9 1379.5,3017.8 1381.4,3017.6 1383.3,3017.4 1385.1,3017.2 1387.0,3017.0 1388.9,3016.8 1390.8,3016.6 1392.5,3016.4 1394.3,3016.1 1396.1,3015.7 1397.9,3015.4 1399.7,3015.0 1401.5,3014.6 1403.3,3014.2 1405.1,3013.8 1406.9,3013.4 1408.8,3013.0 1410.8,3012.5 1412.8,3012.1 1414.7,3011.6 1416.7,3011.2 1418.7,3010.8 1420.6,3010.5 1422.6,3010.3 1424.6,3010.2 1426.4,3010.5 1428.2,3011.2 1430.0,3012.2 1431.8,3013.4 1433.6,3014.6 1435.4,3015.6 1437.2,3016.3 1439.1,3016.6 1441.0,3016.6 1442.9,3016.5 1444.9,3016.4 1446.8,3016.3 1448.7,3016.1 1450.6,3016.0 1452.6,3015.7 1454.5,3015.5 1456.4,3015.3 1458.4,3015.0 1460.3,3014.6 1462.2,3013.9 1464.2,3013.2 1466.1,3012.7 1468.0,3012.4 1469.9,3012.8 1471.7,3013.7 1473.6,3014.9 1475.4,3016.4 1477.2,3017.8 1479.1,3019.0 1480.9,3019.8 1482.7,3020.4 1484.5,3020.9 1486.3,3021.4 1488.1,3021.9 1489.9,3022.3 1491.6,3022.6 1493.4,3022.8 1495.2,3023.0 1497.0,3023.1 1498.9,3023.0 1500.9,3023.0 1502.8,3022.9 1504.7,3022.7 1506.7,3022.6 1508.6,3022.4 1510.5,3022.3 1512.5,3022.2 1514.4,3022.1 1516.3,3022.1 1518.1,3022.2 1519.9,3022.4 1521.7,3022.8 1523.5,3023.2 1525.3,3023.6 1527.1,3024.0 1528.9,3024.3 1530.6,3024.6 1532.4,3024.7 1534.0,3024.5 1535.7,3024.1 1537.3,3023.6 1538.9,3023.2 1540.5,3023.1 1542.4,3023.9 1544.2,3025.8 1546.1,3028.4 1548.0,3030.9 1549.9,3032.9 1551.7,3033.7 1553.4,3033.1 1555.0,3031.7 1556.6,3029.9 1558.2,3028.5 1559.8,3027.9 1561.6,3028.0 1563.4,3028.4 1565.2,3029.0 1567.0,3029.7 1568.9,3030.5 1570.7,3031.3 1572.5,3032.1 1574.3,3032.7 1576.1,3033.3 1577.9,3034.0 1579.7,3034.7 1581.4,3035.4 1583.2,3036.1 1585.0,3036.7 1586.8,3037.1 1588.6,3037.4 1590.4,3037.6 1592.3,3037.5 1594.3,3037.2 1596.2,3036.9 1598.1,3036.4 1600.0,3035.9 1602.0,3035.5 1603.9,3035.0 1605.8,3034.7 1607.8,3034.4 1609.7,3034.3 1611.6,3034.5 1613.6,3034.9 1615.5,3035.6 1617.4,3036.4 1619.4,3037.2 1621.3,3038.1 1623.2,3038.9 1625.2,3039.5 1627.1,3040.0 1629.0,3040.1 1631.0,3039.7 1632.9,3038.7 1634.8,3037.4 1636.8,3036.4 1638.7,3035.9 1640.6,3036.3 1642.4,3037.0 1644.3,3038.0 1646.2,3039.0 1648.1,3039.8 1650.0,3040.1 1651.8,3039.7 1653.7,3038.5 1655.6,3036.9 1657.5,3035.4 1659.3,3034.2 1661.2,3033.7 1663.0,3033.8 1664.8,3034.1 1666.6,3034.5 1668.4,3034.9 1670.2,3035.5 1672.0,3036.0 1673.7,3036.4 1675.5,3036.7 1677.3,3036.9 1679.2,3037.0 1681.1,3037.1 1683.0,3037.2 1684.8,3037.3 1686.7,3037.3 1688.6,3037.4 1690.5,3037.4 1692.3,3037.5 1694.2,3037.5 1696.1,3037.5 1698.0,3037.5 1699.9,3037.6 1701.8,3037.1 1703.7,3035.9 1705.7,3034.4 1707.6,3033.2 1709.5,3032.7 1711.5,3032.9 1713.4,3033.5 1715.3,3034.3 1717.2,3035.3 1719.2,3036.4 1721.1,3037.5 1723.0,3038.5 1725.0,3039.4 1726.9,3039.9 1728.8,3040.1 1730.8,3040.0 1732.7,3039.6 1734.7,3039.1 1736.7,3038.3 1738.6,3037.5 1740.6,3036.6 1742.5,3035.6 1744.5,3034.7 1746.4,3033.7 1748.4,3032.9 1750.3,3032.2 1752.3,3031.6 1754.3,3031.2 1756.2,3031.1 1758.0,3031.2 1759.8,3031.4 1761.6,3031.7 1763.5,3032.1 1765.3,3032.6 1767.1,3033.1 1768.9,3033.7 1770.7,3034.3 1772.6,3035.4 1774.6,3036.8 1776.5,3038.4 1778.4,3039.6 1780.4,3040.1 1782.3,3039.7 1784.2,3038.7 1786.2,3037.4 1788.1,3036.4 1790.0,3035.9 1791.6,3036.4 1793.2,3037.4 1794.8,3038.7 1796.5,3039.7 1798.1,3040.1 1799.9,3039.8 1801.8,3038.9 1803.7,3037.7 1805.6,3036.4 1807.5,3035.2 1809.3,3034.3 1811.3,3033.7 1813.2,3033.1 1815.1,3032.6 1817.1,3032.1 1819.0,3031.7 1820.9,3031.3 1822.9,3030.8 1824.8,3030.4 1826.7,3030.0 1828.7,3029.5 1830.4,3029.0 1832.2,3028.4 1834.0,3027.8 1835.8,3027.2 1837.6,3026.6 1839.4,3026.1 1841.2,3025.7 1843.0,3025.4 1844.8,3025.3 1846.6,3025.9 1848.4,3027.4 1850.3,3029.5 1852.1,3031.8 1854.0,3033.8 1855.8,3035.4 1857.6,3035.9 1859.2,3034.4 1860.9,3030.8 1862.5,3027.0 1864.1,3024.7 1866.1,3023.6 1868.0,3023.1 1869.8,3024.0 1871.6,3026.3 1873.4,3029.4 1875.2,3032.8 1877.0,3036.0 1878.8,3038.3 1880.6,3039.2 1882.5,3038.7 1884.5,3037.5 1886.4,3036.0 1888.3,3034.8 1890.2,3034.3 1892.1,3034.7 1894.0,3035.6 1895.9,3036.7 1897.8,3037.9 1899.6,3038.8 1901.5,3039.2 1903.4,3038.9 1905.2,3038.1 1907.0,3037.0 1908.9,3035.6 1910.7,3034.1 1912.6,3032.5 1914.4,3031.1 1916.2,3029.6 1918.1,3027.7 1919.9,3025.7 1921.8,3023.8 1923.6,3022.0 1925.4,3020.7 1927.3,3019.8 1929.2,3019.4 1931.1,3019.2 1933.1,3018.9 1935.0,3018.7 1936.9,3018.2 1938.8,3017.2 1940.7,3015.3 1942.6,3013.0 1944.4,3010.9 1946.3,3009.2 1948.2,3008.6 1950.1,3010.1 1952.1,3013.7 1954.0,3018.0 1955.9,3021.6 1957.9,3023.1 1959.6,3022.0 1961.3,3019.3 1963.0,3015.8 1964.7,3012.3 1966.4,3009.6 1968.2,3008.6 1970.0,3009.4 1971.8,3011.4 1973.6,3013.8 1975.4,3015.8 1977.2,3016.6 1979.1,3015.5 1981.0,3012.7 1983.0,3009.3 1984.9,3006.5 1986.8,3005.4 1988.7,3005.8 1990.6,3006.8 1992.5,3008.3 1994.4,3010.1 1996.2,3011.8 1998.1,3013.4 1999.7,3014.9 2001.3,3016.5 2002.9,3018.2 2004.6,3019.4 2006.2,3019.8 2007.9,3018.4 2009.7,3014.8 2011.5,3010.2 2013.2,3005.5 2015.0,3002.0 2016.8,3000.5 2018.5,3002.5 2020.3,3007.3 2022.0,3013.0 2023.7,3017.8 2025.5,3019.8 2035.1,3019.8 2036.7,3018.8 2038.4,3016.4 2040.0,3013.6 2041.6,3011.2 2043.2,3010.2 2051.2,3010.2 2053.1,3011.2 2054.9,3013.4 2056.8,3015.6 2058.6,3016.6 2060.6,3014.4 2062.5,3009.4 2064.4,3004.4 2066.4,3002.1 2068.0,3003.4 2069.6,3006.2 2071.2,3008.9 2072.8,3010.2 2074.7,3009.1 2076.5,3006.3 2078.4,3002.7 2080.2,2998.9 2082.0,2994.3 2083.8,2988.4 2085.5,2983.3 2087.3,2981.2 2089.2,2983.5 2091.0,2988.8 2092.9,2994.7 2094.7,2998.9 2096.3,3001.2 2097.9,3003.3 2099.5,3004.8 2101.1,3005.4 2102.9,3002.2 2104.8,2994.6 2106.6,2985.5 2108.4,2977.9 2110.2,2974.8 2111.9,2977.0 2113.7,2982.1 2115.5,2987.5 2117.2,2990.9 2118.9,2991.9 2120.5,2992.5 2122.1,2993.1 2123.7,2994.1 2125.3,2996.4 2126.9,3000.1 2128.5,3004.1 2130.1,3007.3 2131.7,3008.6 2133.6,3007.4 2135.5,3004.4 2137.4,3000.5 2139.2,2996.7 2141.1,2993.7 2143.0,2992.5 2144.9,2994.6 2146.8,3000.0 2148.6,3007.0 2150.5,3013.9 2152.4,3019.3 2154.3,3021.5 2155.9,3020.8 2157.5,3019.1 2159.1,3016.7 2160.7,3014.2 2162.3,3011.8 2163.9,3009.7 2165.5,3007.5 2167.2,3005.0 2168.8,3002.1 2170.6,2997.0 2172.4,2989.9 2174.2,2982.7 2176.0,2977.0 2177.8,2974.8 2179.5,2976.9 2181.3,2981.6 2183.1,2986.6 2184.9,2989.3 2186.5,2989.8 2188.1,2990.1 2189.7,2990.4 2191.3,2990.9 2192.9,2993.2 2194.5,2997.6 2196.1,3002.7 2197.7,3006.8 2199.3,3008.6 2201.0,3006.4 2202.6,3001.7 2204.2,2996.8 2205.8,2994.1 2207.4,2993.6 2209.0,2993.3 2210.6,2993.0 2212.2,2992.5 2214.1,2989.5 2216.0,2983.4 2217.9,2975.8 2219.7,2968.3 2221.6,2962.6 2223.5,2960.3 2225.1,2961.4 2226.7,2964.4 2228.3,2968.4 2229.9,2972.6 2231.5,2976.4 2233.2,2980.0 2234.8,2983.8 2236.4,2987.1 2238.0,2989.3 2239.6,2990.3 2241.2,2990.9 2242.8,2991.5 2244.4,2992.5 2246.4,2995.0 2248.4,2999.2 2250.4,3004.0 2252.4,3008.6 2254.4,3012.1 2256.3,3013.4 2258.1,3011.0 2259.9,3005.2 2261.7,2997.9 2263.6,2990.8 2265.4,2986.0 2267.2,2983.0 2269.0,2980.0 2270.9,2977.3 2272.7,2975.0 2274.6,2973.2 2276.4,2972.0 2278.2,2971.5 2279.8,2972.3 2281.5,2974.2 2283.1,2976.9 2284.7,2979.9 2286.3,2982.8 2287.9,2986.2 2289.5,2990.4 2291.1,2994.5 2292.7,2997.7 2294.3,2998.9 2296.3,2995.9 2298.2,2988.7 2300.1,2980.1 2302.1,2973.0 2304.0,2969.9 2305.7,2972.3 2307.5,2977.9 2309.2,2984.5 2310.9,2990.1 2312.7,2992.5 2314.6,2987.9 2316.6,2979.4 2318.5,2974.8 2320.2,2976.7 2321.9,2981.4 2323.6,2987.6 2325.4,2993.8 2327.1,2998.6 2328.8,3000.5 2330.6,2996.8 2332.5,2988.5 2334.3,2979.7 2336.2,2974.8 2338.1,2973.2 2340.1,2972.0 2342.0,2971.1 2343.9,2970.5 2345.9,2969.9 2347.8,2969.5 2349.7,2969.3 2351.6,2969.0 2353.6,2968.7 2355.5,2968.3 2357.4,2967.6 2359.3,2966.6 2361.1,2965.4 2363.0,2963.8 2364.9,2962.1 2366.8,2960.3"/>
</g>
<path class="f" d="M1353.5,3043.8H1369.0M1361.0,2938.2H1369.0M1353.5,2832.6H1369.0M1361.0,2727.0H1369.0M1353.5,2621.4H1369.0M1361.0,2515.7H1369.0M1353.5,2410.1H1369.0M1361.0,2304.5H1369.0M1353.5,2198.9H1369.0M1369.0,3043.8V3058.3M1493.7,3043.8V3051.3M1618.4,3043.8V3058.3M1743.1,3043.8V3051.3M1867.8,3043.8V3058.3M1992.4,3043.8V3051.3M2117.1,3043.8V3058.3M2241.8,3043.8V3051.3M2366.5,3043.8V3058.3"/>
<text class="tk" x="1341.5" y="3064.3" text-anchor="end">0</text>
<text class="tk" x="1341.5" y="2853.1" text-anchor="end">5</text>
<text class="tk" x="1341.5" y="2641.9" text-anchor="end">10</text>
<text class="tk" x="1341.5" y="2430.6" text-anchor="end">15</text>
<text class="tk" x="1341.5" y="2219.4" text-anchor="end">20</text>
<text class="tk" x="1369.0" y="3123.1" text-anchor="middle">-2</text>
<text class="tk" x="1618.4" y="3123.1" text-anchor="middle">-1</text>
<text class="tk" x="1867.8" y="3123.1" text-anchor="middle">0</text>
<text class="tk" x="2117.1" y="3123.1" text-anchor="middle">1</text>
<text class="tk" x="2366.5" y="3123.1" text-anchor="middle">2</text>
<text class="xl" x="1868.2" y="3239.3" text-anchor="middle">E - E<tspan class="sub" dy="23">f</tspan><tspan dy="-23"> (eV)</tspan></text>
<text class="tt" x="1363.7" y="2170.6">GeAs/Cu</text>
</g>
<g id="legend">
<line x1="296" y1="3333.8" x2="484" y2="3333.8" stroke="#000000" stroke-width="6" stroke-linecap="round"/>
<text class="lg" x="507.7" y="3363.5">total</text>
<line x1="762" y1="3333.8" x2="950" y2="3333.8" stroke="#ff0000" stroke-width="6" stroke-linecap="round"/>
<text class="lg it" x="978" y="3363.5">s</text>
<line x1="1112.5" y1="3333.8" x2="1300.5" y2="3333.8" stroke="#0000ff" stroke-width="6" stroke-linecap="round"/>
<text class="lg it" x="1323" y="3363.5">p<tspan class="sub" style="font-style:normal" dy="22">x+y</tspan></text>
<line x1="1555" y1="3333.8" x2="1743" y2="3333.8" stroke="#ff00ff" stroke-width="6" stroke-linecap="round"/>
<text class="lg it" x="1766" y="3363.5">p<tspan class="sub" style="font-style:normal" dy="22">z</tspan></text>
<line x1="1936.5" y1="3333.8" x2="2124.5" y2="3333.8" stroke="#008000" stroke-width="6" stroke-linecap="round"/>
<text class="lg it" x="2151" y="3363.5">d</text>
</g>
</svg>
</body></html>
